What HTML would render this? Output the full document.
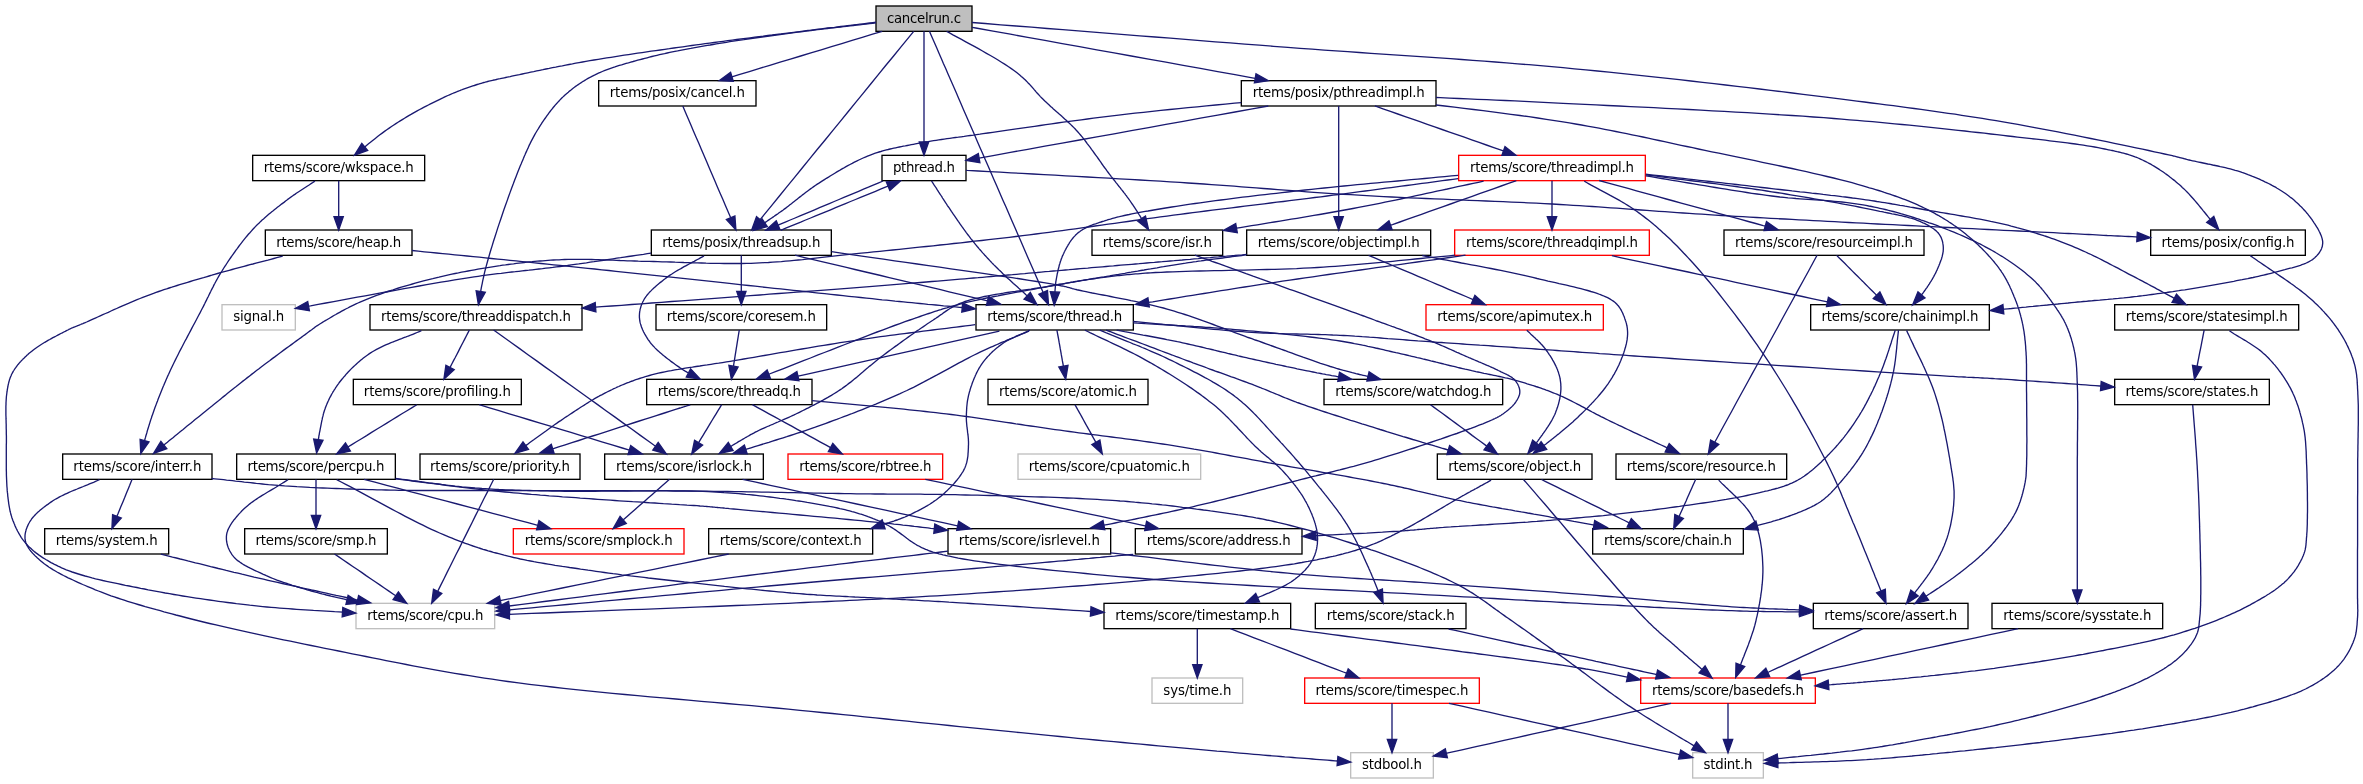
<!DOCTYPE html>
<html><head><meta charset="utf-8"><title>cancelrun.c</title>
<style>
html,body{margin:0;padding:0;background:#fff;}
svg{display:block;will-change:transform;}
text{font-family:"DejaVu Sans","Liberation Sans",sans-serif;font-size:13.333px;fill:#000;text-anchor:middle;}
.e path{fill:none;stroke:#191970;stroke-width:1.333;}
.e polygon{fill:#191970;stroke:#191970;stroke-width:1.333;}
.n rect{stroke-width:1.333;}
</style></head><body>
<svg width="2363" height="784" viewBox="0 0 2363 784">
<rect x="0" y="0" width="2363" height="784" fill="#ffffff"/>
<g class="n">
<rect x="876.00" y="6.00" width="96.00" height="25.33" fill="#bfbfbf" stroke="#000000"/>
<rect x="598.67" y="80.67" width="157.33" height="25.33" fill="#ffffff" stroke="#000000"/>
<rect x="1241.33" y="80.67" width="194.67" height="25.33" fill="#ffffff" stroke="#000000"/>
<rect x="252.67" y="155.33" width="172.00" height="25.33" fill="#ffffff" stroke="#000000"/>
<rect x="882.00" y="155.33" width="84.00" height="25.33" fill="#ffffff" stroke="#000000"/>
<rect x="1458.67" y="155.33" width="186.67" height="25.33" fill="#ffffff" stroke="#ff0000"/>
<rect x="265.33" y="230.00" width="146.67" height="25.33" fill="#ffffff" stroke="#000000"/>
<rect x="651.33" y="230.00" width="180.00" height="25.33" fill="#ffffff" stroke="#000000"/>
<rect x="1092.00" y="230.00" width="130.67" height="25.33" fill="#ffffff" stroke="#000000"/>
<rect x="1246.67" y="230.00" width="184.00" height="25.33" fill="#ffffff" stroke="#000000"/>
<rect x="1454.67" y="230.00" width="194.67" height="25.33" fill="#ffffff" stroke="#ff0000"/>
<rect x="1724.00" y="230.00" width="200.00" height="25.33" fill="#ffffff" stroke="#000000"/>
<rect x="2150.67" y="230.00" width="154.67" height="25.33" fill="#ffffff" stroke="#000000"/>
<rect x="222.00" y="304.67" width="73.33" height="25.33" fill="#ffffff" stroke="#bfbfbf"/>
<rect x="370.00" y="304.67" width="212.00" height="25.33" fill="#ffffff" stroke="#000000"/>
<rect x="656.00" y="304.67" width="170.67" height="25.33" fill="#ffffff" stroke="#000000"/>
<rect x="976.00" y="304.67" width="157.33" height="25.33" fill="#ffffff" stroke="#000000"/>
<rect x="1426.00" y="304.67" width="177.33" height="25.33" fill="#ffffff" stroke="#ff0000"/>
<rect x="1810.67" y="304.67" width="178.67" height="25.33" fill="#ffffff" stroke="#000000"/>
<rect x="2114.67" y="304.67" width="184.00" height="25.33" fill="#ffffff" stroke="#000000"/>
<rect x="353.33" y="379.33" width="168.00" height="25.33" fill="#ffffff" stroke="#000000"/>
<rect x="646.67" y="379.33" width="165.33" height="25.33" fill="#ffffff" stroke="#000000"/>
<rect x="988.00" y="379.33" width="160.00" height="25.33" fill="#ffffff" stroke="#000000"/>
<rect x="1324.00" y="379.33" width="178.67" height="25.33" fill="#ffffff" stroke="#000000"/>
<rect x="2114.67" y="379.33" width="154.67" height="25.33" fill="#ffffff" stroke="#000000"/>
<rect x="62.67" y="454.00" width="149.33" height="25.33" fill="#ffffff" stroke="#000000"/>
<rect x="236.67" y="454.00" width="158.67" height="25.33" fill="#ffffff" stroke="#000000"/>
<rect x="420.00" y="454.00" width="160.00" height="25.33" fill="#ffffff" stroke="#000000"/>
<rect x="604.67" y="454.00" width="158.67" height="25.33" fill="#ffffff" stroke="#000000"/>
<rect x="788.00" y="454.00" width="154.67" height="25.33" fill="#ffffff" stroke="#ff0000"/>
<rect x="1018.00" y="454.00" width="182.67" height="25.33" fill="#ffffff" stroke="#bfbfbf"/>
<rect x="1437.33" y="454.00" width="154.67" height="25.33" fill="#ffffff" stroke="#000000"/>
<rect x="1616.00" y="454.00" width="170.67" height="25.33" fill="#ffffff" stroke="#000000"/>
<rect x="44.67" y="528.67" width="124.00" height="25.33" fill="#ffffff" stroke="#000000"/>
<rect x="244.67" y="528.67" width="142.67" height="25.33" fill="#ffffff" stroke="#000000"/>
<rect x="513.33" y="528.67" width="170.67" height="25.33" fill="#ffffff" stroke="#ff0000"/>
<rect x="708.67" y="528.67" width="164.00" height="25.33" fill="#ffffff" stroke="#000000"/>
<rect x="948.00" y="528.67" width="162.67" height="25.33" fill="#ffffff" stroke="#000000"/>
<rect x="1135.33" y="528.67" width="166.67" height="25.33" fill="#ffffff" stroke="#000000"/>
<rect x="1592.67" y="528.67" width="150.67" height="25.33" fill="#ffffff" stroke="#000000"/>
<rect x="356.00" y="603.33" width="138.67" height="25.33" fill="#ffffff" stroke="#bfbfbf"/>
<rect x="1104.00" y="603.33" width="186.67" height="25.33" fill="#ffffff" stroke="#000000"/>
<rect x="1315.33" y="603.33" width="150.67" height="25.33" fill="#ffffff" stroke="#000000"/>
<rect x="1813.33" y="603.33" width="154.67" height="25.33" fill="#ffffff" stroke="#000000"/>
<rect x="1992.00" y="603.33" width="170.67" height="25.33" fill="#ffffff" stroke="#000000"/>
<rect x="1152.00" y="678.00" width="90.67" height="25.33" fill="#ffffff" stroke="#bfbfbf"/>
<rect x="1304.67" y="678.00" width="174.67" height="25.33" fill="#ffffff" stroke="#ff0000"/>
<rect x="1640.67" y="678.00" width="174.67" height="25.33" fill="#ffffff" stroke="#ff0000"/>
<rect x="1350.67" y="752.67" width="82.67" height="25.33" fill="#ffffff" stroke="#bfbfbf"/>
<rect x="1692.67" y="752.67" width="70.67" height="25.33" fill="#ffffff" stroke="#bfbfbf"/>
</g>
<g class="e">
<path d="M876.0,22.2 L872.8,22.6 L869.5,23.0 L866.3,23.4 L863.1,23.8 L859.9,24.2 L856.7,24.6 L853.5,25.0 L850.3,25.3 L847.2,25.7 L844.0,26.1 L840.8,26.5 L837.6,26.9 L834.4,27.3 L831.1,27.6 L827.9,28.0 L824.6,28.4 L821.4,28.8 L818.1,29.2 L814.8,29.6 L811.4,30.1 L808.0,30.5 L804.6,30.9 L801.2,31.3 L797.7,31.8 L793.6,32.3 L789.4,32.8 L785.2,33.3 L780.9,33.9 L776.6,34.4 L772.3,35.0 L767.9,35.5 L763.5,36.1 L759.1,36.6 L754.7,37.2 L750.2,37.8 L745.7,38.3 L741.2,38.9 L736.7,39.5 L732.2,40.1 L727.6,40.7 L723.1,41.3 L718.6,41.9 L714.1,42.5 L709.6,43.1 L705.1,43.7 L700.6,44.3 L696.2,44.9 L691.8,45.5 L687.3,46.2 L682.9,46.8 L678.4,47.4 L673.9,48.0 L669.4,48.7 L664.8,49.3 L660.3,50.0 L655.8,50.6 L651.2,51.2 L646.7,51.9 L642.1,52.6 L637.6,53.2 L633.1,53.9 L628.6,54.6 L624.2,55.2 L619.8,55.9 L615.4,56.6 L611.0,57.3 L606.7,57.9 L602.4,58.6 L598.2,59.3 L594.0,60.0 L589.9,60.7 L585.9,61.4 L582.5,62.0 L579.1,62.6 L575.8,63.2 L572.4,63.9 L569.0,64.5 L565.7,65.1 L562.3,65.8 L559.0,66.4 L555.7,67.1 L552.5,67.7 L549.2,68.4 L546.0,69.0 L542.9,69.7 L539.8,70.3 L536.7,70.9 L533.7,71.6 L530.7,72.2 L527.8,72.8 L524.9,73.4 L522.2,74.0 L519.5,74.6 L516.8,75.1 L514.2,75.7 L511.8,76.2 L510.2,76.6 L508.7,76.9 L507.2,77.2 L505.7,77.5 L504.3,77.8 L502.9,78.1 L501.5,78.4 L500.2,78.7 L498.9,78.9 L497.6,79.2 L496.4,79.5 L495.1,79.8 L493.9,80.0 L492.6,80.3 L491.4,80.6 L490.2,80.9 L488.9,81.2 L487.7,81.5 L486.5,81.8 L485.2,82.2 L483.9,82.5 L482.6,82.9 L481.3,83.3 L480.0,83.7 L478.6,84.1 L477.1,84.5 L475.7,85.0 L474.3,85.5 L472.8,85.9 L471.4,86.4 L470.0,86.9 L468.5,87.4 L467.1,87.9 L465.7,88.4 L464.2,88.9 L462.8,89.4 L461.3,90.0 L459.9,90.5 L458.4,91.1 L457.0,91.7 L455.5,92.3 L454.0,92.9 L452.5,93.5 L451.0,94.2 L449.5,94.8 L447.9,95.5 L446.4,96.2 L444.8,96.9 L442.8,97.9 L440.8,98.8 L438.8,99.8 L436.7,100.8 L434.7,101.8 L432.6,102.8 L430.5,103.9 L428.4,105.0 L426.2,106.1 L424.1,107.2 L421.9,108.3 L419.7,109.5 L417.6,110.7 L415.4,111.9 L413.2,113.1 L411.0,114.4 L408.8,115.6 L406.7,116.9 L404.5,118.2 L402.3,119.6 L400.2,120.9 L398.0,122.2 L395.9,123.6 L393.8,125.0 L391.5,126.5 L389.2,128.1 L386.8,129.8 L384.5,131.4 L382.2,133.1 L379.9,134.8 L377.6,136.6 L375.3,138.4 L373.0,140.2 L370.8,142.0 L368.5,143.8 L366.2,145.7 L364.7,146.9"/>
<path d="M876.0,22.9 L872.8,23.3 L869.5,23.6 L866.2,24.0 L863.0,24.4 L859.7,24.8 L856.5,25.1 L853.3,25.5 L850.0,25.9 L846.8,26.3 L843.5,26.6 L840.3,27.0 L837.0,27.4 L833.8,27.8 L830.5,28.1 L827.3,28.5 L824.0,28.9 L820.7,29.3 L817.5,29.7 L814.2,30.1 L810.9,30.5 L807.6,30.9 L804.3,31.3 L801.0,31.8 L797.7,32.2 L794.2,32.6 L790.7,33.1 L787.1,33.6 L783.6,34.1 L780.0,34.5 L776.4,35.0 L772.8,35.5 L769.2,36.0 L765.6,36.5 L762.0,37.0 L758.3,37.5 L754.7,38.0 L751.1,38.5 L747.5,39.0 L743.9,39.6 L740.4,40.1 L736.8,40.6 L733.3,41.2 L729.8,41.7 L726.4,42.3 L723.0,42.8 L719.6,43.4 L716.2,43.9 L713.0,44.5 L710.1,45.0 L707.3,45.4 L704.5,45.9 L701.7,46.4 L699.0,46.9 L696.2,47.4 L693.5,47.9 L690.8,48.4 L688.1,48.8 L685.5,49.3 L682.8,49.8 L680.2,50.3 L677.6,50.9 L674.9,51.4 L672.3,51.9 L669.8,52.4 L667.2,53.0 L664.6,53.6 L662.1,54.1 L659.5,54.7 L657.0,55.3 L654.5,55.9 L651.9,56.5 L649.4,57.2 L647.1,57.8 L644.8,58.4 L642.4,59.0 L640.1,59.6 L637.7,60.2 L635.4,60.8 L633.1,61.5 L630.8,62.1 L628.4,62.8 L626.1,63.4 L623.9,64.1 L621.6,64.8 L619.3,65.4 L617.1,66.1 L614.9,66.9 L612.7,67.6 L610.6,68.3 L608.5,69.1 L606.4,69.9 L604.3,70.7 L602.3,71.5 L600.3,72.4 L598.4,73.2 L596.5,74.1 L594.9,74.9 L593.4,75.6 L591.9,76.4 L590.5,77.2 L589.0,77.9 L587.6,78.7 L586.2,79.5 L584.8,80.4 L583.5,81.2 L582.1,82.0 L580.8,82.9 L579.5,83.7 L578.2,84.6 L576.9,85.5 L575.6,86.4 L574.4,87.3 L573.1,88.2 L571.9,89.2 L570.7,90.2 L569.5,91.1 L568.3,92.2 L567.1,93.2 L565.9,94.2 L564.7,95.3 L563.5,96.4 L562.3,97.6 L561.1,98.7 L560.0,99.9 L558.8,101.2 L557.7,102.4 L556.5,103.7 L555.4,104.9 L554.3,106.2 L553.2,107.5 L552.2,108.8 L551.1,110.2 L550.1,111.5 L549.0,112.9 L548.0,114.3 L547.0,115.7 L546.0,117.1 L545.0,118.5 L544.0,119.9 L543.0,121.3 L542.1,122.7 L541.2,124.2 L540.2,125.6 L539.3,127.1 L538.4,128.6 L537.5,130.0 L536.6,131.5 L535.7,133.0 L534.9,134.4 L534.1,135.9 L533.3,137.4 L532.5,138.9 L531.7,140.4 L530.9,141.9 L530.2,143.4 L529.4,144.9 L528.7,146.5 L528.0,148.1 L527.2,149.7 L526.5,151.4 L525.7,153.1 L525.0,154.8 L524.2,156.5 L523.5,158.3 L522.7,160.2 L521.9,162.1 L521.1,164.0 L520.2,166.0 L518.9,169.3 L517.5,172.7 L516.1,176.4 L514.6,180.2 L513.2,184.1 L511.6,188.2 L510.1,192.4 L508.5,196.7 L507.0,201.1 L505.4,205.5 L503.8,210.0 L502.3,214.5 L500.8,219.0 L499.2,223.6 L497.7,228.1 L496.3,232.6 L494.9,237.0 L493.5,241.3 L492.2,245.6 L490.9,249.8 L489.7,253.8 L488.6,257.7 L487.5,261.5 L486.5,265.1 L485.8,267.6 L485.2,270.0 L484.6,272.4 L484.1,274.7 L483.6,277.0 L483.1,279.2 L482.6,281.4 L482.2,283.6 L481.7,285.8 L481.3,287.9 L480.9,290.1 L480.7,291.5"/>
<path d="M882.2,31.3 L872.6,34.2 L862.3,37.3 L852.1,40.4 L841.8,43.6 L831.5,46.7 L821.2,49.8 L810.9,52.9 L800.7,56.0 L790.4,59.1 L780.1,62.2 L769.8,65.3 L759.6,68.4 L749.3,71.6 L739.0,74.7 L731.9,76.8"/>
<path d="M913.7,31.3 L908.8,37.3 L901.2,46.7 L893.6,56.0 L885.9,65.3 L878.3,74.7 L870.7,84.0 L863.1,93.3 L855.5,102.7 L847.9,112.0 L840.3,121.3 L832.7,130.7 L825.1,140.0 L817.4,149.3 L809.8,158.7 L802.2,168.0 L794.6,177.3 L787.0,186.7 L779.4,196.0 L771.8,205.3 L764.2,214.7 L760.1,219.7"/>
<path d="M924.0,31.3 L924.0,37.3 L924.0,43.6 L924.0,49.8 L924.0,56.0 L924.0,62.2 L924.0,68.4 L924.0,74.7 L924.0,80.9 L924.0,87.1 L924.0,93.3 L924.0,99.6 L924.0,105.8 L924.0,112.0 L924.0,118.2 L924.0,124.4 L924.0,130.7 L924.0,136.9 L924.0,142.0"/>
<path d="M929.5,31.3 L930.5,33.7 L932.7,38.7 L934.8,43.6 L937.0,48.6 L939.1,53.5 L941.3,58.4 L943.4,63.4 L945.6,68.3 L947.7,73.2 L949.9,78.2 L952.0,83.1 L954.2,88.1 L956.4,93.1 L958.6,98.2 L960.8,103.3 L963.0,108.4 L965.2,113.5 L967.5,118.7 L969.8,123.9 L972.1,129.2 L974.4,134.6 L976.7,140.0 L979.5,146.4 L982.3,152.8 L985.2,159.4 L988.1,166.0 L991.0,172.7 L993.9,179.4 L996.9,186.2 L999.8,193.0 L1002.8,199.9 L1005.9,206.8 L1008.9,213.8 L1011.9,220.8 L1015.0,227.8 L1018.0,234.8 L1021.1,241.8 L1024.2,248.9 L1027.2,255.9 L1030.3,262.9 L1033.4,270.0 L1036.4,277.0 L1039.5,283.9 L1042.5,290.9 L1043.2,292.5"/>
<path d="M946.6,31.3 L948.7,32.4 L952.9,34.8 L957.2,37.1 L961.5,39.4 L965.8,41.8 L970.0,44.1 L974.3,46.4 L978.4,48.7 L982.5,51.0 L986.5,53.3 L990.4,55.5 L994.3,57.8 L998.0,60.0 L1001.5,62.2 L1005.0,64.4 L1008.2,66.5 L1011.3,68.6 L1014.3,70.7 L1017.0,72.8 L1018.5,74.0 L1020.0,75.2 L1021.3,76.4 L1022.6,77.5 L1023.9,78.7 L1025.1,79.8 L1026.3,81.0 L1027.4,82.1 L1028.4,83.2 L1029.5,84.3 L1030.5,85.4 L1031.5,86.5 L1032.5,87.6 L1033.4,88.7 L1034.4,89.9 L1035.4,91.0 L1036.3,92.1 L1037.3,93.2 L1038.3,94.3 L1039.3,95.4 L1040.4,96.6 L1041.5,97.7 L1042.6,98.8 L1043.8,100.0 L1045.1,101.3 L1046.5,102.6 L1047.8,103.8 L1049.2,105.1 L1050.6,106.4 L1052.0,107.6 L1053.4,108.9 L1054.9,110.2 L1056.3,111.4 L1057.8,112.7 L1059.2,114.0 L1060.7,115.3 L1062.1,116.6 L1063.6,117.9 L1065.0,119.2 L1066.5,120.5 L1067.9,121.9 L1069.4,123.2 L1070.8,124.6 L1072.2,126.0 L1073.6,127.4 L1075.0,128.8 L1076.3,130.3 L1077.7,131.8 L1079.1,133.4 L1080.5,135.0 L1081.9,136.7 L1083.3,138.4 L1084.7,140.2 L1086.1,142.0 L1087.4,143.8 L1088.8,145.6 L1090.2,147.4 L1091.5,149.3 L1092.9,151.1 L1094.2,153.0 L1095.5,154.8 L1096.9,156.7 L1098.2,158.5 L1099.5,160.4 L1100.8,162.2 L1102.0,164.0 L1103.3,165.8 L1104.5,167.5 L1105.8,169.2 L1107.0,170.9 L1108.2,172.5 L1109.4,174.1 L1110.4,175.4 L1111.3,176.6 L1112.3,177.8 L1113.2,179.0 L1114.2,180.2 L1115.1,181.4 L1116.0,182.6 L1116.9,183.7 L1117.8,184.8 L1118.7,186.0 L1119.6,187.1 L1120.5,188.2 L1121.3,189.3 L1122.2,190.4 L1123.1,191.5 L1123.9,192.6 L1124.8,193.7 L1125.6,194.8 L1126.5,195.9 L1127.3,197.1 L1128.1,198.2 L1129.0,199.3 L1129.8,200.5 L1130.6,201.7 L1131.4,202.8 L1132.2,204.0 L1133.0,205.1 L1133.8,206.3 L1134.5,207.4 L1135.3,208.6 L1136.1,209.8 L1136.8,211.0 L1137.6,212.1 L1138.3,213.3 L1139.0,214.5 L1139.8,215.7 L1140.5,216.8 L1141.2,218.0 L1141.5,218.5"/>
<path d="M972.0,27.3 L975.8,28.0 L993.1,31.1 L1010.4,34.2 L1027.7,37.3 L1044.9,40.4 L1062.2,43.6 L1079.5,46.7 L1096.8,49.8 L1114.1,52.9 L1131.3,56.0 L1148.6,59.1 L1165.9,62.2 L1183.2,65.3 L1200.4,68.4 L1217.7,71.6 L1235.0,74.7 L1252.3,77.8 L1255.2,78.3"/>
<path d="M972.0,22.5 L985.2,23.5 L1000.7,24.8 L1016.1,26.0 L1031.6,27.2 L1047.2,28.5 L1062.7,29.7 L1078.2,30.9 L1093.6,32.2 L1109.1,33.4 L1124.5,34.6 L1139.8,35.8 L1155.1,37.0 L1170.3,38.2 L1185.4,39.4 L1200.4,40.6 L1215.3,41.8 L1230.1,42.9 L1244.8,44.1 L1259.3,45.2 L1273.6,46.3 L1287.8,47.4 L1300.0,48.3 L1312.1,49.2 L1324.1,50.1 L1335.9,50.9 L1347.7,51.7 L1359.4,52.5 L1371.0,53.3 L1382.5,54.1 L1393.9,54.9 L1405.3,55.6 L1416.7,56.4 L1428.0,57.2 L1439.2,57.9 L1450.5,58.7 L1461.7,59.5 L1472.9,60.3 L1484.1,61.2 L1495.3,62.0 L1506.5,62.9 L1517.7,63.8 L1529.0,64.7 L1540.3,65.7 L1551.6,66.7 L1563.0,67.7 L1574.4,68.8 L1585.9,69.9 L1597.4,71.0 L1609.0,72.2 L1620.7,73.4 L1632.4,74.6 L1644.1,75.9 L1655.8,77.1 L1667.6,78.4 L1679.3,79.7 L1690.9,81.0 L1702.6,82.3 L1714.1,83.7 L1725.6,85.0 L1737.1,86.3 L1748.4,87.7 L1759.6,89.0 L1770.7,90.4 L1781.6,91.7 L1792.4,93.0 L1803.1,94.3 L1813.5,95.6 L1823.8,96.9 L1833.8,98.2 L1841.7,99.2 L1849.4,100.1 L1856.9,101.1 L1864.4,102.0 L1871.7,103.0 L1879.0,103.9 L1886.2,104.8 L1893.3,105.7 L1900.3,106.7 L1907.2,107.6 L1914.2,108.5 L1921.0,109.4 L1927.9,110.4 L1934.7,111.3 L1941.5,112.3 L1948.2,113.3 L1955.0,114.2 L1961.8,115.3 L1968.6,116.3 L1975.4,117.4 L1982.3,118.4 L1989.2,119.6 L1996.1,120.7 L2003.1,121.9 L2010.3,123.1 L2017.8,124.4 L2025.5,125.8 L2033.4,127.3 L2041.5,128.8 L2049.6,130.4 L2057.9,131.9 L2066.2,133.6 L2074.4,135.2 L2082.7,136.8 L2090.8,138.5 L2098.9,140.1 L2106.7,141.7 L2114.4,143.3 L2121.9,144.9 L2129.1,146.4 L2136.0,147.8 L2142.5,149.2 L2148.7,150.5 L2154.4,151.8 L2159.7,152.9 L2164.5,154.0 L2168.7,154.9 L2172.4,155.7 L2173.4,156.0 L2174.4,156.2 L2175.3,156.4 L2176.1,156.6 L2176.9,156.8 L2177.6,157.0 L2178.3,157.1 L2178.9,157.3 L2179.5,157.5 L2180.1,157.6 L2180.7,157.8 L2181.3,157.9 L2181.8,158.1 L2182.4,158.2 L2182.9,158.4 L2183.5,158.5 L2184.1,158.7 L2184.7,158.9 L2185.3,159.0 L2186.0,159.2 L2186.7,159.4 L2187.5,159.6 L2188.3,159.8 L2189.1,160.0 L2190.8,160.4 L2192.6,160.8 L2194.6,161.2 L2196.6,161.7 L2198.7,162.1 L2200.9,162.5 L2203.1,163.0 L2205.5,163.5 L2207.8,164.0 L2210.3,164.4 L2212.7,165.0 L2215.2,165.5 L2217.8,166.0 L2220.3,166.6 L2222.8,167.1 L2225.3,167.7 L2227.8,168.3 L2230.3,168.9 L2232.8,169.6 L2235.2,170.3 L2237.5,170.9 L2239.8,171.6 L2242.0,172.4 L2244.2,173.1 L2246.1,173.8 L2248.0,174.6 L2250.0,175.3 L2251.9,176.1 L2253.8,176.8 L2255.7,177.6 L2257.5,178.4 L2259.4,179.2 L2261.3,180.1 L2263.1,180.9 L2264.9,181.8 L2266.7,182.6 L2268.5,183.5 L2270.3,184.4 L2272.0,185.4 L2273.8,186.3 L2275.5,187.2 L2277.1,188.2 L2278.8,189.2 L2280.4,190.2 L2282.0,191.2 L2283.5,192.2 L2285.1,193.3 L2286.5,194.3 L2287.8,195.2 L2289.1,196.2 L2290.3,197.2 L2291.6,198.1 L2292.8,199.1 L2294.0,200.1 L2295.2,201.2 L2296.3,202.2 L2297.5,203.2 L2298.6,204.3 L2299.7,205.4 L2300.8,206.4 L2301.9,207.5 L2302.9,208.6 L2303.9,209.7 L2304.9,210.8 L2305.9,211.9 L2306.8,213.0 L2307.8,214.1 L2308.7,215.3 L2309.5,216.4 L2310.4,217.5 L2311.2,218.6 L2312.0,219.7 L2312.6,220.7 L2313.3,221.7 L2313.9,222.6 L2314.6,223.6 L2315.3,224.6 L2315.9,225.7 L2316.5,226.7 L2317.2,227.7 L2317.8,228.7 L2318.4,229.8 L2318.9,230.8 L2319.4,231.8 L2320.0,232.9 L2320.4,233.9 L2320.9,234.9 L2321.3,235.9 L2321.6,236.9 L2321.9,237.9 L2322.2,238.9 L2322.4,239.8 L2322.6,240.8 L2322.7,241.7 L2322.7,242.6 L2322.7,243.5 L2322.6,244.2 L2322.5,244.9 L2322.4,245.6 L2322.3,246.3 L2322.1,247.0 L2321.8,247.7 L2321.6,248.4 L2321.3,249.1 L2321.0,249.7 L2320.7,250.4 L2320.3,251.0 L2319.9,251.7 L2319.5,252.3 L2319.1,253.0 L2318.6,253.6 L2318.1,254.2 L2317.6,254.8 L2317.1,255.4 L2316.5,256.0 L2316.0,256.6 L2315.4,257.1 L2314.8,257.7 L2314.1,258.2 L2313.5,258.8 L2312.5,259.6 L2311.4,260.3 L2310.2,261.0 L2309.0,261.7 L2307.7,262.3 L2306.3,263.0 L2304.9,263.6 L2303.5,264.2 L2301.9,264.7 L2300.4,265.3 L2298.8,265.8 L2297.1,266.3 L2295.4,266.8 L2293.7,267.3 L2292.0,267.8 L2290.2,268.2 L2288.4,268.7 L2286.6,269.2 L2284.8,269.7 L2283.0,270.1 L2281.2,270.6 L2279.4,271.1 L2277.5,271.6 L2275.7,272.1 L2273.4,272.7 L2271.0,273.3 L2268.6,273.9 L2266.1,274.5 L2263.6,275.1 L2261.0,275.7 L2258.4,276.3 L2255.8,276.9 L2253.1,277.5 L2250.4,278.0 L2247.7,278.6 L2244.9,279.1 L2242.2,279.7 L2239.4,280.2 L2236.6,280.7 L2233.8,281.3 L2231.0,281.8 L2228.2,282.3 L2225.4,282.8 L2222.6,283.3 L2219.8,283.8 L2217.0,284.3 L2214.2,284.8 L2211.4,285.3 L2208.5,285.8 L2205.6,286.3 L2202.7,286.8 L2199.7,287.3 L2196.8,287.8 L2193.8,288.3 L2190.8,288.8 L2187.8,289.3 L2184.8,289.8 L2181.8,290.2 L2178.8,290.7 L2175.8,291.1 L2172.8,291.6 L2169.8,292.0 L2166.7,292.5 L2163.7,292.9 L2160.7,293.3 L2157.7,293.7 L2154.8,294.1 L2151.8,294.5 L2148.8,294.9 L2145.9,295.3 L2142.9,295.7 L2140.0,296.0 L2137.2,296.4 L2134.5,296.7 L2131.8,297.0 L2129.1,297.3 L2126.4,297.6 L2123.7,297.9 L2121.0,298.1 L2118.4,298.4 L2115.7,298.6 L2113.1,298.9 L2110.4,299.1 L2107.7,299.4 L2105.1,299.6 L2102.4,299.8 L2099.7,300.1 L2097.0,300.3 L2094.3,300.5 L2091.6,300.8 L2088.9,301.0 L2086.1,301.3 L2083.3,301.5 L2080.5,301.8 L2077.7,302.0 L2074.8,302.3 L2071.5,302.6 L2068.1,303.0 L2064.7,303.3 L2061.3,303.6 L2057.8,304.0 L2054.4,304.3 L2050.9,304.6 L2047.4,305.0 L2043.8,305.3 L2040.3,305.7 L2036.7,306.0 L2033.1,306.4 L2029.5,306.7 L2025.9,307.1 L2022.3,307.4 L2018.7,307.8 L2015.1,308.1 L2011.5,308.5 L2007.9,308.8 L2004.3,309.2 L2003.3,309.3"/>
<path d="M682.8,106.0 L685.3,112.0 L688.0,118.2 L690.7,124.4 L693.3,130.7 L696.0,136.9 L698.7,143.1 L701.3,149.3 L704.0,155.6 L706.7,161.8 L709.3,168.0 L712.0,174.2 L714.7,180.4 L717.3,186.7 L720.0,192.9 L722.7,199.1 L725.3,205.3 L728.0,211.6 L730.7,217.7"/>
<path d="M1241.3,102.6 L1234.7,103.2 L1225.3,104.1 L1215.8,105.0 L1206.5,105.9 L1197.2,106.8 L1188.0,107.7 L1178.8,108.6 L1169.8,109.5 L1160.9,110.4 L1152.1,111.4 L1143.5,112.3 L1135.0,113.2 L1126.7,114.2 L1118.6,115.1 L1112.2,115.9 L1106.0,116.6 L1099.7,117.4 L1093.5,118.2 L1087.4,119.0 L1081.3,119.8 L1075.2,120.6 L1069.2,121.4 L1063.3,122.2 L1057.4,123.0 L1051.6,123.8 L1045.9,124.6 L1040.2,125.5 L1034.6,126.3 L1029.0,127.1 L1023.6,127.8 L1018.2,128.6 L1012.9,129.4 L1007.7,130.2 L1002.6,130.9 L997.6,131.6 L992.7,132.3 L987.9,133.0 L983.1,133.7 L979.9,134.2 L976.6,134.6 L973.5,135.1 L970.3,135.5 L967.3,135.9 L964.2,136.4 L961.3,136.8 L958.3,137.2 L955.4,137.5 L952.6,137.9 L949.8,138.3 L947.0,138.7 L944.2,139.1 L941.5,139.5 L938.8,139.9 L936.1,140.3 L933.5,140.7 L930.8,141.1 L928.2,141.6 L925.6,142.0 L923.1,142.4 L920.5,142.9 L918.0,143.4 L915.4,143.9 L913.3,144.3 L911.3,144.7 L909.2,145.1 L907.2,145.5 L905.3,145.9 L903.3,146.2 L901.4,146.6 L899.4,147.0 L897.5,147.4 L895.7,147.8 L893.8,148.2 L891.9,148.6 L890.1,149.0 L888.2,149.5 L886.4,149.9 L884.5,150.4 L882.7,150.9 L880.8,151.5 L879.0,152.0 L877.1,152.6 L875.3,153.2 L873.4,153.9 L871.5,154.6 L869.6,155.3 L867.5,156.2 L865.3,157.1 L863.1,158.0 L861.0,159.0 L858.8,160.0 L856.6,161.1 L854.4,162.2 L852.2,163.4 L850.0,164.5 L847.8,165.7 L845.6,166.9 L843.4,168.2 L841.2,169.4 L839.1,170.7 L836.9,171.9 L834.8,173.2 L832.7,174.5 L830.6,175.8 L828.5,177.1 L826.4,178.3 L824.4,179.6 L822.4,180.9 L820.5,182.1 L818.6,183.4 L816.9,184.4 L815.3,185.5 L813.7,186.6 L812.1,187.8 L810.5,188.9 L809.0,190.0 L807.4,191.2 L805.9,192.3 L804.4,193.5 L802.9,194.6 L801.5,195.8 L800.0,196.9 L798.5,198.1 L797.1,199.2 L795.7,200.3 L794.2,201.5 L792.8,202.6 L791.4,203.7 L789.9,204.8 L788.5,205.9 L787.1,207.0 L785.7,208.1 L784.3,209.1 L782.9,210.2 L781.6,211.1 L780.3,212.0 L779.1,212.8 L777.9,213.7 L776.6,214.6 L775.4,215.4 L774.2,216.3 L773.0,217.1 L771.7,218.0 L770.5,218.8 L769.3,219.6 L768.1,220.4 L766.9,221.3 L765.7,222.1 L764.7,222.8"/>
<path d="M1268.3,106.0 L1252.3,108.9 L1235.0,112.0 L1217.7,115.1 L1200.4,118.2 L1183.2,121.3 L1165.9,124.4 L1148.6,127.6 L1131.3,130.7 L1114.1,133.8 L1096.8,136.9 L1079.5,140.0 L1062.2,143.1 L1044.9,146.2 L1027.7,149.3 L1010.4,152.4 L993.1,155.6 L979.1,158.1"/>
<path d="M1338.7,106.0 L1338.7,112.0 L1338.7,118.2 L1338.7,124.4 L1338.7,130.7 L1338.7,136.9 L1338.7,143.1 L1338.7,149.3 L1338.7,155.6 L1338.7,161.8 L1338.7,168.0 L1338.7,174.2 L1338.7,180.4 L1338.7,186.7 L1338.7,192.9 L1338.7,199.1 L1338.7,205.3 L1338.7,211.6 L1338.7,216.7"/>
<path d="M1374.9,106.0 L1375.6,106.2 L1383.0,108.8 L1390.4,111.4 L1397.8,114.0 L1405.2,116.6 L1412.6,119.2 L1419.9,121.7 L1427.3,124.3 L1434.7,126.9 L1442.1,129.5 L1449.5,132.1 L1456.9,134.6 L1464.3,137.2 L1471.7,139.8 L1479.1,142.4 L1486.4,145.0 L1493.8,147.6 L1501.2,150.1 L1503.4,150.9"/>
<path d="M1436.0,97.5 L1440.3,97.7 L1449.5,98.1 L1458.8,98.5 L1468.0,98.9 L1477.3,99.3 L1486.7,99.7 L1496.0,100.1 L1505.4,100.5 L1514.9,100.9 L1524.4,101.4 L1534.0,101.8 L1543.6,102.3 L1553.3,102.8 L1563.0,103.3 L1573.9,103.8 L1584.9,104.3 L1596.1,104.9 L1607.4,105.5 L1618.9,106.0 L1630.4,106.6 L1642.1,107.2 L1653.8,107.7 L1665.5,108.3 L1677.3,108.9 L1689.1,109.5 L1700.8,110.2 L1712.5,110.8 L1724.2,111.4 L1735.8,112.1 L1747.3,112.7 L1758.7,113.4 L1770.0,114.1 L1781.1,114.8 L1792.1,115.5 L1802.9,116.2 L1813.4,117.0 L1823.8,117.7 L1833.8,118.5 L1841.7,119.1 L1849.5,119.8 L1857.2,120.4 L1864.9,121.1 L1872.5,121.7 L1880.0,122.4 L1887.4,123.1 L1894.8,123.8 L1902.1,124.5 L1909.4,125.2 L1916.6,125.9 L1923.7,126.7 L1930.7,127.4 L1937.7,128.1 L1944.6,128.8 L1951.4,129.6 L1958.1,130.3 L1964.8,131.0 L1971.4,131.8 L1977.9,132.5 L1984.3,133.2 L1990.7,134.0 L1996.9,134.7 L2003.1,135.4 L2007.9,136.0 L2012.7,136.5 L2017.4,137.1 L2022.1,137.6 L2026.8,138.1 L2031.5,138.7 L2036.2,139.2 L2040.8,139.7 L2045.3,140.2 L2049.8,140.8 L2054.3,141.3 L2058.7,141.8 L2063.0,142.4 L2067.2,142.9 L2071.4,143.5 L2075.5,144.0 L2079.5,144.6 L2083.4,145.2 L2087.2,145.8 L2091.0,146.4 L2094.6,147.0 L2098.1,147.6 L2101.4,148.3 L2104.7,149.0 L2106.6,149.4 L2108.5,149.8 L2110.4,150.2 L2112.1,150.5 L2113.9,150.9 L2115.6,151.3 L2117.2,151.7 L2118.8,152.0 L2120.4,152.4 L2121.9,152.8 L2123.5,153.2 L2125.0,153.6 L2126.5,154.0 L2127.9,154.4 L2129.4,154.9 L2130.8,155.3 L2132.3,155.8 L2133.7,156.3 L2135.1,156.9 L2136.6,157.4 L2138.1,158.0 L2139.5,158.6 L2141.0,159.3 L2142.5,160.0 L2144.2,160.8 L2145.8,161.6 L2147.5,162.5 L2149.1,163.3 L2150.7,164.2 L2152.4,165.2 L2154.0,166.1 L2155.6,167.1 L2157.2,168.1 L2158.8,169.1 L2160.4,170.2 L2162.0,171.2 L2163.6,172.3 L2165.2,173.5 L2166.8,174.6 L2168.4,175.8 L2169.9,177.0 L2171.5,178.2 L2173.0,179.4 L2174.6,180.6 L2176.1,181.9 L2177.6,183.2 L2179.2,184.5 L2180.7,185.8 L2182.3,187.4 L2184.0,188.9 L2185.7,190.6 L2187.3,192.2 L2188.9,193.9 L2190.5,195.7 L2192.1,197.5 L2193.7,199.3 L2195.3,201.1 L2196.9,203.0 L2198.5,204.9 L2200.0,206.8 L2201.6,208.7 L2203.1,210.6 L2204.7,212.5 L2206.3,214.5 L2207.8,216.4 L2209.4,218.3 L2210.2,219.4"/>
<path d="M1436.0,105.0 L1444.7,106.0 L1454.4,107.2 L1464.0,108.3 L1473.6,109.5 L1483.1,110.7 L1492.5,111.9 L1501.8,113.1 L1510.9,114.3 L1520.0,115.5 L1528.9,116.7 L1537.7,118.0 L1546.3,119.3 L1554.7,120.6 L1563.0,121.9 L1569.3,122.9 L1575.5,124.0 L1581.5,125.0 L1587.4,126.1 L1593.3,127.1 L1599.0,128.2 L1604.7,129.3 L1610.3,130.4 L1615.8,131.5 L1621.3,132.6 L1626.7,133.7 L1632.1,134.8 L1637.5,135.9 L1642.9,137.0 L1648.2,138.2 L1653.6,139.3 L1659.0,140.5 L1664.5,141.7 L1670.0,142.9 L1675.5,144.1 L1681.1,145.3 L1686.8,146.5 L1692.6,147.7 L1698.4,149.0 L1705.0,150.4 L1711.8,151.8 L1718.8,153.2 L1725.9,154.7 L1733.0,156.2 L1740.3,157.7 L1747.6,159.2 L1755.0,160.7 L1762.4,162.3 L1769.9,163.8 L1777.3,165.4 L1784.7,167.0 L1792.0,168.5 L1799.2,170.1 L1806.4,171.7 L1813.4,173.3 L1820.3,174.9 L1827.0,176.5 L1833.6,178.0 L1839.9,179.6 L1846.1,181.2 L1852.0,182.7 L1857.6,184.3 L1863.0,185.8 L1866.3,186.8 L1869.4,187.8 L1872.6,188.7 L1875.6,189.6 L1878.6,190.5 L1881.5,191.4 L1884.3,192.4 L1887.1,193.3 L1889.8,194.2 L1892.5,195.1 L1895.1,196.0 L1897.7,196.9 L1900.3,197.8 L1902.8,198.8 L1905.2,199.7 L1907.7,200.7 L1910.1,201.7 L1912.5,202.7 L1914.9,203.7 L1917.2,204.7 L1919.6,205.8 L1921.9,206.9 L1924.2,208.0 L1926.5,209.1 L1928.5,210.1 L1930.5,211.2 L1932.4,212.2 L1934.4,213.2 L1936.3,214.3 L1938.2,215.3 L1940.0,216.4 L1941.9,217.5 L1943.7,218.6 L1945.5,219.7 L1947.3,220.8 L1949.0,222.0 L1950.8,223.1 L1952.5,224.3 L1954.2,225.5 L1955.9,226.6 L1957.6,227.8 L1959.2,229.1 L1960.9,230.3 L1962.5,231.5 L1964.1,232.8 L1965.7,234.1 L1967.3,235.4 L1968.9,236.7 L1970.4,237.9 L1971.9,239.2 L1973.4,240.5 L1974.9,241.9 L1976.3,243.2 L1977.8,244.6 L1979.2,246.0 L1980.7,247.4 L1982.1,248.8 L1983.5,250.2 L1984.9,251.6 L1986.3,253.1 L1987.6,254.5 L1988.9,256.0 L1990.2,257.4 L1991.5,258.9 L1992.8,260.4 L1994.0,261.8 L1995.2,263.3 L1996.3,264.7 L1997.5,266.2 L1998.6,267.7 L1999.6,269.1 L2000.7,270.5 L2001.5,271.8 L2002.3,273.0 L2003.1,274.2 L2003.8,275.4 L2004.6,276.6 L2005.3,277.9 L2006.0,279.1 L2006.7,280.3 L2007.3,281.6 L2008.0,282.8 L2008.6,284.1 L2009.2,285.3 L2009.8,286.5 L2010.3,287.8 L2010.9,289.0 L2011.5,290.2 L2012.0,291.5 L2012.5,292.7 L2013.0,293.9 L2013.5,295.1 L2014.0,296.4 L2014.5,297.6 L2015.0,298.8 L2015.5,300.0 L2015.9,301.1 L2016.3,302.1 L2016.7,303.2 L2017.1,304.3 L2017.5,305.3 L2017.8,306.4 L2018.2,307.4 L2018.5,308.5 L2018.9,309.5 L2019.2,310.6 L2019.5,311.6 L2019.8,312.7 L2020.1,313.7 L2020.4,314.8 L2020.7,315.8 L2020.9,316.9 L2021.2,317.9 L2021.5,319.0 L2021.7,320.0 L2022.0,321.1 L2022.2,322.2 L2022.4,323.2 L2022.7,324.3 L2022.9,325.4 L2023.1,326.5 L2023.3,327.6 L2023.5,328.8 L2023.7,329.9 L2023.9,331.0 L2024.1,332.1 L2024.2,333.3 L2024.4,334.4 L2024.5,335.5 L2024.7,336.7 L2024.8,337.8 L2024.9,339.0 L2025.0,340.1 L2025.2,341.2 L2025.3,342.4 L2025.4,343.6 L2025.5,344.7 L2025.6,345.9 L2025.7,347.0 L2025.7,348.2 L2025.8,349.4 L2025.9,350.6 L2026.0,351.8 L2026.1,352.9 L2026.1,354.2 L2026.2,355.5 L2026.3,356.7 L2026.3,357.9 L2026.4,359.2 L2026.4,360.4 L2026.4,361.6 L2026.4,362.8 L2026.5,364.0 L2026.5,365.3 L2026.5,366.5 L2026.5,367.8 L2026.5,369.0 L2026.5,370.3 L2026.5,371.6 L2026.5,372.9 L2026.5,374.3 L2026.5,375.7 L2026.5,377.1 L2026.5,378.5 L2026.5,380.0 L2026.5,381.5 L2026.5,383.1 L2026.5,384.7 L2026.5,387.4 L2026.5,390.4 L2026.6,393.5 L2026.6,396.8 L2026.6,400.2 L2026.7,403.8 L2026.7,407.5 L2026.7,411.3 L2026.7,415.1 L2026.8,419.0 L2026.8,422.9 L2026.8,426.8 L2026.8,430.7 L2026.8,434.5 L2026.9,438.3 L2026.9,442.0 L2026.8,445.6 L2026.8,449.1 L2026.8,452.4 L2026.8,455.5 L2026.7,458.5 L2026.6,461.2 L2026.6,463.7 L2026.5,466.0 L2026.5,466.9 L2026.4,467.8 L2026.4,468.7 L2026.4,469.5 L2026.3,470.3 L2026.3,471.0 L2026.3,471.7 L2026.2,472.4 L2026.2,473.1 L2026.2,473.7 L2026.1,474.4 L2026.1,475.0 L2026.1,475.6 L2026.0,476.2 L2026.0,476.8 L2025.9,477.5 L2025.8,478.1 L2025.7,478.7 L2025.6,479.4 L2025.5,480.0 L2025.4,480.7 L2025.3,481.4 L2025.2,482.2 L2025.0,482.9 L2024.8,484.0 L2024.6,485.1 L2024.3,486.3 L2024.1,487.4 L2023.8,488.6 L2023.5,489.8 L2023.2,491.0 L2022.9,492.3 L2022.6,493.5 L2022.2,494.8 L2021.9,496.0 L2021.5,497.3 L2021.1,498.6 L2020.7,499.9 L2020.3,501.2 L2019.8,502.5 L2019.3,503.8 L2018.9,505.0 L2018.4,506.3 L2017.8,507.6 L2017.3,508.9 L2016.7,510.1 L2016.1,511.4 L2015.5,512.6 L2014.7,514.0 L2013.9,515.5 L2013.1,516.9 L2012.2,518.4 L2011.3,519.8 L2010.4,521.3 L2009.4,522.7 L2008.4,524.2 L2007.4,525.6 L2006.3,527.1 L2005.2,528.5 L2004.1,530.0 L2003.0,531.4 L2001.9,532.8 L2000.7,534.3 L1999.6,535.7 L1998.4,537.1 L1997.2,538.5 L1996.0,539.8 L1994.9,541.2 L1993.7,542.5 L1992.5,543.9 L1991.3,545.2 L1990.1,546.5 L1988.9,547.7 L1987.7,549.0 L1986.4,550.2 L1985.2,551.4 L1984.0,552.6 L1982.7,553.8 L1981.5,555.0 L1980.2,556.1 L1978.9,557.3 L1977.6,558.4 L1976.3,559.6 L1975.0,560.7 L1973.7,561.8 L1972.3,562.9 L1971.0,564.0 L1969.6,565.1 L1968.2,566.2 L1966.9,567.3 L1965.5,568.4 L1964.1,569.5 L1962.6,570.7 L1961.2,571.8 L1959.8,572.9 L1958.3,574.0 L1956.6,575.3 L1955.0,576.5 L1953.3,577.8 L1951.5,579.0 L1949.8,580.3 L1948.0,581.5 L1946.2,582.7 L1944.4,584.0 L1942.6,585.2 L1940.8,586.4 L1939.0,587.7 L1937.1,588.9 L1935.3,590.1 L1933.4,591.4 L1931.5,592.6 L1929.7,593.8 L1927.8,595.0 L1926.0,596.2"/>
<path d="M338.7,180.7 L338.7,183.6 L338.7,186.7 L338.7,189.8 L338.7,192.9 L338.7,196.0 L338.7,199.1 L338.7,202.2 L338.7,205.3 L338.7,208.4 L338.7,211.6 L338.7,214.7 L338.7,216.7"/>
<path d="M314.9,181.1 L313.7,181.9 L312.5,182.7 L311.4,183.4 L310.2,184.2 L309.1,185.0 L307.9,185.7 L306.7,186.5 L305.6,187.2 L304.4,188.0 L303.3,188.7 L302.1,189.5 L301.0,190.2 L299.8,191.0 L298.7,191.7 L297.5,192.5 L296.3,193.3 L295.2,194.1 L294.0,194.9 L292.8,195.7 L291.7,196.5 L290.5,197.4 L289.3,198.2 L288.1,199.1 L287.0,200.0 L285.6,201.0 L284.3,202.1 L282.9,203.1 L281.5,204.1 L280.1,205.2 L278.8,206.3 L277.4,207.3 L276.0,208.4 L274.6,209.5 L273.2,210.7 L271.8,211.8 L270.4,212.9 L269.0,214.1 L267.6,215.3 L266.2,216.5 L264.8,217.7 L263.5,218.9 L262.1,220.1 L260.7,221.4 L259.4,222.7 L258.1,223.9 L256.7,225.3 L255.4,226.6 L254.1,228.0 L252.7,229.5 L251.3,231.1 L249.9,232.7 L248.4,234.3 L247.0,236.0 L245.6,237.7 L244.2,239.4 L242.8,241.1 L241.5,242.9 L240.1,244.7 L238.7,246.5 L237.4,248.3 L236.0,250.1 L234.7,252.0 L233.4,253.8 L232.1,255.7 L230.8,257.5 L229.5,259.4 L228.3,261.2 L227.1,263.0 L225.9,264.9 L224.7,266.7 L223.5,268.5 L222.4,270.3 L221.3,272.0 L220.3,273.6 L219.4,275.2 L218.4,276.9 L217.5,278.5 L216.6,280.1 L215.7,281.7 L214.9,283.3 L214.0,284.9 L213.2,286.6 L212.4,288.2 L211.5,289.8 L210.7,291.5 L209.9,293.1 L209.1,294.8 L208.3,296.5 L207.4,298.1 L206.6,299.9 L205.7,301.6 L204.9,303.3 L204.0,305.1 L203.1,306.9 L202.1,308.7 L201.2,310.5 L200.0,312.9 L198.7,315.3 L197.4,317.7 L196.1,320.2 L194.8,322.7 L193.4,325.3 L192.0,327.9 L190.6,330.6 L189.2,333.2 L187.8,335.9 L186.4,338.6 L184.9,341.3 L183.5,344.0 L182.1,346.7 L180.7,349.4 L179.3,352.0 L178.0,354.7 L176.7,357.3 L175.4,359.9 L174.1,362.5 L172.9,365.0 L171.7,367.5 L170.5,370.0 L169.4,372.4 L168.6,374.3 L167.7,376.1 L166.9,378.0 L166.1,379.8 L165.3,381.7 L164.5,383.5 L163.8,385.3 L163.0,387.0 L162.3,388.8 L161.6,390.6 L160.9,392.3 L160.2,394.0 L159.5,395.8 L158.8,397.5 L158.1,399.2 L157.5,400.9 L156.8,402.7 L156.2,404.4 L155.6,406.1 L154.9,407.8 L154.3,409.5 L153.7,411.2 L153.1,413.0 L152.5,414.7 L151.9,416.3 L151.4,418.0 L150.8,419.6 L150.3,421.2 L149.8,422.9 L149.3,424.5 L148.8,426.1 L148.3,427.7 L147.8,429.3 L147.3,430.9 L146.9,432.5 L146.4,434.2 L145.9,435.8 L145.5,437.4 L145.0,439.0 L144.6,440.6 L144.5,440.7"/>
<path d="M883.0,181.0 L878.1,183.1 L873.2,185.1 L868.4,187.2 L863.5,189.2 L858.6,191.3 L853.7,193.3 L848.8,195.4 L843.9,197.4 L839.0,199.5 L834.2,201.5 L829.3,203.6 L824.4,205.7 L819.5,207.7 L814.6,209.8 L809.8,211.8 L804.9,213.9 L800.0,215.9 L795.1,218.0 L790.2,220.0 L785.3,222.1 L780.4,224.1 L778.1,225.1"/>
<path d="M931.5,180.9 L932.3,182.1 L933.1,183.3 L933.9,184.6 L934.7,185.8 L935.5,187.0 L936.3,188.2 L937.0,189.4 L937.8,190.6 L938.6,191.9 L939.4,193.1 L940.2,194.3 L941.0,195.5 L941.8,196.7 L942.5,198.0 L943.3,199.2 L944.1,200.4 L944.9,201.6 L945.7,202.8 L946.5,204.0 L947.3,205.3 L948.1,206.5 L949.0,207.7 L949.8,208.9 L950.6,210.1 L951.4,211.4 L952.3,212.6 L953.1,213.9 L954.0,215.1 L954.9,216.4 L955.7,217.6 L956.6,218.9 L957.4,220.1 L958.3,221.4 L959.2,222.6 L960.0,223.9 L960.9,225.1 L961.8,226.4 L962.7,227.6 L963.6,228.9 L964.5,230.1 L965.4,231.3 L966.3,232.6 L967.2,233.8 L968.1,235.0 L969.0,236.2 L969.9,237.4 L970.8,238.6 L971.8,239.8 L972.7,240.9 L973.6,242.0 L974.5,243.2 L975.4,244.3 L976.3,245.4 L977.2,246.5 L978.1,247.5 L979.0,248.6 L980.0,249.7 L980.9,250.7 L981.8,251.8 L982.7,252.9 L983.7,253.9 L984.6,255.0 L985.6,256.0 L986.6,257.1 L987.6,258.2 L988.6,259.3 L989.6,260.4 L990.7,261.5 L991.7,262.6 L992.8,263.7 L993.9,264.9 L995.1,266.0 L996.6,267.5 L998.1,269.0 L999.7,270.6 L1001.3,272.1 L1002.9,273.7 L1004.6,275.3 L1006.3,276.9 L1008.0,278.5 L1009.8,280.1 L1011.6,281.7 L1013.4,283.4 L1015.2,285.0 L1017.0,286.6 L1018.8,288.3 L1020.7,289.9 L1022.5,291.6 L1024.4,293.2 L1026.2,294.9 L1027.1,295.7"/>
<path d="M966.0,170.3 L967.2,170.4 L978.1,171.0 L989.1,171.6 L1000.1,172.2 L1011.0,172.8 L1022.0,173.4 L1033.0,174.0 L1044.0,174.6 L1054.9,175.2 L1065.8,175.8 L1076.6,176.4 L1087.4,177.0 L1098.1,177.6 L1108.7,178.2 L1119.2,178.8 L1129.7,179.4 L1140.0,180.0 L1150.2,180.6 L1160.3,181.2 L1170.2,181.8 L1180.0,182.4 L1188.0,183.0 L1196.0,183.5 L1203.8,184.0 L1211.5,184.6 L1219.1,185.1 L1226.6,185.7 L1234.1,186.2 L1241.5,186.8 L1248.8,187.4 L1256.1,187.9 L1263.4,188.5 L1270.6,189.0 L1277.8,189.6 L1285.0,190.1 L1292.2,190.7 L1299.4,191.2 L1306.7,191.8 L1313.9,192.3 L1321.2,192.8 L1328.6,193.3 L1335.9,193.8 L1343.4,194.3 L1350.9,194.7 L1358.6,195.2 L1366.8,195.7 L1375.0,196.1 L1383.4,196.6 L1391.8,197.0 L1400.3,197.4 L1408.8,197.8 L1417.4,198.1 L1426.0,198.5 L1434.6,198.9 L1443.2,199.2 L1451.8,199.6 L1460.5,199.9 L1469.1,200.3 L1477.6,200.6 L1486.2,201.0 L1494.7,201.3 L1503.1,201.7 L1511.5,202.1 L1519.8,202.4 L1528.1,202.8 L1536.2,203.2 L1544.3,203.6 L1552.2,204.0 L1560.0,204.5 L1566.6,204.9 L1573.1,205.3 L1579.6,205.7 L1585.9,206.1 L1592.2,206.5 L1598.4,206.9 L1604.6,207.3 L1610.7,207.8 L1616.8,208.2 L1622.9,208.6 L1628.9,209.1 L1634.9,209.5 L1640.9,210.0 L1646.9,210.4 L1652.9,210.8 L1658.9,211.3 L1665.0,211.7 L1671.0,212.1 L1677.1,212.6 L1683.2,213.0 L1689.4,213.4 L1695.6,213.8 L1701.9,214.2 L1708.2,214.6 L1715.1,215.1 L1721.9,215.5 L1728.8,215.9 L1735.7,216.3 L1742.7,216.7 L1749.7,217.1 L1756.6,217.5 L1763.6,217.9 L1770.7,218.3 L1777.7,218.7 L1784.8,219.0 L1791.9,219.4 L1798.9,219.8 L1806.1,220.2 L1813.2,220.6 L1820.3,220.9 L1827.4,221.3 L1834.6,221.7 L1841.8,222.1 L1848.9,222.5 L1856.1,222.8 L1863.3,223.2 L1870.5,223.6 L1877.7,224.0 L1885.2,224.3 L1892.8,224.7 L1900.6,225.1 L1908.4,225.5 L1916.3,225.9 L1924.3,226.3 L1932.3,226.7 L1940.3,227.1 L1948.3,227.5 L1956.4,227.9 L1964.4,228.3 L1972.4,228.7 L1980.3,229.1 L1988.2,229.5 L1996.0,229.9 L2003.7,230.3 L2011.2,230.6 L2018.7,231.0 L2026.0,231.4 L2033.2,231.7 L2040.2,232.1 L2047.0,232.4 L2053.6,232.7 L2060.0,233.1 L2064.4,233.3 L2068.6,233.5 L2072.8,233.7 L2076.9,233.9 L2080.9,234.1 L2084.8,234.3 L2088.7,234.5 L2092.5,234.7 L2096.2,234.9 L2099.9,235.1 L2103.5,235.3 L2107.2,235.5 L2110.7,235.6 L2114.3,235.8 L2117.9,236.0 L2121.4,236.2 L2125.0,236.4 L2128.5,236.5 L2132.1,236.7 L2135.7,236.9 L2137.1,237.0"/>
<path d="M1458.1,175.3 L1451.4,175.9 L1444.7,176.6 L1438.0,177.2 L1431.3,177.8 L1424.6,178.5 L1417.8,179.1 L1411.1,179.7 L1404.3,180.3 L1397.6,181.0 L1390.8,181.6 L1384.0,182.2 L1377.3,182.8 L1370.6,183.4 L1363.9,184.1 L1357.2,184.7 L1350.6,185.4 L1343.9,186.0 L1337.4,186.6 L1330.8,187.3 L1324.3,188.0 L1317.9,188.6 L1311.5,189.3 L1305.1,190.0 L1298.8,190.7 L1293.2,191.3 L1287.6,192.0 L1282.0,192.6 L1276.3,193.3 L1270.7,193.9 L1265.0,194.6 L1259.4,195.2 L1253.8,195.9 L1248.2,196.6 L1242.6,197.2 L1237.1,197.9 L1231.6,198.6 L1226.2,199.3 L1220.9,200.0 L1215.6,200.7 L1210.3,201.4 L1205.2,202.1 L1200.1,202.8 L1195.1,203.5 L1190.2,204.2 L1185.4,204.9 L1180.8,205.6 L1176.2,206.3 L1171.8,207.0 L1168.7,207.5 L1165.6,208.0 L1162.6,208.5 L1159.6,209.0 L1156.6,209.5 L1153.7,210.0 L1150.9,210.5 L1148.0,211.0 L1145.2,211.4 L1142.4,211.9 L1139.7,212.4 L1137.0,212.9 L1134.4,213.4 L1131.8,213.9 L1129.2,214.5 L1126.7,215.0 L1124.3,215.5 L1121.8,216.1 L1119.4,216.7 L1117.1,217.2 L1114.8,217.8 L1112.6,218.4 L1110.4,219.1 L1108.2,219.7 L1106.8,220.2 L1105.3,220.6 L1103.8,221.1 L1102.4,221.5 L1101.0,222.0 L1099.6,222.4 L1098.3,222.9 L1096.9,223.3 L1095.6,223.8 L1094.3,224.2 L1093.0,224.7 L1091.8,225.2 L1090.5,225.7 L1089.3,226.2 L1088.2,226.7 L1087.0,227.2 L1085.9,227.8 L1084.7,228.4 L1083.7,229.0 L1082.6,229.6 L1081.6,230.3 L1080.5,231.0 L1079.6,231.7 L1078.6,232.4 L1077.8,233.1 L1077.0,233.8 L1076.2,234.6 L1075.4,235.3 L1074.7,236.1 L1073.9,236.9 L1073.2,237.7 L1072.6,238.5 L1071.9,239.4 L1071.3,240.2 L1070.6,241.1 L1070.0,242.0 L1069.4,242.9 L1068.9,243.8 L1068.3,244.7 L1067.8,245.6 L1067.2,246.6 L1066.7,247.5 L1066.2,248.4 L1065.7,249.4 L1065.2,250.3 L1064.7,251.3 L1064.2,252.2 L1063.8,253.2 L1063.3,254.2 L1062.9,255.1 L1062.4,256.1 L1062.0,257.2 L1061.6,258.2 L1061.2,259.2 L1060.9,260.2 L1060.5,261.3 L1060.2,262.3 L1059.9,263.4 L1059.5,264.5 L1059.2,265.5 L1059.0,266.6 L1058.7,267.7 L1058.4,268.8 L1058.1,269.9 L1057.9,271.0 L1057.7,272.1 L1057.4,273.2 L1057.2,274.2 L1057.0,275.3 L1056.8,276.4 L1056.6,277.5 L1056.4,278.6 L1056.2,279.7 L1056.0,280.8 L1055.8,281.9 L1055.7,283.0 L1055.6,284.1 L1055.5,285.2 L1055.3,286.3 L1055.3,287.4 L1055.2,288.5 L1055.1,289.6 L1055.0,290.7 L1055.0,291.9 L1055.0,292.0"/>
<path d="M1483.6,181.2 L1478.4,182.3 L1473.2,183.4 L1468.0,184.5 L1462.8,185.6 L1457.6,186.7 L1452.4,187.8 L1447.3,189.0 L1442.1,190.1 L1436.9,191.2 L1431.8,192.3 L1426.6,193.4 L1421.4,194.6 L1416.2,195.7 L1411.0,196.8 L1405.8,197.9 L1400.6,199.0 L1395.4,200.1 L1390.2,201.2 L1385.0,202.2 L1379.7,203.3 L1374.5,204.4 L1369.2,205.4 L1363.9,206.4 L1358.6,207.4 L1353.0,208.5 L1347.5,209.5 L1341.9,210.5 L1336.4,211.5 L1330.8,212.5 L1325.2,213.5 L1319.6,214.5 L1313.9,215.4 L1308.3,216.4 L1302.6,217.3 L1297.0,218.3 L1291.3,219.2 L1285.7,220.1 L1280.0,221.1 L1274.3,222.0 L1268.6,222.9 L1263.0,223.8 L1257.3,224.8 L1251.6,225.7 L1246.0,226.6 L1240.3,227.6 L1236.5,228.2"/>
<path d="M1458.1,178.6 L1452.9,179.3 L1447.7,180.0 L1442.5,180.7 L1437.4,181.4 L1432.2,182.1 L1427.1,182.8 L1422.0,183.4 L1416.9,184.1 L1411.7,184.8 L1406.6,185.5 L1401.5,186.2 L1396.4,186.9 L1391.2,187.6 L1386.0,188.2 L1380.9,188.9 L1375.7,189.6 L1370.4,190.3 L1365.2,191.0 L1359.9,191.7 L1354.6,192.4 L1349.3,193.1 L1343.9,193.8 L1338.5,194.5 L1333.1,195.2 L1327.0,196.0 L1320.9,196.8 L1314.7,197.5 L1308.5,198.3 L1302.2,199.1 L1295.9,199.9 L1289.6,200.7 L1283.3,201.5 L1276.9,202.2 L1270.5,203.0 L1264.1,203.8 L1257.6,204.6 L1251.2,205.4 L1244.7,206.2 L1238.2,207.0 L1231.7,207.8 L1225.3,208.6 L1218.8,209.4 L1212.3,210.2 L1205.8,211.0 L1199.3,211.8 L1192.9,212.7 L1186.4,213.5 L1180.0,214.3 L1173.5,215.2 L1167.0,216.1 L1160.4,216.9 L1153.9,217.8 L1147.4,218.7 L1140.9,219.6 L1134.3,220.5 L1127.8,221.5 L1121.2,222.4 L1114.7,223.3 L1108.2,224.2 L1101.6,225.1 L1095.0,226.0 L1088.5,227.0 L1081.9,227.9 L1075.3,228.8 L1068.8,229.7 L1062.2,230.6 L1055.6,231.4 L1049.0,232.3 L1042.4,233.2 L1035.9,234.0 L1029.3,234.8 L1022.7,235.7 L1015.9,236.5 L1009.2,237.3 L1002.4,238.1 L995.5,238.9 L988.6,239.7 L981.7,240.5 L974.7,241.2 L967.8,242.0 L960.8,242.8 L953.8,243.5 L946.9,244.3 L940.0,245.0 L933.1,245.8 L926.2,246.5 L919.4,247.2 L912.6,247.9 L905.9,248.6 L899.2,249.3 L892.7,250.0 L886.2,250.6 L879.8,251.3 L873.5,251.9 L867.3,252.6 L861.2,253.2 L856.4,253.7 L851.6,254.2 L846.9,254.7 L842.3,255.2 L837.7,255.7 L833.2,256.2 L828.7,256.7 L824.3,257.2 L819.9,257.7 L815.5,258.2 L811.2,258.7 L806.9,259.1 L802.6,259.6 L798.3,260.0 L794.1,260.4 L789.8,260.8 L785.5,261.2 L781.3,261.6 L777.0,261.9 L772.7,262.2 L768.4,262.5 L764.1,262.7 L759.7,262.9 L755.3,263.1 L750.9,263.3 L746.5,263.4 L742.0,263.5 L737.5,263.5 L733.1,263.5 L728.6,263.5 L724.1,263.5 L719.6,263.4 L715.1,263.4 L710.6,263.3 L706.1,263.2 L701.6,263.0 L697.2,262.9 L692.7,262.8 L688.3,262.6 L683.8,262.5 L679.4,262.3 L675.1,262.2 L670.7,262.0 L666.4,261.9 L662.1,261.8 L657.8,261.6 L653.6,261.5 L649.4,261.4 L645.7,261.4 L642.0,261.3 L638.3,261.2 L634.6,261.0 L631.0,260.9 L627.3,260.8 L623.7,260.6 L620.1,260.5 L616.5,260.3 L612.9,260.2 L609.3,260.1 L605.8,259.9 L602.2,259.8 L598.7,259.7 L595.2,259.6 L591.7,259.5 L588.3,259.4 L584.9,259.4 L581.4,259.3 L578.1,259.3 L574.7,259.3 L571.3,259.4 L568.0,259.4 L564.7,259.5 L561.8,259.6 L559.0,259.8 L556.2,259.9 L553.5,260.0 L550.7,260.2 L548.0,260.4 L545.3,260.6 L542.7,260.8 L540.0,261.0 L537.4,261.2 L534.7,261.4 L532.1,261.7 L529.5,261.9 L526.9,262.2 L524.2,262.5 L521.6,262.8 L519.0,263.1 L516.3,263.4 L513.6,263.8 L511.0,264.1 L508.3,264.5 L505.5,264.9 L502.8,265.2 L500.0,265.7 L496.9,266.1 L493.8,266.6 L490.7,267.1 L487.5,267.6 L484.3,268.1 L481.1,268.6 L477.9,269.2 L474.6,269.8 L471.4,270.4 L468.1,271.0 L464.9,271.6 L461.6,272.2 L458.4,272.9 L455.1,273.5 L451.9,274.2 L448.6,274.9 L445.4,275.6 L442.2,276.3 L439.0,277.1 L435.9,277.8 L432.8,278.6 L429.7,279.3 L426.6,280.1 L423.5,280.9 L420.8,281.6 L418.0,282.4 L415.2,283.2 L412.4,284.0 L409.6,284.8 L406.8,285.6 L404.1,286.4 L401.3,287.2 L398.6,288.0 L395.8,288.9 L393.1,289.8 L390.4,290.6 L387.7,291.5 L385.1,292.4 L382.4,293.3 L379.8,294.3 L377.3,295.2 L374.7,296.1 L372.2,297.1 L369.7,298.1 L367.2,299.1 L364.8,300.1 L362.4,301.1 L360.0,302.1 L358.0,303.0 L356.0,303.9 L354.0,304.9 L351.9,305.9 L349.8,306.9 L347.8,308.0 L345.7,309.0 L343.7,310.1 L341.7,311.2 L339.7,312.3 L337.7,313.4 L335.8,314.5 L333.9,315.5 L332.1,316.6 L330.3,317.7 L328.6,318.7 L326.9,319.7 L325.3,320.6 L323.8,321.5 L322.4,322.4 L321.1,323.2 L319.8,324.0 L318.7,324.7 L317.7,325.4 L317.3,325.6 L316.9,325.8 L316.6,326.0 L316.3,326.2 L316.0,326.4 L315.8,326.6 L315.5,326.8 L315.3,326.9 L315.1,327.1 L314.9,327.3 L314.7,327.4 L314.5,327.6 L314.3,327.7 L314.1,327.9 L313.9,328.0 L313.7,328.2 L313.4,328.4 L313.2,328.6 L312.9,328.8 L312.7,329.0 L312.4,329.2 L312.0,329.5 L311.7,329.7 L311.3,330.0 L310.0,330.9 L308.5,332.0 L306.9,333.2 L305.1,334.6 L303.1,336.0 L301.0,337.6 L298.7,339.2 L296.4,340.9 L293.9,342.7 L291.4,344.6 L288.8,346.5 L286.1,348.4 L283.4,350.4 L280.6,352.5 L277.9,354.5 L275.1,356.6 L272.3,358.6 L269.6,360.7 L266.8,362.7 L264.1,364.7 L261.5,366.7 L259.0,368.7 L256.5,370.5 L254.1,372.4 L251.9,374.1 L249.6,375.9 L247.4,377.6 L245.1,379.4 L242.9,381.1 L240.6,382.9 L238.4,384.7 L236.2,386.5 L233.9,388.2 L231.7,390.0 L229.5,391.8 L227.3,393.6 L225.1,395.4 L222.9,397.1 L220.7,398.9 L218.5,400.7 L216.3,402.4 L214.1,404.2 L212.0,406.0 L209.8,407.7 L207.6,409.5 L205.5,411.2 L203.3,413.0 L201.2,414.7 L199.1,416.4 L197.1,418.0 L195.1,419.6 L193.1,421.3 L191.1,422.9 L189.1,424.5 L187.1,426.1 L185.1,427.7 L183.1,429.4 L181.1,431.0 L179.2,432.6 L177.2,434.2 L175.2,435.8 L173.3,437.4 L171.3,439.0 L169.3,440.6 L167.4,442.2 L165.4,443.8 L163.9,445.0"/>
<path d="M1516.3,180.7 L1515.8,180.9 L1508.5,183.4 L1501.2,186.0 L1494.0,188.6 L1486.8,191.1 L1479.5,193.7 L1472.2,196.3 L1465.0,198.8 L1457.8,201.4 L1450.5,204.0 L1443.2,206.6 L1436.0,209.1 L1428.8,211.7 L1421.5,214.3 L1414.2,216.8 L1407.0,219.4 L1399.8,222.0 L1392.5,224.6 L1390.6,225.2"/>
<path d="M1552.0,180.7 L1552.0,183.6 L1552.0,186.7 L1552.0,189.8 L1552.0,192.9 L1552.0,196.0 L1552.0,199.1 L1552.0,202.2 L1552.0,205.3 L1552.0,208.4 L1552.0,211.6 L1552.0,214.7 L1552.0,216.7"/>
<path d="M1584.3,181.2 L1586.6,182.5 L1588.9,183.8 L1591.2,185.1 L1593.5,186.3 L1595.9,187.6 L1598.2,188.8 L1600.5,190.1 L1602.8,191.3 L1605.2,192.6 L1607.5,193.8 L1609.8,195.1 L1612.1,196.3 L1614.4,197.6 L1616.7,198.9 L1619.0,200.2 L1621.3,201.5 L1623.6,202.8 L1625.9,204.2 L1628.1,205.6 L1630.4,207.0 L1632.6,208.5 L1634.8,210.0 L1637.0,211.5 L1639.2,213.1 L1641.4,214.7 L1643.6,216.4 L1645.8,218.1 L1648.0,219.8 L1650.2,221.5 L1652.3,223.3 L1654.4,225.1 L1656.5,226.8 L1658.6,228.7 L1660.7,230.5 L1662.7,232.4 L1664.8,234.2 L1666.9,236.2 L1668.9,238.1 L1671.0,240.1 L1673.1,242.2 L1675.2,244.2 L1677.3,246.3 L1679.4,248.5 L1681.5,250.7 L1683.6,253.0 L1685.8,255.3 L1688.0,257.6 L1690.2,260.0 L1693.2,263.3 L1696.3,266.7 L1699.4,270.3 L1702.5,273.9 L1705.7,277.7 L1708.9,281.5 L1712.1,285.4 L1715.4,289.4 L1718.7,293.5 L1721.9,297.6 L1725.2,301.8 L1728.5,306.1 L1731.8,310.3 L1735.1,314.7 L1738.3,319.0 L1741.6,323.4 L1744.8,327.7 L1748.0,332.1 L1751.1,336.5 L1754.2,340.9 L1757.3,345.2 L1760.3,349.6 L1763.2,353.9 L1766.1,358.2 L1769.0,362.4 L1771.8,366.7 L1774.6,371.1 L1777.4,375.5 L1780.2,380.0 L1783.0,384.5 L1785.8,389.0 L1788.5,393.5 L1791.3,398.1 L1793.9,402.6 L1796.6,407.2 L1799.2,411.7 L1801.8,416.3 L1804.4,420.8 L1806.9,425.3 L1809.4,429.7 L1811.8,434.1 L1814.2,438.5 L1816.5,442.8 L1818.7,447.0 L1820.9,451.2 L1823.0,455.2 L1825.1,459.2 L1827.1,463.1 L1828.5,466.0 L1829.9,468.8 L1831.2,471.5 L1832.5,474.2 L1833.7,476.8 L1834.9,479.4 L1836.1,482.0 L1837.2,484.5 L1838.3,487.1 L1839.4,489.6 L1840.5,492.0 L1841.5,494.5 L1842.5,497.0 L1843.6,499.4 L1844.6,501.9 L1845.6,504.4 L1846.6,506.9 L1847.7,509.4 L1848.7,511.9 L1849.7,514.5 L1850.8,517.1 L1851.9,519.7 L1853.0,522.4 L1854.2,525.1 L1855.5,528.2 L1856.8,531.3 L1858.1,534.4 L1859.4,537.6 L1860.7,540.8 L1862.0,544.0 L1863.3,547.2 L1864.6,550.5 L1866.0,553.7 L1867.3,557.0 L1868.6,560.3 L1870.0,563.6 L1871.3,566.9 L1872.6,570.2 L1874.0,573.6 L1875.3,576.9 L1876.7,580.2 L1878.0,583.5 L1879.3,586.8 L1880.7,590.2 L1881.0,590.9"/>
<path d="M1599.2,180.5 L1606.6,182.6 L1614.1,184.6 L1621.5,186.7 L1629.0,188.7 L1636.5,190.8 L1643.9,192.8 L1651.4,194.9 L1658.8,196.9 L1666.3,199.0 L1673.7,201.0 L1681.2,203.1 L1688.7,205.1 L1696.1,207.2 L1703.6,209.2 L1711.0,211.2 L1718.5,213.3 L1725.9,215.3 L1733.4,217.4 L1740.8,219.4 L1748.3,221.5 L1755.8,223.5 L1763.2,225.6 L1765.3,226.1"/>
<path d="M1645.8,174.2 L1651.0,174.8 L1656.3,175.4 L1661.7,176.0 L1667.0,176.6 L1672.4,177.2 L1677.7,177.8 L1683.1,178.4 L1688.5,179.1 L1693.9,179.7 L1699.3,180.3 L1704.7,180.9 L1710.0,181.5 L1715.4,182.1 L1720.7,182.7 L1726.0,183.3 L1731.3,183.9 L1736.5,184.5 L1741.7,185.1 L1746.9,185.7 L1752.0,186.3 L1757.0,186.9 L1762.0,187.5 L1766.9,188.0 L1771.8,188.6 L1775.9,189.1 L1779.9,189.5 L1784.0,190.0 L1788.0,190.4 L1792.0,190.9 L1796.0,191.3 L1800.0,191.8 L1803.9,192.2 L1807.8,192.6 L1811.7,193.1 L1815.5,193.5 L1819.4,193.9 L1823.1,194.4 L1826.9,194.8 L1830.7,195.3 L1834.4,195.7 L1838.1,196.1 L1841.7,196.6 L1845.3,197.0 L1848.9,197.5 L1852.5,198.0 L1856.0,198.4 L1859.5,198.9 L1863.0,199.4 L1865.9,199.8 L1868.7,200.2 L1871.4,200.6 L1874.2,201.0 L1876.8,201.5 L1879.5,201.9 L1882.1,202.3 L1884.7,202.7 L1887.3,203.1 L1889.8,203.5 L1892.4,204.0 L1894.9,204.4 L1897.5,204.8 L1900.0,205.3 L1902.6,205.7 L1905.1,206.2 L1907.7,206.6 L1910.3,207.1 L1912.9,207.5 L1915.6,208.0 L1918.2,208.5 L1921.0,209.0 L1923.7,209.5 L1926.5,210.0 L1929.8,210.6 L1933.2,211.1 L1936.6,211.7 L1940.1,212.3 L1943.6,212.9 L1947.2,213.5 L1950.8,214.1 L1954.4,214.7 L1958.0,215.3 L1961.7,216.0 L1965.3,216.6 L1969.0,217.2 L1972.6,217.9 L1976.3,218.6 L1979.9,219.2 L1983.6,219.9 L1987.2,220.6 L1990.7,221.4 L1994.3,222.1 L1997.8,222.9 L2001.2,223.6 L2004.6,224.4 L2008.0,225.2 L2011.2,226.1 L2014.1,226.8 L2016.9,227.6 L2019.7,228.3 L2022.5,229.1 L2025.2,229.9 L2027.9,230.7 L2030.6,231.5 L2033.3,232.3 L2035.9,233.1 L2038.5,234.0 L2041.2,234.8 L2043.8,235.7 L2046.4,236.5 L2049.0,237.4 L2051.5,238.3 L2054.1,239.2 L2056.7,240.2 L2059.3,241.1 L2061.8,242.1 L2064.4,243.1 L2067.0,244.1 L2069.6,245.1 L2072.2,246.2 L2074.8,247.3 L2077.5,248.4 L2080.2,249.6 L2082.9,250.8 L2085.6,252.0 L2088.3,253.3 L2091.0,254.5 L2093.7,255.9 L2096.4,257.2 L2099.2,258.5 L2101.9,259.9 L2104.6,261.3 L2107.3,262.7 L2109.9,264.1 L2112.6,265.5 L2115.3,266.8 L2117.9,268.2 L2120.5,269.6 L2123.1,271.0 L2125.7,272.4 L2128.3,273.8 L2130.8,275.1 L2133.4,276.4 L2135.8,277.7 L2138.3,279.0 L2140.4,280.1 L2142.5,281.2 L2144.6,282.3 L2146.7,283.4 L2148.7,284.5 L2150.7,285.6 L2152.7,286.6 L2154.7,287.7 L2156.7,288.8 L2158.7,289.8 L2160.6,290.9 L2162.6,292.0 L2164.5,293.0 L2166.5,294.1 L2168.4,295.1 L2170.3,296.2 L2172.3,297.2 L2174.2,298.3 L2174.2,298.3"/>
<path d="M1645.8,174.8 L1651.0,175.5 L1656.3,176.2 L1661.6,176.9 L1666.9,177.6 L1672.2,178.3 L1677.5,179.0 L1682.9,179.6 L1688.2,180.3 L1693.5,181.0 L1698.8,181.7 L1704.2,182.4 L1709.5,183.0 L1714.8,183.7 L1720.1,184.4 L1725.4,185.1 L1730.6,185.8 L1735.9,186.5 L1741.1,187.3 L1746.3,188.0 L1751.4,188.7 L1756.6,189.5 L1761.7,190.2 L1766.7,191.0 L1771.8,191.8 L1776.4,192.5 L1781.1,193.2 L1785.8,194.0 L1790.5,194.8 L1795.3,195.6 L1800.1,196.4 L1804.8,197.2 L1809.6,198.0 L1814.3,198.8 L1819.0,199.6 L1823.7,200.4 L1828.3,201.3 L1832.9,202.1 L1837.4,202.9 L1841.9,203.8 L1846.3,204.6 L1850.6,205.4 L1854.8,206.2 L1858.9,207.0 L1862.9,207.8 L1866.8,208.6 L1870.6,209.3 L1874.2,210.1 L1877.7,210.8 L1879.8,211.3 L1881.9,211.7 L1884.0,212.2 L1886.1,212.6 L1888.1,213.0 L1890.1,213.4 L1892.0,213.8 L1893.9,214.1 L1895.8,214.5 L1897.6,214.9 L1899.4,215.3 L1901.2,215.7 L1903.0,216.1 L1904.7,216.5 L1906.4,216.9 L1908.0,217.3 L1909.6,217.8 L1911.2,218.2 L1912.7,218.7 L1914.3,219.2 L1915.7,219.7 L1917.2,220.3 L1918.6,220.8 L1920.0,221.4 L1921.0,221.9 L1922.0,222.3 L1923.0,222.8 L1923.9,223.2 L1924.9,223.7 L1925.8,224.2 L1926.8,224.6 L1927.7,225.1 L1928.6,225.6 L1929.4,226.1 L1930.3,226.6 L1931.1,227.1 L1931.9,227.7 L1932.7,228.2 L1933.5,228.7 L1934.2,229.3 L1934.9,229.9 L1935.6,230.4 L1936.3,231.0 L1936.9,231.6 L1937.5,232.2 L1938.1,232.8 L1938.6,233.5 L1939.1,234.1 L1939.5,234.7 L1939.8,235.2 L1940.2,235.8 L1940.5,236.3 L1940.8,236.9 L1941.1,237.5 L1941.3,238.1 L1941.6,238.7 L1941.8,239.3 L1942.0,239.9 L1942.2,240.5 L1942.4,241.1 L1942.5,241.8 L1942.7,242.4 L1942.8,243.0 L1942.9,243.7 L1943.0,244.3 L1943.1,245.0 L1943.2,245.6 L1943.2,246.3 L1943.3,246.9 L1943.3,247.6 L1943.3,248.3 L1943.3,248.9 L1943.3,249.8 L1943.2,250.6 L1943.2,251.4 L1943.0,252.3 L1942.9,253.1 L1942.7,254.0 L1942.5,254.9 L1942.3,255.8 L1942.1,256.7 L1941.8,257.6 L1941.6,258.5 L1941.3,259.4 L1940.9,260.3 L1940.6,261.2 L1940.3,262.1 L1939.9,263.0 L1939.6,263.9 L1939.2,264.8 L1938.9,265.7 L1938.5,266.6 L1938.1,267.5 L1937.7,268.4 L1937.3,269.3 L1937.0,270.1 L1936.5,271.0 L1936.1,271.9 L1935.7,272.9 L1935.2,273.8 L1934.7,274.7 L1934.2,275.6 L1933.7,276.6 L1933.2,277.5 L1932.7,278.4 L1932.2,279.3 L1931.6,280.2 L1931.1,281.1 L1930.5,282.0 L1929.9,282.9 L1929.4,283.8 L1928.8,284.7 L1928.2,285.6 L1927.6,286.4 L1927.1,287.3 L1926.5,288.1 L1925.9,288.9 L1925.4,289.7 L1924.8,290.5 L1924.3,291.3 L1923.8,291.9 L1923.3,292.6 L1922.8,293.2 L1922.4,293.8 L1921.9,294.4 L1921.5,294.9"/>
<path d="M1645.8,175.9 L1651.0,176.7 L1656.3,177.6 L1661.7,178.5 L1667.0,179.4 L1672.4,180.3 L1677.7,181.2 L1683.1,182.1 L1688.5,183.0 L1693.9,183.9 L1699.3,184.8 L1704.7,185.7 L1710.0,186.6 L1715.4,187.5 L1720.7,188.4 L1726.0,189.2 L1731.2,190.1 L1736.5,190.9 L1741.7,191.7 L1746.8,192.5 L1751.9,193.3 L1757.0,194.0 L1762.0,194.7 L1766.9,195.4 L1771.8,196.0 L1775.9,196.5 L1779.9,197.0 L1784.0,197.4 L1788.0,197.8 L1792.0,198.1 L1796.0,198.5 L1800.0,198.8 L1803.9,199.1 L1807.8,199.4 L1811.7,199.6 L1815.5,199.9 L1819.4,200.2 L1823.2,200.4 L1827.0,200.7 L1830.7,201.0 L1834.4,201.3 L1838.1,201.6 L1841.8,202.0 L1845.4,202.4 L1849.0,202.8 L1852.5,203.3 L1856.1,203.8 L1859.5,204.3 L1863.0,204.9 L1865.9,205.4 L1868.7,206.0 L1871.6,206.5 L1874.3,207.1 L1877.1,207.7 L1879.8,208.3 L1882.5,208.9 L1885.2,209.5 L1887.8,210.2 L1890.4,210.8 L1893.1,211.5 L1895.7,212.2 L1898.2,212.9 L1900.8,213.7 L1903.4,214.4 L1905.9,215.1 L1908.5,215.9 L1911.1,216.7 L1913.6,217.5 L1916.2,218.3 L1918.8,219.2 L1921.3,220.1 L1923.9,220.9 L1926.5,221.8 L1929.2,222.8 L1931.9,223.7 L1934.7,224.7 L1937.4,225.7 L1940.1,226.8 L1942.9,227.8 L1945.7,228.9 L1948.4,230.0 L1951.2,231.1 L1953.9,232.2 L1956.7,233.4 L1959.4,234.5 L1962.1,235.7 L1964.8,236.9 L1967.5,238.1 L1970.1,239.3 L1972.7,240.5 L1975.3,241.7 L1977.9,243.0 L1980.4,244.2 L1982.9,245.5 L1985.3,246.8 L1987.7,248.1 L1990.1,249.4 L1992.1,250.5 L1994.1,251.6 L1996.0,252.8 L1998.0,254.0 L2000.0,255.2 L2001.9,256.3 L2003.8,257.5 L2005.7,258.8 L2007.6,260.0 L2009.4,261.2 L2011.3,262.5 L2013.1,263.7 L2014.9,265.0 L2016.6,266.2 L2018.3,267.5 L2020.0,268.8 L2021.7,270.0 L2023.3,271.3 L2024.9,272.6 L2026.5,273.9 L2028.0,275.2 L2029.5,276.4 L2031.0,277.7 L2032.4,279.0 L2033.5,280.0 L2034.6,281.1 L2035.7,282.1 L2036.7,283.2 L2037.7,284.2 L2038.7,285.3 L2039.6,286.4 L2040.6,287.4 L2041.5,288.5 L2042.4,289.6 L2043.3,290.6 L2044.1,291.7 L2045.0,292.8 L2045.8,293.8 L2046.7,294.9 L2047.5,296.0 L2048.3,297.1 L2049.1,298.1 L2049.8,299.2 L2050.6,300.2 L2051.4,301.3 L2052.1,302.3 L2052.9,303.4 L2053.6,304.4 L2054.2,305.3 L2054.9,306.2 L2055.5,307.1 L2056.1,307.9 L2056.7,308.8 L2057.2,309.6 L2057.8,310.5 L2058.4,311.3 L2058.9,312.2 L2059.5,313.0 L2060.0,313.9 L2060.6,314.7 L2061.1,315.6 L2061.6,316.4 L2062.1,317.3 L2062.6,318.1 L2063.1,319.0 L2063.6,319.9 L2064.1,320.8 L2064.5,321.7 L2065.0,322.6 L2065.4,323.5 L2065.9,324.5 L2066.3,325.4 L2066.8,326.5 L2067.2,327.5 L2067.7,328.6 L2068.1,329.7 L2068.5,330.8 L2068.9,331.9 L2069.4,333.0 L2069.8,334.1 L2070.1,335.3 L2070.5,336.4 L2070.9,337.5 L2071.3,338.7 L2071.6,339.9 L2071.9,341.0 L2072.3,342.2 L2072.6,343.4 L2072.9,344.6 L2073.2,345.8 L2073.5,347.0 L2073.8,348.1 L2074.0,349.3 L2074.3,350.5 L2074.5,351.7 L2074.8,352.9 L2075.0,354.2 L2075.2,355.4 L2075.4,356.7 L2075.6,357.9 L2075.8,359.1 L2075.9,360.3 L2076.1,361.6 L2076.2,362.8 L2076.3,364.0 L2076.4,365.2 L2076.5,366.5 L2076.6,367.7 L2076.7,369.0 L2076.7,370.3 L2076.8,371.6 L2076.9,372.9 L2076.9,374.3 L2077.0,375.7 L2077.0,377.1 L2077.1,378.5 L2077.1,380.0 L2077.2,381.5 L2077.3,383.1 L2077.3,384.7 L2077.4,387.4 L2077.5,390.1 L2077.6,392.9 L2077.6,395.8 L2077.6,398.8 L2077.7,401.9 L2077.7,405.0 L2077.7,408.2 L2077.7,411.5 L2077.7,414.9 L2077.7,418.2 L2077.6,421.7 L2077.6,425.2 L2077.6,428.7 L2077.5,432.3 L2077.5,436.0 L2077.5,439.6 L2077.4,443.3 L2077.4,447.1 L2077.4,450.8 L2077.4,454.6 L2077.3,458.4 L2077.3,462.2 L2077.3,466.0 L2077.3,471.1 L2077.3,476.2 L2077.3,481.5 L2077.3,486.8 L2077.3,492.3 L2077.3,497.8 L2077.3,503.5 L2077.3,509.1 L2077.3,514.9 L2077.3,520.7 L2077.3,526.5 L2077.3,532.4 L2077.3,538.4 L2077.3,544.3 L2077.3,550.3 L2077.3,556.2 L2077.3,562.2 L2077.3,568.1 L2077.3,574.1 L2077.3,580.0 L2077.3,585.9 L2077.3,590.0"/>
<path d="M282.7,256.1 L279.8,256.9 L276.8,257.7 L273.8,258.5 L270.8,259.3 L267.9,260.1 L264.9,260.8 L261.9,261.6 L258.9,262.4 L255.9,263.2 L252.9,264.0 L250.0,264.7 L247.0,265.5 L244.0,266.3 L241.0,267.1 L238.1,267.9 L235.1,268.7 L232.1,269.5 L229.2,270.3 L226.3,271.1 L223.3,271.9 L220.4,272.7 L217.5,273.5 L214.6,274.3 L211.8,275.2 L209.1,276.0 L206.3,276.8 L203.6,277.6 L200.9,278.3 L198.3,279.1 L195.6,279.9 L192.9,280.7 L190.3,281.5 L187.6,282.3 L185.0,283.1 L182.3,283.9 L179.7,284.7 L177.1,285.5 L174.4,286.3 L171.8,287.2 L169.2,288.0 L166.6,288.9 L163.9,289.7 L161.3,290.6 L158.7,291.5 L156.1,292.4 L153.5,293.4 L150.9,294.3 L148.2,295.3 L145.5,296.3 L142.8,297.4 L140.0,298.5 L137.1,299.7 L134.2,300.9 L131.3,302.1 L128.4,303.4 L125.5,304.6 L122.5,305.9 L119.6,307.2 L116.7,308.5 L113.9,309.7 L111.0,311.0 L108.3,312.3 L105.5,313.5 L102.8,314.7 L100.2,315.9 L97.7,317.0 L95.3,318.1 L92.9,319.2 L90.7,320.2 L88.6,321.1 L86.6,322.0 L84.7,322.8 L83.8,323.2 L82.9,323.6 L82.1,323.9 L81.3,324.2 L80.6,324.5 L79.8,324.8 L79.1,325.1 L78.5,325.4 L77.8,325.6 L77.2,325.9 L76.5,326.1 L75.9,326.4 L75.3,326.6 L74.7,326.9 L74.1,327.1 L73.4,327.4 L72.8,327.7 L72.1,327.9 L71.5,328.2 L70.8,328.5 L70.1,328.9 L69.3,329.2 L68.6,329.6 L67.8,330.0 L66.5,330.6 L65.2,331.3 L63.8,332.0 L62.3,332.8 L60.8,333.5 L59.3,334.3 L57.8,335.1 L56.2,336.0 L54.6,336.8 L52.9,337.7 L51.3,338.6 L49.7,339.5 L48.0,340.4 L46.4,341.4 L44.8,342.3 L43.2,343.3 L41.6,344.3 L40.1,345.2 L38.6,346.2 L37.1,347.2 L35.7,348.2 L34.3,349.2 L33.0,350.2 L31.8,351.2 L30.8,352.0 L29.8,352.8 L28.8,353.6 L27.9,354.5 L26.9,355.3 L26.0,356.2 L25.1,357.0 L24.2,357.9 L23.3,358.7 L22.5,359.6 L21.6,360.5 L20.8,361.4 L20.0,362.2 L19.2,363.1 L18.5,364.0 L17.7,364.9 L17.0,365.8 L16.3,366.8 L15.7,367.7 L15.0,368.6 L14.4,369.5 L13.8,370.5 L13.2,371.4 L12.7,372.4 L12.3,373.2 L11.8,374.0 L11.4,374.8 L11.1,375.7 L10.7,376.5 L10.4,377.3 L10.1,378.1 L9.8,378.9 L9.5,379.8 L9.3,380.6 L9.0,381.5 L8.8,382.3 L8.6,383.2 L8.4,384.0 L8.2,384.9 L8.0,385.8 L7.9,386.7 L7.7,387.6 L7.5,388.6 L7.4,389.5 L7.2,390.5 L7.1,391.5 L6.9,392.5 L6.8,393.5 L6.6,395.0 L6.4,396.5 L6.3,398.1 L6.2,399.6 L6.1,401.3 L6.0,402.9 L6.0,404.6 L5.9,406.3 L5.9,408.0 L5.9,409.8 L5.9,411.6 L5.9,413.4 L5.9,415.2 L6.0,417.0 L6.0,418.9 L6.1,420.8 L6.1,422.6 L6.2,424.5 L6.2,426.4 L6.2,428.3 L6.3,430.2 L6.3,432.1 L6.3,434.0 L6.4,435.9 L6.4,438.1 L6.4,440.4 L6.4,442.7 L6.3,445.1 L6.3,447.5 L6.3,449.9 L6.3,452.4 L6.3,454.9 L6.3,457.4 L6.3,459.9 L6.3,462.4 L6.3,464.9 L6.3,467.4 L6.3,469.9 L6.4,472.3 L6.4,474.7 L6.5,477.1 L6.6,479.5 L6.7,481.8 L6.8,484.0 L6.9,486.2 L7.1,488.3 L7.2,490.4 L7.4,492.4 L7.6,493.7 L7.7,495.0 L7.8,496.3 L8.0,497.6 L8.1,498.8 L8.3,500.0 L8.4,501.2 L8.6,502.4 L8.7,503.5 L8.9,504.7 L9.1,505.8 L9.3,506.9 L9.5,508.0 L9.7,509.1 L9.9,510.2 L10.1,511.3 L10.4,512.4 L10.7,513.4 L10.9,514.5 L11.3,515.6 L11.6,516.6 L11.9,517.7 L12.3,518.8 L12.7,519.9 L13.1,521.0 L13.6,522.1 L14.0,523.2 L14.5,524.3 L14.9,525.5 L15.4,526.6 L15.9,527.7 L16.4,528.8 L17.0,529.9 L17.5,531.0 L18.1,532.0 L18.7,533.1 L19.3,534.2 L19.9,535.2 L20.6,536.3 L21.2,537.3 L21.9,538.4 L22.6,539.4 L23.4,540.4 L24.2,541.4 L25.0,542.4 L25.8,543.4 L26.6,544.3 L27.5,545.3 L28.6,546.4 L29.8,547.5 L31.0,548.6 L32.2,549.7 L33.4,550.8 L34.7,551.9 L36.0,552.9 L37.4,553.9 L38.7,554.9 L40.2,555.9 L41.6,556.9 L43.1,557.9 L44.6,558.8 L46.2,559.8 L47.8,560.7 L49.4,561.6 L51.0,562.6 L52.7,563.4 L54.4,564.3 L56.2,565.2 L58.0,566.1 L59.8,566.9 L61.6,567.8 L63.5,568.6 L66.3,569.8 L69.2,570.9 L72.2,572.0 L75.3,573.0 L78.4,574.0 L81.7,575.0 L85.1,576.0 L88.5,576.9 L92.0,577.9 L95.5,578.8 L99.1,579.6 L102.8,580.5 L106.5,581.3 L110.2,582.1 L114.0,582.9 L117.8,583.7 L121.6,584.5 L125.4,585.3 L129.2,586.0 L133.1,586.8 L136.9,587.5 L140.7,588.3 L144.5,589.0 L148.2,589.8 L152.4,590.6 L156.6,591.4 L160.9,592.2 L165.2,593.0 L169.5,593.7 L173.9,594.5 L178.2,595.2 L182.7,596.0 L187.1,596.7 L191.5,597.4 L196.0,598.1 L200.5,598.7 L205.0,599.4 L209.5,600.0 L214.0,600.7 L218.5,601.3 L223.0,601.9 L227.5,602.5 L232.0,603.0 L236.4,603.6 L240.9,604.1 L245.3,604.6 L249.7,605.2 L254.1,605.7 L258.4,606.1 L262.7,606.6 L266.9,607.0 L271.2,607.4 L275.4,607.7 L279.7,608.1 L283.9,608.4 L288.1,608.7 L292.4,609.0 L296.6,609.3 L300.8,609.6 L305.1,609.9 L309.3,610.1 L313.5,610.4 L317.7,610.6 L322.0,610.9 L326.2,611.1 L330.4,611.4 L334.6,611.7 L338.9,611.9 L342.5,612.2"/>
<path d="M412.0,250.5 L418.2,251.1 L424.3,251.8 L430.4,252.4 L436.6,253.0 L442.7,253.6 L448.8,254.2 L454.9,254.8 L461.0,255.4 L467.1,256.0 L473.2,256.6 L479.3,257.2 L485.4,257.9 L491.5,258.5 L497.6,259.1 L503.8,259.7 L509.9,260.3 L516.1,260.9 L522.3,261.6 L528.5,262.2 L534.8,262.8 L541.0,263.5 L547.3,264.1 L553.6,264.8 L560.0,265.4 L566.9,266.1 L573.8,266.8 L580.7,267.6 L587.7,268.3 L594.7,269.0 L601.8,269.8 L608.9,270.5 L616.0,271.3 L623.2,272.1 L630.4,272.8 L637.5,273.6 L644.7,274.3 L651.9,275.1 L659.1,275.9 L666.2,276.6 L673.4,277.4 L680.5,278.2 L687.6,278.9 L694.7,279.7 L701.7,280.4 L708.7,281.2 L715.7,281.9 L722.6,282.7 L729.4,283.4 L735.8,284.1 L742.2,284.8 L748.6,285.5 L755.1,286.2 L761.5,286.9 L767.9,287.6 L774.3,288.3 L780.7,288.9 L787.1,289.6 L793.4,290.3 L799.8,291.0 L806.1,291.7 L812.3,292.4 L818.6,293.1 L824.7,293.7 L830.9,294.4 L837.0,295.0 L843.0,295.7 L848.9,296.3 L854.8,296.9 L860.7,297.5 L866.4,298.1 L872.1,298.7 L877.7,299.3 L882.1,299.8 L886.5,300.2 L890.9,300.6 L895.1,301.1 L899.4,301.5 L903.5,301.9 L907.7,302.3 L911.8,302.7 L915.8,303.1 L919.9,303.5 L923.9,303.9 L927.8,304.3 L931.8,304.6 L935.8,305.0 L939.7,305.4 L943.6,305.8 L947.6,306.1 L951.5,306.5 L955.5,306.9 L959.4,307.3 L962.2,307.5"/>
<path d="M780.7,230.3 L785.7,228.2 L790.7,226.2 L795.7,224.1 L800.7,222.1 L805.6,220.0 L810.6,218.0 L815.6,215.9 L820.6,213.9 L825.6,211.8 L830.6,209.8 L835.6,207.7 L840.5,205.7 L845.5,203.6 L850.5,201.5 L855.5,199.5 L860.5,197.4 L865.5,195.4 L870.5,193.3 L875.5,191.3 L880.5,189.2 L885.4,187.2 L888.1,186.1"/>
<path d="M651.1,253.1 L647.3,253.7 L643.5,254.3 L639.7,254.8 L635.9,255.4 L632.0,256.0 L628.2,256.5 L624.4,257.1 L620.6,257.7 L616.8,258.2 L613.0,258.8 L609.2,259.4 L605.4,260.0 L601.6,260.5 L597.8,261.1 L594.0,261.7 L590.2,262.2 L586.4,262.8 L582.6,263.3 L578.8,263.9 L575.0,264.4 L571.3,264.9 L567.5,265.5 L563.7,266.0 L560.0,266.5 L556.4,266.9 L552.8,267.4 L549.3,267.8 L545.9,268.2 L542.5,268.7 L539.0,269.0 L535.7,269.4 L532.3,269.8 L528.9,270.2 L525.5,270.5 L522.2,270.9 L518.8,271.3 L515.3,271.7 L511.9,272.0 L508.4,272.4 L504.8,272.8 L501.2,273.3 L497.6,273.7 L493.9,274.2 L490.1,274.7 L486.2,275.2 L482.2,275.7 L478.1,276.3 L474.0,276.9 L467.8,277.9 L461.3,278.9 L454.7,279.9 L447.9,281.1 L441.0,282.2 L433.8,283.4 L426.6,284.7 L419.2,286.0 L411.7,287.3 L404.1,288.7 L396.4,290.1 L388.7,291.5 L380.9,292.9 L373.1,294.3 L365.2,295.8 L357.3,297.2 L349.4,298.7 L341.6,300.1 L333.7,301.6 L325.9,303.0 L318.2,304.4 L310.5,305.8 L308.5,306.1"/>
<path d="M741.3,255.3 L741.3,258.2 L741.3,261.3 L741.3,264.4 L741.3,267.6 L741.3,270.7 L741.3,273.8 L741.3,276.9 L741.3,280.0 L741.3,283.1 L741.3,286.2 L741.3,289.3 L741.3,291.3"/>
<path d="M704.0,255.9 L702.4,256.8 L700.8,257.7 L699.2,258.6 L697.5,259.5 L695.8,260.4 L694.2,261.3 L692.5,262.2 L690.8,263.1 L689.1,264.0 L687.5,264.9 L685.8,265.8 L684.1,266.7 L682.5,267.6 L680.9,268.6 L679.2,269.5 L677.6,270.4 L676.1,271.3 L674.5,272.3 L673.0,273.2 L671.5,274.2 L670.0,275.1 L668.6,276.1 L667.2,277.1 L665.9,278.1 L664.8,279.0 L663.7,279.8 L662.6,280.7 L661.5,281.6 L660.4,282.4 L659.3,283.3 L658.2,284.2 L657.2,285.1 L656.1,286.0 L655.1,286.9 L654.1,287.8 L653.1,288.7 L652.1,289.6 L651.2,290.6 L650.3,291.5 L649.4,292.4 L648.6,293.4 L647.8,294.3 L647.0,295.2 L646.3,296.2 L645.6,297.1 L644.9,298.1 L644.3,299.0 L643.8,300.0 L643.4,300.8 L643.0,301.5 L642.6,302.3 L642.3,303.1 L641.9,303.9 L641.6,304.6 L641.3,305.4 L641.0,306.2 L640.8,307.0 L640.6,307.8 L640.3,308.6 L640.1,309.4 L640.0,310.2 L639.8,311.0 L639.7,311.8 L639.6,312.6 L639.5,313.4 L639.5,314.2 L639.4,315.0 L639.4,315.8 L639.4,316.6 L639.4,317.4 L639.5,318.2 L639.6,319.1 L639.7,320.0 L639.8,321.0 L640.0,321.9 L640.2,322.9 L640.5,323.9 L640.8,324.8 L641.1,325.8 L641.4,326.8 L641.8,327.8 L642.2,328.8 L642.6,329.8 L643.1,330.8 L643.5,331.8 L644.0,332.7 L644.6,333.7 L645.1,334.7 L645.7,335.7 L646.3,336.7 L646.9,337.6 L647.5,338.6 L648.1,339.6 L648.8,340.5 L649.5,341.4 L650.1,342.4 L651.0,343.5 L652.0,344.6 L653.0,345.8 L654.1,346.9 L655.2,348.1 L656.4,349.3 L657.6,350.4 L658.9,351.6 L660.2,352.7 L661.5,353.8 L662.8,354.9 L664.2,356.1 L665.5,357.1 L666.9,358.2 L668.3,359.3 L669.7,360.3 L671.0,361.4 L672.4,362.4 L673.7,363.3 L675.0,364.3 L676.3,365.2 L677.6,366.1 L678.8,366.9 L680.0,367.8 L680.9,368.4 L681.8,369.0 L682.6,369.5 L683.5,370.1 L684.4,370.6 L685.2,371.1 L686.1,371.6 L686.9,372.1 L687.8,372.5 L688.4,372.9"/>
<path d="M795.1,255.2 L803.6,257.3 L812.2,259.3 L820.7,261.3 L829.3,263.4 L837.9,265.4 L846.4,267.4 L855.0,269.5 L863.5,271.5 L872.1,273.5 L880.7,275.5 L889.2,277.6 L897.8,279.6 L906.3,281.6 L914.9,283.7 L923.5,285.7 L932.0,287.7 L940.6,289.7 L949.1,291.8 L957.7,293.8 L966.3,295.8 L974.8,297.9 L983.4,299.9 L987.5,300.9"/>
<path d="M831.5,251.6 L841.2,253.1 L851.4,254.6 L861.8,256.1 L872.5,257.6 L883.5,259.2 L894.6,260.8 L905.9,262.4 L917.2,264.0 L928.5,265.6 L939.7,267.2 L950.8,268.8 L961.8,270.4 L972.5,271.9 L983.0,273.4 L993.1,274.9 L1002.8,276.3 L1012.1,277.7 L1020.9,279.0 L1029.1,280.3 L1036.8,281.5 L1043.7,282.6 L1049.9,283.7 L1055.4,284.7 L1060.0,285.5 L1061.1,285.8 L1062.2,286.0 L1063.2,286.2 L1064.1,286.4 L1064.9,286.6 L1065.7,286.7 L1066.4,286.9 L1067.1,287.1 L1067.7,287.3 L1068.3,287.4 L1068.9,287.6 L1069.5,287.7 L1070.1,287.9 L1070.6,288.1 L1071.2,288.2 L1071.8,288.4 L1072.4,288.6 L1073.1,288.8 L1073.8,288.9 L1074.5,289.1 L1075.3,289.3 L1076.2,289.5 L1077.1,289.8 L1078.1,290.0 L1080.5,290.5 L1083.2,291.1 L1086.0,291.7 L1089.1,292.3 L1092.3,293.0 L1095.7,293.6 L1099.2,294.3 L1102.9,295.0 L1106.7,295.7 L1110.6,296.5 L1114.6,297.3 L1118.6,298.1 L1122.7,298.9 L1126.9,299.7 L1131.0,300.6 L1135.2,301.4 L1139.4,302.3 L1143.5,303.2 L1147.6,304.2 L1151.7,305.1 L1155.7,306.1 L1159.6,307.1 L1163.4,308.0 L1167.1,309.1 L1170.7,310.1 L1174.3,311.2 L1177.8,312.3 L1181.4,313.4 L1184.9,314.5 L1188.5,315.7 L1192.0,316.9 L1195.6,318.2 L1199.1,319.4 L1202.6,320.7 L1206.1,321.9 L1209.6,323.2 L1213.2,324.5 L1216.7,325.8 L1220.2,327.1 L1223.7,328.4 L1227.2,329.7 L1230.7,331.0 L1234.2,332.3 L1237.7,333.6 L1241.2,334.9 L1244.7,336.2 L1248.2,337.5 L1251.8,338.7 L1255.3,340.0 L1258.9,341.2 L1262.5,342.5 L1266.2,343.8 L1269.9,345.2 L1273.6,346.5 L1277.3,347.8 L1281.0,349.2 L1284.7,350.5 L1288.4,351.9 L1292.1,353.2 L1295.8,354.6 L1299.4,355.9 L1303.0,357.2 L1306.6,358.4 L1310.2,359.7 L1313.7,360.9 L1317.1,362.1 L1320.5,363.3 L1323.9,364.4 L1327.1,365.4 L1330.3,366.5 L1333.5,367.4 L1336.5,368.4 L1338.6,369.0 L1340.7,369.6 L1342.7,370.2 L1344.7,370.7 L1346.6,371.2 L1348.6,371.7 L1350.4,372.2 L1352.3,372.7 L1354.2,373.1 L1356.0,373.6 L1357.8,374.0 L1359.6,374.5 L1361.4,374.9 L1363.1,375.3 L1364.9,375.7 L1366.7,376.1 L1368.0,376.4"/>
<path d="M1194.9,255.1 L1198.3,256.3 L1201.7,257.6 L1205.2,258.8 L1208.6,260.0 L1212.0,261.3 L1215.4,262.5 L1218.8,263.7 L1222.2,264.9 L1225.6,266.2 L1229.0,267.4 L1232.4,268.6 L1235.9,269.9 L1239.3,271.1 L1242.7,272.3 L1246.1,273.6 L1249.6,274.8 L1253.0,276.1 L1256.5,277.3 L1260.0,278.6 L1263.5,279.8 L1267.0,281.1 L1270.5,282.4 L1274.1,283.7 L1277.7,284.9 L1281.6,286.4 L1285.6,287.8 L1289.6,289.3 L1293.7,290.7 L1297.8,292.2 L1302.0,293.7 L1306.2,295.2 L1310.4,296.8 L1314.6,298.3 L1318.8,299.8 L1323.1,301.3 L1327.3,302.9 L1331.5,304.4 L1335.7,305.9 L1339.8,307.4 L1343.9,308.9 L1348.0,310.4 L1352.0,311.8 L1355.9,313.2 L1359.8,314.7 L1363.6,316.0 L1367.3,317.4 L1370.9,318.7 L1374.4,320.0 L1377.0,321.0 L1379.6,321.9 L1382.1,322.8 L1384.6,323.7 L1387.1,324.6 L1389.5,325.5 L1391.9,326.4 L1394.3,327.2 L1396.6,328.1 L1398.9,328.9 L1401.2,329.7 L1403.5,330.6 L1405.7,331.4 L1408.0,332.2 L1410.2,333.0 L1412.3,333.9 L1414.5,334.7 L1416.7,335.5 L1418.8,336.3 L1420.9,337.1 L1423.0,337.9 L1425.1,338.8 L1427.2,339.6 L1429.3,340.4 L1431.0,341.1 L1432.7,341.8 L1434.4,342.5 L1436.1,343.2 L1437.8,343.9 L1439.5,344.6 L1441.1,345.3 L1442.7,346.0 L1444.3,346.7 L1445.9,347.4 L1447.5,348.1 L1449.1,348.8 L1450.7,349.5 L1452.2,350.2 L1453.8,350.9 L1455.3,351.6 L1456.9,352.3 L1458.4,352.9 L1459.9,353.6 L1461.5,354.3 L1463.0,355.0 L1464.5,355.7 L1466.0,356.3 L1467.6,357.0 L1468.9,357.6 L1470.4,358.2 L1471.8,358.8 L1473.2,359.4 L1474.6,360.0 L1476.0,360.6 L1477.4,361.2 L1478.8,361.8 L1480.3,362.4 L1481.7,363.0 L1483.1,363.6 L1484.4,364.2 L1485.8,364.8 L1487.2,365.4 L1488.5,365.9 L1489.8,366.5 L1491.1,367.1 L1492.4,367.7 L1493.6,368.2 L1494.9,368.8 L1496.1,369.4 L1497.2,369.9 L1498.3,370.5 L1499.4,371.0 L1500.2,371.4 L1501.0,371.8 L1501.7,372.1 L1502.5,372.5 L1503.2,372.9 L1503.9,373.2 L1504.7,373.5 L1505.4,373.9 L1506.1,374.2 L1506.8,374.5 L1507.4,374.9 L1508.1,375.2 L1508.8,375.6 L1509.4,375.9 L1510.0,376.3 L1510.6,376.6 L1511.2,377.0 L1511.8,377.4 L1512.3,377.8 L1512.8,378.2 L1513.4,378.6 L1513.8,379.0 L1514.3,379.5 L1514.7,379.9 L1515.1,380.4 L1515.4,380.8 L1515.8,381.2 L1516.1,381.7 L1516.4,382.1 L1516.7,382.6 L1517.0,383.0 L1517.3,383.5 L1517.6,384.0 L1517.9,384.5 L1518.1,385.0 L1518.3,385.5 L1518.6,386.0 L1518.8,386.5 L1518.9,387.0 L1519.1,387.5 L1519.3,388.0 L1519.4,388.5 L1519.5,389.0 L1519.6,389.5 L1519.7,390.0 L1519.8,390.5 L1519.8,391.0 L1519.8,391.4 L1519.8,391.9 L1519.8,392.3 L1519.8,392.7 L1519.7,393.2 L1519.7,393.6 L1519.6,394.0 L1519.5,394.5 L1519.4,394.9 L1519.2,395.3 L1519.1,395.8 L1518.9,396.2 L1518.7,396.6 L1518.6,397.1 L1518.4,397.5 L1518.2,397.9 L1517.9,398.3 L1517.7,398.8 L1517.5,399.2 L1517.3,399.6 L1517.0,400.0 L1516.8,400.4 L1516.5,400.8 L1516.3,401.2 L1516.0,401.6 L1515.7,402.1 L1515.4,402.5 L1515.1,403.0 L1514.7,403.5 L1514.4,403.9 L1514.0,404.4 L1513.6,404.8 L1513.2,405.2 L1512.8,405.7 L1512.4,406.1 L1511.9,406.6 L1511.5,407.0 L1511.0,407.4 L1510.6,407.8 L1510.1,408.3 L1509.7,408.7 L1509.2,409.1 L1508.7,409.5 L1508.2,409.9 L1507.8,410.3 L1507.3,410.7 L1506.8,411.1 L1506.3,411.5 L1505.8,411.8 L1505.3,412.2 L1504.8,412.6 L1504.3,413.0 L1503.8,413.3 L1503.4,413.7 L1502.9,414.0 L1502.4,414.3 L1501.9,414.6 L1501.4,415.0 L1501.0,415.3 L1500.5,415.6 L1499.9,415.9 L1499.4,416.2 L1498.9,416.5 L1498.3,416.8 L1497.7,417.1 L1497.1,417.5 L1496.4,417.8 L1495.7,418.1 L1495.0,418.5 L1494.3,418.8 L1493.5,419.2 L1492.7,419.6 L1491.8,420.0 L1489.2,421.2 L1486.2,422.4 L1482.8,423.8 L1479.1,425.2 L1475.1,426.8 L1470.9,428.4 L1466.4,430.0 L1461.7,431.7 L1456.8,433.5 L1451.7,435.2 L1446.5,437.0 L1441.2,438.9 L1435.8,440.7 L1430.4,442.5 L1424.9,444.4 L1419.4,446.2 L1414.0,448.0 L1408.6,449.7 L1403.3,451.4 L1398.1,453.1 L1393.0,454.7 L1388.1,456.2 L1383.3,457.7 L1378.8,459.1 L1375.1,460.2 L1371.4,461.3 L1367.8,462.3 L1364.2,463.3 L1360.6,464.3 L1357.1,465.3 L1353.6,466.3 L1350.1,467.2 L1346.7,468.1 L1343.2,469.0 L1339.8,469.9 L1336.4,470.7 L1333.0,471.6 L1329.5,472.5 L1326.1,473.3 L1322.7,474.2 L1319.2,475.0 L1315.7,475.9 L1312.2,476.7 L1308.7,477.6 L1305.1,478.5 L1301.5,479.4 L1297.8,480.4 L1294.1,481.3 L1289.9,482.4 L1285.7,483.5 L1281.4,484.6 L1277.1,485.7 L1272.8,486.8 L1268.4,487.9 L1264.0,489.1 L1259.6,490.2 L1255.1,491.3 L1250.7,492.5 L1246.2,493.6 L1241.7,494.8 L1237.2,495.9 L1232.7,497.0 L1228.2,498.2 L1223.7,499.3 L1219.2,500.4 L1214.7,501.5 L1210.3,502.6 L1205.8,503.7 L1201.4,504.7 L1197.0,505.7 L1192.6,506.8 L1188.2,507.8 L1184.1,508.7 L1180.0,509.6 L1175.9,510.5 L1171.8,511.4 L1167.7,512.3 L1163.6,513.2 L1159.6,514.0 L1155.5,514.8 L1151.4,515.7 L1147.4,516.5 L1143.4,517.3 L1139.3,518.1 L1135.3,519.0 L1131.2,519.8 L1127.2,520.6 L1123.2,521.4 L1119.1,522.2 L1115.1,523.0 L1111.1,523.8 L1107.0,524.6 L1103.9,525.2"/>
<path d="M1246.5,254.4 L1242.5,254.8 L1238.5,255.1 L1234.5,255.5 L1230.5,255.8 L1226.4,256.2 L1222.4,256.5 L1218.4,256.9 L1214.4,257.2 L1210.3,257.6 L1206.3,257.9 L1202.3,258.2 L1198.2,258.6 L1194.2,258.9 L1190.2,259.3 L1186.2,259.6 L1182.2,260.0 L1178.2,260.3 L1174.2,260.7 L1170.2,261.0 L1166.2,261.3 L1162.3,261.7 L1158.3,262.0 L1154.4,262.4 L1150.4,262.7 L1146.7,263.0 L1142.9,263.3 L1139.2,263.7 L1135.5,264.0 L1131.8,264.3 L1128.1,264.6 L1124.4,264.9 L1120.8,265.2 L1117.1,265.5 L1113.5,265.9 L1109.8,266.2 L1106.1,266.5 L1102.5,266.8 L1098.8,267.1 L1095.2,267.4 L1091.5,267.7 L1087.8,268.1 L1084.1,268.4 L1080.4,268.7 L1076.7,269.0 L1072.9,269.3 L1069.2,269.7 L1065.4,270.0 L1061.6,270.3 L1057.5,270.7 L1053.4,271.0 L1049.3,271.4 L1045.2,271.7 L1041.2,272.1 L1037.1,272.5 L1033.0,272.8 L1028.9,273.2 L1024.8,273.6 L1020.7,273.9 L1016.5,274.3 L1012.4,274.7 L1008.2,275.0 L1004.0,275.4 L999.7,275.8 L995.5,276.2 L991.2,276.5 L986.8,276.9 L982.5,277.3 L978.1,277.7 L973.6,278.0 L969.1,278.4 L964.6,278.8 L960.0,279.2 L954.5,279.7 L948.9,280.1 L943.3,280.6 L937.6,281.1 L931.9,281.5 L926.2,282.0 L920.4,282.5 L914.6,282.9 L908.7,283.4 L902.8,283.9 L896.8,284.3 L890.8,284.8 L884.8,285.3 L878.6,285.8 L872.5,286.3 L866.2,286.8 L859.9,287.3 L853.6,287.8 L847.2,288.3 L840.7,288.8 L834.2,289.3 L827.5,289.8 L820.9,290.3 L814.1,290.8 L805.5,291.5 L796.7,292.2 L787.7,292.9 L778.6,293.5 L769.3,294.2 L759.9,295.0 L750.4,295.7 L740.8,296.4 L731.1,297.1 L721.3,297.8 L711.4,298.6 L701.5,299.3 L691.6,300.1 L681.6,300.8 L671.5,301.5 L661.5,302.3 L651.5,303.0 L641.5,303.8 L631.5,304.5 L621.5,305.3 L611.6,306.0 L601.7,306.7 L595.5,307.2"/>
<path d="M1246.5,254.8 L1244.1,255.1 L1241.7,255.5 L1239.3,255.8 L1237.0,256.1 L1234.6,256.4 L1232.2,256.7 L1229.8,257.0 L1227.5,257.3 L1225.1,257.6 L1222.7,258.0 L1220.4,258.3 L1218.0,258.6 L1215.6,258.9 L1213.2,259.2 L1210.8,259.5 L1208.4,259.9 L1206.0,260.2 L1203.6,260.5 L1201.1,260.9 L1198.6,261.2 L1196.1,261.6 L1193.6,261.9 L1191.1,262.3 L1188.5,262.7 L1185.5,263.2 L1182.5,263.6 L1179.4,264.1 L1176.3,264.6 L1173.2,265.1 L1170.0,265.6 L1166.8,266.1 L1163.6,266.7 L1160.4,267.2 L1157.1,267.8 L1153.9,268.3 L1150.6,268.9 L1147.4,269.4 L1144.1,270.0 L1140.8,270.5 L1137.6,271.1 L1134.4,271.6 L1131.1,272.2 L1127.9,272.7 L1124.8,273.3 L1121.6,273.8 L1118.5,274.4 L1115.4,274.9 L1112.3,275.4 L1109.6,275.9 L1106.9,276.3 L1104.2,276.8 L1101.5,277.2 L1098.9,277.6 L1096.3,278.1 L1093.7,278.5 L1091.1,278.9 L1088.5,279.4 L1086.0,279.8 L1083.4,280.2 L1080.8,280.7 L1078.3,281.1 L1075.7,281.5 L1073.1,282.0 L1070.5,282.4 L1067.9,282.8 L1065.3,283.3 L1062.6,283.8 L1059.9,284.2 L1057.2,284.7 L1054.5,285.2 L1051.7,285.7 L1048.9,286.2 L1045.5,286.8 L1042.0,287.4 L1038.4,287.9 L1034.7,288.5 L1030.9,289.1 L1027.0,289.6 L1023.1,290.2 L1019.2,290.8 L1015.3,291.4 L1011.3,291.9 L1007.3,292.5 L1003.4,293.2 L999.5,293.8 L995.6,294.4 L991.8,295.1 L988.1,295.8 L984.4,296.5 L980.9,297.3 L977.4,298.1 L974.1,298.9 L970.9,299.7 L967.9,300.6 L965.1,301.5 L962.4,302.5 L960.8,303.1 L959.3,303.7 L957.9,304.3 L956.5,305.0 L955.2,305.6 L953.9,306.3 L952.7,306.9 L951.5,307.6 L950.4,308.3 L949.2,309.0 L948.1,309.7 L947.1,310.4 L946.0,311.1 L944.9,311.9 L943.8,312.6 L942.8,313.4 L941.7,314.2 L940.6,314.9 L939.4,315.7 L938.3,316.6 L937.1,317.4 L935.8,318.3 L934.5,319.1 L933.2,320.0 L931.3,321.2 L929.4,322.5 L927.4,323.8 L925.4,325.2 L923.4,326.6 L921.3,328.0 L919.2,329.5 L917.0,330.9 L914.8,332.5 L912.7,334.0 L910.5,335.5 L908.2,337.1 L906.0,338.7 L903.8,340.3 L901.6,341.9 L899.4,343.5 L897.2,345.1 L895.0,346.6 L892.8,348.2 L890.7,349.8 L888.5,351.4 L886.5,352.9 L884.4,354.5 L882.4,356.0 L880.5,357.4 L878.7,358.8 L876.9,360.3 L875.1,361.7 L873.3,363.2 L871.5,364.7 L869.7,366.1 L868.0,367.6 L866.2,369.1 L864.5,370.6 L862.8,372.1 L861.0,373.5 L859.3,375.0 L857.6,376.4 L855.9,377.9 L854.1,379.3 L852.4,380.7 L850.7,382.1 L848.9,383.4 L847.2,384.8 L845.4,386.1 L843.6,387.4 L841.8,388.7 L840.0,389.9 L838.3,391.0 L836.6,392.1 L834.8,393.2 L833.1,394.3 L831.4,395.4 L829.6,396.4 L827.9,397.4 L826.1,398.4 L824.3,399.4 L822.6,400.4 L820.8,401.4 L819.0,402.3 L817.3,403.2 L815.5,404.2 L813.7,405.1 L811.9,406.0 L810.1,406.9 L808.4,407.8 L806.6,408.7 L804.8,409.6 L803.0,410.5 L801.2,411.4 L799.4,412.3 L797.7,413.2 L795.9,414.0 L794.1,414.9 L792.4,415.7 L790.6,416.5 L788.8,417.3 L787.0,418.1 L785.2,418.9 L783.4,419.7 L781.6,420.5 L779.8,421.2 L778.0,422.0 L776.3,422.7 L774.5,423.5 L772.7,424.3 L770.9,425.0 L769.1,425.8 L767.4,426.5 L765.6,427.3 L763.9,428.1 L762.1,428.9 L760.4,429.7 L758.7,430.5 L757.0,431.4 L755.3,432.2 L753.7,433.1 L752.2,433.9 L750.6,434.7 L749.1,435.6 L747.5,436.5 L746.0,437.3 L744.5,438.2 L743.0,439.1 L741.5,440.0 L740.0,440.9 L738.5,441.7 L737.1,442.6 L735.6,443.5 L734.1,444.4 L732.6,445.3 L731.2,446.2 L730.7,446.5"/>
<path d="M1368.6,255.3 L1369.2,255.6 L1375.3,258.2 L1381.5,260.8 L1387.6,263.4 L1393.7,266.0 L1399.8,268.6 L1405.9,271.1 L1412.0,273.7 L1418.1,276.3 L1424.3,278.9 L1430.4,281.5 L1436.5,284.1 L1442.6,286.7 L1448.7,289.3 L1454.8,291.9 L1460.9,294.4 L1467.1,297.0 L1473.1,299.6"/>
<path d="M1422.3,255.5 L1427.2,256.5 L1432.0,257.4 L1436.9,258.3 L1441.8,259.3 L1446.7,260.2 L1451.6,261.1 L1456.6,262.0 L1461.5,263.0 L1466.5,263.9 L1471.4,264.8 L1476.3,265.7 L1481.3,266.7 L1486.2,267.6 L1491.0,268.5 L1495.9,269.5 L1500.7,270.4 L1505.4,271.4 L1510.2,272.4 L1514.8,273.3 L1519.4,274.3 L1524.0,275.3 L1528.4,276.4 L1532.8,277.4 L1537.1,278.5 L1540.7,279.3 L1544.3,280.2 L1548.0,281.1 L1551.7,281.9 L1555.4,282.7 L1559.1,283.6 L1562.8,284.4 L1566.5,285.2 L1570.2,286.1 L1573.8,286.9 L1577.4,287.8 L1580.9,288.7 L1584.3,289.6 L1587.7,290.5 L1590.9,291.5 L1594.1,292.4 L1597.1,293.4 L1599.9,294.5 L1602.7,295.5 L1605.2,296.6 L1607.6,297.7 L1609.8,298.9 L1611.9,300.2 L1613.7,301.4 L1614.5,302.1 L1615.4,302.8 L1616.1,303.5 L1616.9,304.3 L1617.5,305.0 L1618.2,305.7 L1618.8,306.5 L1619.4,307.3 L1619.9,308.0 L1620.4,308.8 L1620.9,309.6 L1621.3,310.4 L1621.7,311.2 L1622.1,312.0 L1622.5,312.8 L1622.9,313.6 L1623.2,314.4 L1623.5,315.2 L1623.9,316.0 L1624.2,316.8 L1624.5,317.6 L1624.7,318.4 L1625.0,319.2 L1625.3,320.0 L1625.5,320.7 L1625.8,321.4 L1626.0,322.1 L1626.2,322.8 L1626.4,323.4 L1626.5,324.1 L1626.7,324.8 L1626.8,325.5 L1627.0,326.2 L1627.1,326.9 L1627.2,327.6 L1627.3,328.2 L1627.4,328.9 L1627.4,329.6 L1627.5,330.3 L1627.5,331.0 L1627.6,331.8 L1627.6,332.5 L1627.6,333.2 L1627.6,333.9 L1627.6,334.7 L1627.5,335.4 L1627.5,336.2 L1627.4,336.9 L1627.3,337.9 L1627.2,338.9 L1627.1,339.9 L1626.9,340.9 L1626.7,341.9 L1626.5,343.0 L1626.3,344.0 L1626.0,345.1 L1625.7,346.2 L1625.5,347.3 L1625.1,348.3 L1624.8,349.4 L1624.5,350.5 L1624.1,351.6 L1623.8,352.7 L1623.4,353.8 L1623.0,354.9 L1622.6,356.0 L1622.2,357.1 L1621.7,358.1 L1621.3,359.2 L1620.9,360.3 L1620.5,361.3 L1620.0,362.4 L1619.5,363.4 L1619.1,364.5 L1618.6,365.6 L1618.0,366.7 L1617.5,367.7 L1617.0,368.8 L1616.5,369.9 L1615.9,370.9 L1615.3,372.0 L1614.7,373.1 L1614.2,374.1 L1613.5,375.2 L1612.9,376.2 L1612.3,377.3 L1611.6,378.3 L1611.0,379.4 L1610.3,380.4 L1609.6,381.5 L1608.9,382.5 L1608.2,383.6 L1607.5,384.6 L1606.7,385.7 L1606.0,386.7 L1605.2,387.8 L1604.2,389.0 L1603.3,390.3 L1602.3,391.5 L1601.2,392.8 L1600.2,394.0 L1599.1,395.3 L1598.0,396.6 L1596.9,397.9 L1595.7,399.1 L1594.6,400.4 L1593.4,401.7 L1592.2,402.9 L1591.0,404.2 L1589.8,405.4 L1588.6,406.7 L1587.4,407.9 L1586.1,409.1 L1584.9,410.4 L1583.7,411.6 L1582.5,412.8 L1581.2,414.0 L1580.0,415.1 L1578.8,416.3 L1577.7,417.4 L1576.5,418.5 L1575.4,419.5 L1574.2,420.6 L1573.1,421.7 L1571.9,422.7 L1570.7,423.7 L1569.5,424.8 L1568.4,425.8 L1567.2,426.8 L1566.0,427.8 L1564.8,428.8 L1563.6,429.8 L1562.4,430.8 L1561.2,431.8 L1560.1,432.7 L1558.9,433.7 L1557.7,434.6 L1556.6,435.5 L1555.5,436.4 L1554.4,437.3 L1553.3,438.2 L1552.2,439.1 L1551.2,439.9 L1550.1,440.7 L1549.3,441.3 L1548.6,441.9 L1547.8,442.5 L1547.1,443.1 L1546.4,443.7 L1545.6,444.2 L1544.9,444.7 L1544.2,445.3 L1543.9,445.5"/>
<path d="M1454.9,255.2 L1449.2,255.8 L1443.5,256.3 L1437.8,256.8 L1432.2,257.4 L1426.5,257.9 L1420.9,258.5 L1415.2,259.0 L1409.6,259.6 L1404.0,260.1 L1398.3,260.7 L1392.7,261.3 L1387.0,261.8 L1381.3,262.4 L1375.7,262.9 L1370.0,263.4 L1364.2,263.9 L1358.5,264.4 L1352.7,264.9 L1346.9,265.4 L1341.1,265.9 L1335.2,266.3 L1329.3,266.7 L1323.4,267.1 L1317.4,267.5 L1310.7,267.9 L1303.7,268.2 L1296.6,268.6 L1289.4,268.8 L1282.0,269.1 L1274.5,269.3 L1267.0,269.5 L1259.4,269.7 L1251.7,269.9 L1244.1,270.1 L1236.5,270.2 L1228.9,270.4 L1221.4,270.6 L1214.0,270.7 L1206.7,270.9 L1199.5,271.0 L1192.5,271.2 L1185.8,271.4 L1179.2,271.6 L1172.8,271.8 L1166.8,272.0 L1161.0,272.3 L1155.5,272.5 L1150.4,272.9 L1147.7,273.0 L1145.2,273.2 L1142.7,273.4 L1140.3,273.6 L1137.9,273.8 L1135.6,273.9 L1133.4,274.1 L1131.3,274.3 L1129.2,274.5 L1127.2,274.7 L1125.2,274.9 L1123.2,275.1 L1121.2,275.3 L1119.3,275.5 L1117.4,275.7 L1115.5,275.9 L1113.6,276.2 L1111.6,276.4 L1109.7,276.6 L1107.8,276.9 L1105.8,277.1 L1103.8,277.4 L1101.7,277.7 L1099.6,277.9 L1097.5,278.2 L1095.4,278.5 L1093.4,278.8 L1091.3,279.1 L1089.3,279.4 L1087.2,279.7 L1085.2,280.0 L1083.2,280.4 L1081.2,280.7 L1079.1,281.0 L1077.1,281.4 L1075.1,281.7 L1073.0,282.1 L1071.0,282.4 L1068.9,282.8 L1066.8,283.2 L1064.6,283.6 L1062.5,284.0 L1060.3,284.3 L1058.1,284.7 L1055.8,285.2 L1053.6,285.6 L1051.2,286.0 L1048.9,286.4 L1045.7,287.0 L1042.4,287.6 L1039.0,288.2 L1035.5,288.8 L1031.9,289.5 L1028.3,290.1 L1024.6,290.8 L1020.9,291.5 L1017.1,292.2 L1013.3,292.9 L1009.5,293.6 L1005.6,294.3 L1001.8,295.0 L998.0,295.8 L994.2,296.5 L990.4,297.3 L986.6,298.0 L983.0,298.8 L979.3,299.6 L975.8,300.4 L972.3,301.1 L968.9,301.9 L965.6,302.7 L962.4,303.5 L959.9,304.2 L957.6,304.8 L955.3,305.4 L953.1,306.0 L951.0,306.6 L948.9,307.2 L946.8,307.8 L944.8,308.3 L942.8,308.9 L940.9,309.6 L938.9,310.2 L936.9,310.8 L934.9,311.4 L932.9,312.1 L930.9,312.8 L928.8,313.5 L926.7,314.2 L924.6,314.9 L922.3,315.7 L920.0,316.5 L917.6,317.3 L915.2,318.2 L912.6,319.1 L909.9,320.0 L905.0,321.7 L899.9,323.6 L894.5,325.5 L888.9,327.6 L883.1,329.8 L877.1,332.0 L870.9,334.4 L864.6,336.8 L858.2,339.3 L851.6,341.9 L844.9,344.5 L838.1,347.1 L831.3,349.8 L824.4,352.5 L817.4,355.2 L810.5,358.0 L803.5,360.7 L796.6,363.4 L789.7,366.1 L782.9,368.8 L776.1,371.4 L769.4,374.0 L768.8,374.3"/>
<path d="M1465.5,255.2 L1457.6,256.4 L1449.5,257.5 L1441.5,258.6 L1433.4,259.8 L1425.3,260.9 L1417.2,262.0 L1409.1,263.2 L1400.9,264.3 L1392.8,265.4 L1384.7,266.6 L1376.5,267.7 L1368.4,268.9 L1360.4,270.0 L1352.3,271.1 L1344.3,272.3 L1336.4,273.4 L1328.4,274.5 L1320.6,275.6 L1312.8,276.8 L1305.1,277.9 L1297.5,279.0 L1289.9,280.1 L1282.4,281.2 L1275.1,282.3 L1268.8,283.3 L1262.7,284.2 L1256.6,285.1 L1250.5,286.1 L1244.6,287.0 L1238.6,287.9 L1232.7,288.9 L1226.9,289.8 L1221.1,290.7 L1215.3,291.6 L1209.6,292.6 L1203.9,293.5 L1198.2,294.4 L1192.5,295.3 L1186.8,296.2 L1181.2,297.2 L1175.5,298.1 L1169.8,299.0 L1164.1,299.9 L1158.4,300.8 L1152.7,301.8 L1148.6,302.4"/>
<path d="M1611.9,255.7 L1621.4,257.8 L1630.9,259.8 L1640.5,261.8 L1650.0,263.9 L1659.5,265.9 L1669.0,268.0 L1678.6,270.0 L1688.1,272.0 L1697.6,274.1 L1707.1,276.1 L1716.7,278.2 L1726.2,280.2 L1735.7,282.3 L1745.2,284.3 L1754.8,286.3 L1764.3,288.4 L1773.8,290.4 L1783.3,292.5 L1792.9,294.5 L1802.4,296.5 L1811.9,298.6 L1821.4,300.6 L1827.5,301.9"/>
<path d="M1836.7,255.3 L1836.9,255.6 L1839.5,258.2 L1842.1,260.8 L1844.7,263.3 L1847.2,265.9 L1849.8,268.5 L1852.4,271.1 L1855.0,273.7 L1857.6,276.3 L1860.2,278.9 L1862.8,281.4 L1865.3,284.0 L1867.9,286.6 L1870.5,289.2 L1873.1,291.8 L1875.7,294.4 L1876.6,295.3"/>
<path d="M1817.1,255.3 L1813.8,261.3 L1808.7,270.7 L1803.6,280.0 L1798.4,289.3 L1793.3,298.7 L1788.2,308.0 L1783.1,317.3 L1778.0,326.7 L1772.9,336.0 L1767.8,345.3 L1762.7,354.7 L1757.6,364.0 L1752.4,373.3 L1747.3,382.7 L1742.2,392.0 L1737.1,401.3 L1732.0,410.7 L1726.9,420.0 L1721.8,429.3 L1716.7,438.7 L1714.7,442.3"/>
<path d="M2250.3,255.6 L2252.9,257.5 L2255.5,259.3 L2258.2,261.2 L2260.9,263.0 L2263.6,264.9 L2266.4,266.8 L2269.1,268.6 L2271.9,270.5 L2274.6,272.3 L2277.4,274.2 L2280.2,276.1 L2282.9,277.9 L2285.6,279.8 L2288.3,281.6 L2290.9,283.5 L2293.5,285.3 L2296.0,287.2 L2298.5,289.0 L2301.0,290.9 L2303.3,292.7 L2305.6,294.5 L2307.8,296.4 L2309.9,298.2 L2312.0,300.0 L2313.4,301.3 L2314.8,302.7 L2316.2,304.0 L2317.6,305.3 L2318.9,306.6 L2320.2,307.9 L2321.5,309.2 L2322.7,310.6 L2324.0,311.9 L2325.1,313.2 L2326.3,314.5 L2327.4,315.8 L2328.6,317.1 L2329.7,318.4 L2330.7,319.7 L2331.8,321.0 L2332.8,322.3 L2333.8,323.6 L2334.8,325.0 L2335.8,326.3 L2336.7,327.7 L2337.7,329.0 L2338.6,330.4 L2339.5,331.8 L2340.3,333.0 L2341.1,334.3 L2341.9,335.6 L2342.7,336.9 L2343.4,338.2 L2344.2,339.5 L2344.9,340.8 L2345.6,342.1 L2346.3,343.4 L2346.9,344.7 L2347.6,346.1 L2348.2,347.4 L2348.8,348.7 L2349.4,350.1 L2350.0,351.4 L2350.6,352.7 L2351.1,354.1 L2351.6,355.4 L2352.1,356.8 L2352.6,358.1 L2353.1,359.5 L2353.5,360.8 L2353.9,362.2 L2354.3,363.5 L2354.7,364.8 L2355.0,366.1 L2355.3,367.3 L2355.5,368.6 L2355.8,369.8 L2356.0,371.1 L2356.2,372.3 L2356.4,373.5 L2356.6,374.8 L2356.7,376.0 L2356.8,377.3 L2357.0,378.5 L2357.1,379.8 L2357.2,381.1 L2357.2,382.4 L2357.3,383.7 L2357.4,385.1 L2357.5,386.4 L2357.5,387.8 L2357.6,389.3 L2357.7,390.7 L2357.8,392.2 L2357.8,393.7 L2357.9,395.3 L2358.0,397.7 L2358.1,400.1 L2358.2,402.7 L2358.3,405.2 L2358.3,407.8 L2358.3,410.5 L2358.3,413.2 L2358.3,416.0 L2358.3,418.9 L2358.3,421.7 L2358.3,424.6 L2358.2,427.6 L2358.2,430.6 L2358.1,433.7 L2358.1,436.7 L2358.0,439.9 L2358.0,443.0 L2357.9,446.2 L2357.9,449.4 L2357.8,452.7 L2357.8,456.0 L2357.7,459.3 L2357.7,462.6 L2357.7,466.0 L2357.7,470.7 L2357.7,475.6 L2357.7,480.8 L2357.7,486.2 L2357.7,491.7 L2357.6,497.5 L2357.6,503.3 L2357.6,509.2 L2357.6,515.3 L2357.6,521.3 L2357.6,527.3 L2357.6,533.4 L2357.6,539.3 L2357.6,545.2 L2357.5,551.0 L2357.5,556.6 L2357.5,562.1 L2357.5,567.3 L2357.5,572.4 L2357.5,577.1 L2357.5,581.6 L2357.5,585.8 L2357.5,589.6 L2357.5,593.1 L2357.5,594.5 L2357.5,595.8 L2357.5,597.1 L2357.5,598.4 L2357.6,599.6 L2357.6,600.7 L2357.6,601.8 L2357.6,602.9 L2357.6,603.9 L2357.7,604.9 L2357.7,605.9 L2357.7,606.9 L2357.7,607.8 L2357.7,608.7 L2357.8,609.7 L2357.8,610.6 L2357.8,611.5 L2357.7,612.4 L2357.7,613.3 L2357.7,614.2 L2357.7,615.1 L2357.6,616.1 L2357.6,617.0 L2357.5,618.0 L2357.4,618.9 L2357.4,619.8 L2357.3,620.7 L2357.2,621.6 L2357.2,622.5 L2357.1,623.4 L2357.1,624.3 L2357.0,625.2 L2356.9,626.1 L2356.8,626.9 L2356.7,627.8 L2356.6,628.7 L2356.5,629.5 L2356.4,630.4 L2356.3,631.3 L2356.1,632.2 L2356.0,633.0 L2355.8,633.9 L2355.6,634.8 L2355.4,635.6 L2355.2,636.5 L2354.9,637.4 L2354.6,638.3 L2354.3,639.2 L2353.9,640.2 L2353.5,641.3 L2353.1,642.4 L2352.7,643.4 L2352.2,644.5 L2351.7,645.6 L2351.2,646.7 L2350.7,647.8 L2350.2,648.9 L2349.6,650.0 L2349.0,651.1 L2348.4,652.2 L2347.8,653.2 L2347.1,654.3 L2346.4,655.4 L2345.7,656.5 L2345.0,657.5 L2344.3,658.6 L2343.6,659.6 L2342.8,660.6 L2342.0,661.6 L2341.2,662.6 L2340.3,663.6 L2339.5,664.6 L2338.5,665.7 L2337.4,666.8 L2336.4,667.9 L2335.3,668.9 L2334.2,670.0 L2333.0,671.0 L2331.8,672.0 L2330.6,673.1 L2329.4,674.1 L2328.1,675.1 L2326.8,676.1 L2325.5,677.0 L2324.2,678.0 L2322.8,678.9 L2321.4,679.9 L2320.0,680.8 L2318.5,681.7 L2317.1,682.6 L2315.6,683.5 L2314.1,684.4 L2312.5,685.3 L2310.9,686.2 L2309.3,687.0 L2307.7,687.9 L2305.6,689.0 L2303.3,690.0 L2301.1,691.1 L2298.7,692.1 L2296.3,693.1 L2293.8,694.0 L2291.3,695.0 L2288.8,695.9 L2286.2,696.8 L2283.6,697.7 L2280.9,698.6 L2278.2,699.5 L2275.4,700.3 L2272.7,701.2 L2269.9,702.0 L2267.1,702.8 L2264.2,703.6 L2261.4,704.4 L2258.5,705.2 L2255.7,706.0 L2252.8,706.8 L2249.9,707.5 L2247.1,708.3 L2244.2,709.1 L2240.9,709.9 L2237.6,710.8 L2234.3,711.6 L2231.0,712.4 L2227.6,713.1 L2224.2,713.9 L2220.8,714.7 L2217.3,715.4 L2213.8,716.1 L2210.3,716.8 L2206.8,717.5 L2203.3,718.2 L2199.7,718.9 L2196.2,719.6 L2192.6,720.2 L2188.9,720.9 L2185.3,721.5 L2181.7,722.2 L2178.0,722.8 L2174.3,723.5 L2170.6,724.1 L2166.9,724.7 L2163.2,725.4 L2159.5,726.0 L2155.3,726.7 L2151.1,727.4 L2146.8,728.1 L2142.5,728.8 L2138.2,729.4 L2133.9,730.1 L2129.5,730.7 L2125.1,731.4 L2120.7,732.0 L2116.2,732.6 L2111.8,733.3 L2107.3,733.9 L2102.8,734.5 L2098.4,735.1 L2093.9,735.7 L2089.4,736.3 L2084.9,736.9 L2080.4,737.4 L2075.9,738.0 L2071.4,738.6 L2066.9,739.2 L2062.5,739.7 L2058.0,740.3 L2053.6,740.8 L2049.2,741.4 L2044.7,741.9 L2040.3,742.5 L2035.8,743.0 L2031.3,743.5 L2026.9,744.0 L2022.4,744.6 L2017.9,745.1 L2013.4,745.6 L2008.9,746.1 L2004.4,746.6 L1999.9,747.1 L1995.5,747.6 L1991.0,748.0 L1986.6,748.5 L1982.1,749.0 L1977.7,749.4 L1973.4,749.9 L1969.0,750.3 L1964.7,750.8 L1960.4,751.2 L1956.1,751.6 L1951.9,752.1 L1947.7,752.5 L1944.0,752.8 L1940.3,753.2 L1936.7,753.6 L1933.1,753.9 L1929.6,754.3 L1926.0,754.6 L1922.5,755.0 L1919.0,755.3 L1915.5,755.6 L1912.1,756.0 L1908.6,756.3 L1905.2,756.6 L1901.7,756.9 L1898.3,757.2 L1894.8,757.5 L1891.4,757.8 L1887.9,758.1 L1884.4,758.4 L1880.9,758.7 L1877.4,758.9 L1873.8,759.2 L1870.3,759.4 L1866.6,759.7 L1863.0,759.9 L1859.0,760.1 L1855.1,760.3 L1851.0,760.6 L1847.0,760.7 L1843.0,760.9 L1838.9,761.1 L1834.8,761.3 L1830.7,761.4 L1826.6,761.6 L1822.5,761.7 L1818.3,761.8 L1814.2,761.9 L1810.0,762.1 L1805.9,762.2 L1801.7,762.3 L1797.6,762.4 L1793.4,762.5 L1789.3,762.7 L1785.1,762.8 L1781.0,762.9 L1777.8,763.0"/>
<path d="M1526.8,330.2 L1527.6,331.0 L1528.4,331.8 L1529.3,332.6 L1530.1,333.4 L1530.9,334.2 L1531.7,334.9 L1532.6,335.7 L1533.4,336.5 L1534.2,337.3 L1535.1,338.1 L1535.9,338.9 L1536.7,339.6 L1537.6,340.4 L1538.4,341.2 L1539.2,342.0 L1540.0,342.8 L1540.8,343.7 L1541.6,344.5 L1542.3,345.3 L1543.1,346.2 L1543.8,347.0 L1544.5,347.9 L1545.2,348.8 L1545.9,349.6 L1546.5,350.5 L1547.2,351.5 L1547.8,352.4 L1548.5,353.3 L1549.1,354.3 L1549.7,355.2 L1550.4,356.2 L1551.0,357.1 L1551.6,358.1 L1552.2,359.1 L1552.7,360.1 L1553.3,361.1 L1553.9,362.1 L1554.4,363.1 L1554.9,364.1 L1555.4,365.1 L1555.9,366.1 L1556.3,367.1 L1556.8,368.1 L1557.2,369.1 L1557.6,370.0 L1557.9,371.0 L1558.3,372.0 L1558.6,372.9 L1558.8,373.7 L1559.1,374.6 L1559.3,375.3 L1559.5,376.1 L1559.7,376.9 L1559.9,377.7 L1560.0,378.5 L1560.2,379.3 L1560.3,380.1 L1560.4,380.9 L1560.5,381.6 L1560.6,382.4 L1560.7,383.2 L1560.8,384.0 L1560.8,384.8 L1560.8,385.6 L1560.9,386.3 L1560.9,387.1 L1560.9,387.9 L1560.9,388.7 L1560.9,389.5 L1560.8,390.4 L1560.8,391.2 L1560.7,392.0 L1560.6,392.9 L1560.5,393.9 L1560.4,394.8 L1560.3,395.8 L1560.1,396.7 L1559.9,397.7 L1559.8,398.7 L1559.5,399.7 L1559.3,400.7 L1559.1,401.6 L1558.8,402.6 L1558.6,403.6 L1558.3,404.6 L1558.0,405.6 L1557.7,406.6 L1557.4,407.6 L1557.0,408.6 L1556.7,409.5 L1556.3,410.5 L1555.9,411.5 L1555.6,412.4 L1555.2,413.4 L1554.8,414.4 L1554.4,415.3 L1553.9,416.3 L1553.4,417.3 L1552.9,418.3 L1552.4,419.3 L1551.8,420.4 L1551.2,421.4 L1550.6,422.4 L1550.0,423.4 L1549.4,424.4 L1548.7,425.4 L1548.1,426.4 L1547.4,427.4 L1546.7,428.4 L1546.1,429.4 L1545.4,430.4 L1544.7,431.3 L1544.0,432.3 L1543.4,433.2 L1542.7,434.2 L1542.1,435.1 L1541.4,436.0 L1540.8,436.9 L1540.1,437.7 L1539.5,438.6 L1539.0,439.3 L1538.5,440.0 L1538.1,440.6 L1537.6,441.3 L1537.1,441.9 L1536.6,442.6 L1536.2,443.0"/>
<path d="M1895.3,330.2 L1894.7,331.9 L1894.1,333.7 L1893.5,335.5 L1892.9,337.3 L1892.3,339.1 L1891.7,340.9 L1891.2,342.7 L1890.6,344.5 L1890.0,346.3 L1889.4,348.1 L1888.9,349.8 L1888.3,351.6 L1887.7,353.4 L1887.1,355.2 L1886.5,357.0 L1885.9,358.8 L1885.2,360.6 L1884.6,362.3 L1884.0,364.1 L1883.3,365.9 L1882.6,367.7 L1881.9,369.4 L1881.2,371.2 L1880.5,372.9 L1879.7,374.7 L1879.0,376.5 L1878.2,378.3 L1877.4,380.1 L1876.6,382.0 L1875.8,383.8 L1875.0,385.6 L1874.1,387.4 L1873.3,389.2 L1872.5,391.0 L1871.6,392.8 L1870.7,394.6 L1869.8,396.3 L1868.9,398.1 L1868.0,399.9 L1867.1,401.6 L1866.2,403.4 L1865.2,405.1 L1864.3,406.9 L1863.3,408.6 L1862.3,410.3 L1861.3,412.0 L1860.3,413.6 L1859.3,415.3 L1858.3,416.9 L1857.3,418.5 L1856.2,420.1 L1855.2,421.7 L1854.1,423.3 L1853.1,424.8 L1852.0,426.4 L1850.9,428.0 L1849.8,429.5 L1848.7,431.0 L1847.5,432.6 L1846.4,434.1 L1845.2,435.6 L1844.1,437.1 L1842.9,438.6 L1841.7,440.0 L1840.5,441.5 L1839.3,442.9 L1838.1,444.4 L1836.8,445.8 L1835.6,447.2 L1834.3,448.6 L1833.1,449.9 L1831.8,451.3 L1830.5,452.6 L1829.2,454.0 L1827.9,455.3 L1826.6,456.7 L1825.3,458.0 L1824.0,459.3 L1822.6,460.6 L1821.3,461.9 L1819.9,463.2 L1818.5,464.5 L1817.1,465.8 L1815.7,467.0 L1814.3,468.3 L1812.9,469.5 L1811.4,470.7 L1810.0,471.8 L1808.5,473.0 L1807.0,474.1 L1805.6,475.1 L1804.1,476.2 L1802.5,477.2 L1801.0,478.2 L1799.5,479.1 L1797.9,480.0 L1796.4,480.8 L1794.9,481.6 L1793.3,482.4 L1791.8,483.1 L1790.3,483.7 L1788.8,484.4 L1787.3,485.0 L1785.8,485.5 L1784.2,486.1 L1782.7,486.6 L1781.1,487.1 L1779.5,487.6 L1777.9,488.1 L1776.2,488.5 L1774.5,489.0 L1772.8,489.4 L1771.1,489.9 L1769.3,490.3 L1767.5,490.8 L1765.6,491.2 L1763.7,491.7 L1761.7,492.1 L1759.7,492.6 L1757.7,493.1 L1754.2,493.9 L1750.6,494.7 L1746.9,495.5 L1743.0,496.3 L1739.0,497.1 L1734.8,497.9 L1730.6,498.6 L1726.2,499.4 L1721.7,500.1 L1717.2,500.9 L1712.6,501.6 L1708.0,502.3 L1703.3,503.0 L1698.5,503.7 L1693.8,504.4 L1689.0,505.1 L1684.2,505.7 L1679.5,506.4 L1674.7,507.0 L1670.0,507.7 L1665.4,508.3 L1660.8,508.9 L1656.2,509.5 L1651.8,510.1 L1647.4,510.6 L1643.0,511.2 L1638.6,511.7 L1634.2,512.2 L1629.7,512.7 L1625.3,513.2 L1620.9,513.7 L1616.5,514.2 L1612.1,514.7 L1607.7,515.1 L1603.3,515.6 L1598.9,516.0 L1594.5,516.4 L1590.0,516.8 L1585.6,517.2 L1581.2,517.6 L1576.8,518.0 L1572.4,518.4 L1568.0,518.8 L1563.5,519.2 L1559.1,519.6 L1554.7,519.9 L1550.3,520.3 L1545.9,520.7 L1541.4,521.0 L1536.9,521.4 L1532.3,521.7 L1527.7,522.1 L1523.0,522.4 L1518.2,522.7 L1513.5,523.0 L1508.7,523.3 L1504.0,523.6 L1499.2,523.9 L1494.5,524.2 L1489.8,524.5 L1485.1,524.8 L1480.5,525.0 L1476.0,525.3 L1471.6,525.6 L1467.2,525.8 L1462.9,526.1 L1458.8,526.4 L1454.7,526.6 L1450.8,526.9 L1447.1,527.1 L1443.4,527.4 L1440.0,527.6 L1438.0,527.8 L1436.1,528.0 L1434.2,528.1 L1432.4,528.3 L1430.7,528.4 L1429.1,528.6 L1427.5,528.7 L1425.9,528.8 L1424.4,529.0 L1422.9,529.1 L1421.4,529.3 L1419.9,529.4 L1418.4,529.5 L1417.0,529.7 L1415.5,529.8 L1413.9,530.0 L1412.4,530.1 L1410.8,530.2 L1409.2,530.4 L1407.5,530.5 L1405.7,530.6 L1403.9,530.8 L1402.0,530.9 L1400.0,531.1 L1396.8,531.3 L1393.4,531.5 L1389.9,531.7 L1386.3,531.9 L1382.5,532.2 L1378.7,532.4 L1374.7,532.6 L1370.7,532.8 L1366.6,533.1 L1362.5,533.3 L1358.2,533.5 L1354.0,533.7 L1349.7,533.9 L1345.4,534.2 L1341.0,534.4 L1336.7,534.6 L1332.3,534.8 L1328.0,535.0 L1323.6,535.3 L1319.3,535.5 L1315.9,535.7"/>
<path d="M1898.5,330.2 L1898.3,331.9 L1898.1,333.7 L1897.9,335.5 L1897.7,337.3 L1897.5,339.1 L1897.3,340.9 L1897.2,342.7 L1897.0,344.5 L1896.8,346.2 L1896.7,348.0 L1896.5,349.8 L1896.3,351.6 L1896.1,353.4 L1895.9,355.2 L1895.7,357.0 L1895.5,358.8 L1895.3,360.5 L1895.0,362.3 L1894.8,364.1 L1894.5,365.9 L1894.2,367.6 L1893.9,369.4 L1893.6,371.2 L1893.2,372.9 L1892.8,374.7 L1892.4,376.5 L1892.0,378.3 L1891.6,380.1 L1891.1,381.9 L1890.7,383.7 L1890.2,385.5 L1889.7,387.3 L1889.2,389.1 L1888.7,390.9 L1888.2,392.7 L1887.6,394.5 L1887.1,396.2 L1886.5,398.0 L1886.0,399.8 L1885.4,401.6 L1884.8,403.3 L1884.2,405.1 L1883.6,406.8 L1883.0,408.5 L1882.4,410.2 L1881.8,411.9 L1881.1,413.6 L1880.5,415.3 L1879.9,416.9 L1879.3,418.5 L1878.6,420.0 L1878.0,421.6 L1877.4,423.2 L1876.7,424.7 L1876.1,426.3 L1875.4,427.8 L1874.7,429.4 L1874.1,430.9 L1873.4,432.4 L1872.7,433.9 L1872.0,435.4 L1871.2,436.9 L1870.5,438.4 L1869.8,439.9 L1869.0,441.3 L1868.3,442.8 L1867.5,444.3 L1866.8,445.7 L1866.0,447.1 L1865.2,448.5 L1864.4,449.9 L1863.5,451.3 L1862.8,452.6 L1862.0,453.9 L1861.2,455.2 L1860.3,456.5 L1859.5,457.7 L1858.7,459.0 L1857.8,460.2 L1856.9,461.5 L1856.1,462.7 L1855.2,463.9 L1854.3,465.1 L1853.4,466.3 L1852.5,467.5 L1851.6,468.7 L1850.7,469.9 L1849.8,471.1 L1848.8,472.2 L1847.9,473.4 L1847.0,474.5 L1846.1,475.6 L1845.1,476.7 L1844.2,477.8 L1843.3,478.9 L1842.4,480.0 L1841.5,481.0 L1840.7,482.0 L1839.9,482.9 L1839.0,483.9 L1838.2,484.9 L1837.4,485.8 L1836.6,486.8 L1835.7,487.7 L1834.9,488.6 L1834.1,489.5 L1833.2,490.4 L1832.4,491.3 L1831.5,492.2 L1830.7,493.1 L1829.8,494.0 L1828.9,494.8 L1828.0,495.7 L1827.1,496.5 L1826.1,497.3 L1825.2,498.1 L1824.2,498.9 L1823.2,499.7 L1822.2,500.4 L1821.2,501.2 L1820.1,502.0 L1818.9,502.7 L1817.7,503.5 L1816.5,504.2 L1815.3,504.9 L1814.1,505.6 L1812.8,506.2 L1811.5,506.9 L1810.2,507.5 L1808.9,508.1 L1807.6,508.7 L1806.3,509.3 L1805.0,509.9 L1803.6,510.5 L1802.2,511.0 L1800.9,511.6 L1799.5,512.2 L1798.1,512.7 L1796.6,513.3 L1795.2,513.8 L1793.8,514.4 L1792.3,514.9 L1790.9,515.5 L1789.4,516.0 L1787.7,516.6 L1786.0,517.2 L1784.2,517.8 L1782.4,518.4 L1780.6,519.0 L1778.8,519.6 L1776.9,520.1 L1775.1,520.7 L1773.2,521.2 L1771.3,521.8 L1769.4,522.3 L1767.4,522.8 L1765.5,523.4 L1763.6,523.9 L1761.6,524.4 L1759.7,524.9 L1757.7,525.4 L1757.2,525.6"/>
<path d="M1906.6,330.4 L1907.8,333.1 L1909.1,335.8 L1910.3,338.5 L1911.6,341.2 L1912.9,343.9 L1914.1,346.6 L1915.4,349.2 L1916.7,351.9 L1918.0,354.6 L1919.3,357.3 L1920.6,359.9 L1921.9,362.6 L1923.1,365.3 L1924.4,368.0 L1925.6,370.7 L1926.8,373.4 L1928.0,376.1 L1929.2,378.8 L1930.3,381.6 L1931.4,384.3 L1932.5,387.1 L1933.5,389.8 L1934.5,392.6 L1935.4,395.4 L1936.3,398.3 L1937.2,401.2 L1938.1,404.2 L1938.9,407.2 L1939.7,410.3 L1940.5,413.4 L1941.3,416.5 L1942.1,419.6 L1942.8,422.7 L1943.5,425.9 L1944.1,429.0 L1944.8,432.1 L1945.4,435.2 L1946.0,438.3 L1946.6,441.3 L1947.2,444.3 L1947.7,447.3 L1948.2,450.2 L1948.7,453.0 L1949.2,455.8 L1949.7,458.5 L1950.1,461.1 L1950.5,463.6 L1950.9,466.0 L1951.1,467.6 L1951.4,469.1 L1951.6,470.5 L1951.8,472.0 L1952.1,473.4 L1952.3,474.7 L1952.5,476.1 L1952.7,477.4 L1952.9,478.7 L1953.0,480.0 L1953.2,481.2 L1953.4,482.5 L1953.5,483.7 L1953.6,484.9 L1953.7,486.2 L1953.8,487.4 L1953.9,488.7 L1954.0,489.9 L1954.1,491.2 L1954.1,492.5 L1954.1,493.7 L1954.1,495.1 L1954.1,496.4 L1954.1,497.8 L1954.0,499.3 L1953.9,500.8 L1953.8,502.4 L1953.7,504.0 L1953.6,505.6 L1953.4,507.2 L1953.2,508.8 L1953.1,510.4 L1952.9,512.0 L1952.6,513.7 L1952.4,515.3 L1952.1,516.9 L1951.8,518.6 L1951.5,520.2 L1951.2,521.8 L1950.9,523.4 L1950.6,525.0 L1950.2,526.6 L1949.8,528.2 L1949.4,529.8 L1949.0,531.3 L1948.6,532.9 L1948.2,534.4 L1947.7,535.9 L1947.3,537.3 L1946.8,538.7 L1946.3,540.1 L1945.8,541.4 L1945.3,542.8 L1944.8,544.1 L1944.3,545.5 L1943.7,546.8 L1943.1,548.1 L1942.6,549.4 L1942.0,550.7 L1941.3,552.0 L1940.7,553.3 L1940.1,554.6 L1939.4,555.9 L1938.7,557.2 L1938.1,558.5 L1937.4,559.8 L1936.6,561.1 L1935.9,562.4 L1935.2,563.7 L1934.4,565.0 L1933.7,566.3 L1932.9,567.7 L1932.0,569.1 L1931.0,570.6 L1930.1,572.1 L1929.1,573.6 L1928.0,575.1 L1927.0,576.6 L1925.9,578.1 L1924.8,579.6 L1923.7,581.1 L1922.6,582.6 L1921.4,584.1 L1920.3,585.6 L1919.1,587.1 L1918.0,588.6 L1916.8,590.1 L1915.6,591.6 L1914.5,593.1"/>
<path d="M2204.2,330.0 L2203.6,332.9 L2203.0,336.0 L2202.4,339.1 L2201.8,342.2 L2201.2,345.3 L2200.6,348.4 L2199.9,351.6 L2199.3,354.7 L2198.7,357.8 L2198.1,360.9 L2197.5,364.0 L2197.1,366.3"/>
<path d="M2229.4,330.7 L2230.9,331.7 L2232.4,332.7 L2233.9,333.7 L2235.5,334.7 L2237.0,335.6 L2238.6,336.6 L2240.2,337.5 L2241.8,338.5 L2243.3,339.4 L2244.9,340.3 L2246.5,341.3 L2248.0,342.3 L2249.6,343.2 L2251.1,344.2 L2252.6,345.2 L2254.1,346.2 L2255.6,347.2 L2257.1,348.3 L2258.5,349.3 L2260.0,350.4 L2261.4,351.5 L2262.7,352.7 L2264.1,353.9 L2265.4,355.1 L2266.6,356.3 L2267.9,357.5 L2269.1,358.8 L2270.3,360.1 L2271.5,361.4 L2272.7,362.7 L2273.9,364.1 L2275.1,365.4 L2276.2,366.8 L2277.3,368.2 L2278.4,369.6 L2279.5,371.1 L2280.6,372.5 L2281.6,374.0 L2282.6,375.4 L2283.6,376.9 L2284.6,378.4 L2285.5,379.9 L2286.5,381.4 L2287.4,382.9 L2288.3,384.4 L2289.1,385.9 L2290.0,387.4 L2290.8,388.9 L2291.5,390.4 L2292.3,391.9 L2293.0,393.5 L2293.7,395.0 L2294.4,396.5 L2295.0,398.1 L2295.6,399.7 L2296.3,401.2 L2296.8,402.8 L2297.4,404.4 L2298.0,406.0 L2298.5,407.6 L2299.0,409.2 L2299.5,410.8 L2299.9,412.4 L2300.4,414.1 L2300.8,415.7 L2301.3,417.3 L2301.7,418.9 L2302.1,420.6 L2302.4,422.2 L2302.8,423.8 L2303.2,425.4 L2303.5,427.1 L2303.8,428.7 L2304.1,430.2 L2304.4,431.8 L2304.6,433.3 L2304.8,434.9 L2305.0,436.4 L2305.2,438.0 L2305.3,439.5 L2305.5,441.1 L2305.6,442.6 L2305.7,444.2 L2305.8,445.7 L2305.9,447.3 L2306.0,448.9 L2306.1,450.5 L2306.2,452.1 L2306.2,453.8 L2306.3,455.4 L2306.3,457.1 L2306.4,458.8 L2306.5,460.6 L2306.5,462.4 L2306.6,464.2 L2306.7,466.0 L2306.8,468.6 L2306.9,471.3 L2307.0,474.1 L2307.0,477.0 L2307.1,480.0 L2307.2,483.1 L2307.3,486.2 L2307.3,489.4 L2307.4,492.7 L2307.4,495.9 L2307.4,499.2 L2307.5,502.4 L2307.5,505.7 L2307.5,508.9 L2307.5,512.0 L2307.4,515.1 L2307.4,518.1 L2307.3,521.0 L2307.3,523.9 L2307.2,526.6 L2307.1,529.1 L2307.0,531.5 L2306.8,533.8 L2306.7,535.9 L2306.6,536.9 L2306.5,537.9 L2306.4,538.8 L2306.4,539.8 L2306.3,540.6 L2306.2,541.5 L2306.2,542.3 L2306.1,543.1 L2306.0,543.9 L2306.0,544.6 L2305.9,545.4 L2305.8,546.1 L2305.7,546.8 L2305.6,547.5 L2305.4,548.3 L2305.3,549.0 L2305.2,549.7 L2305.0,550.4 L2304.8,551.1 L2304.6,551.9 L2304.3,552.6 L2304.1,553.4 L2303.8,554.1 L2303.5,554.9 L2303.1,556.0 L2302.6,557.0 L2302.2,558.1 L2301.7,559.1 L2301.1,560.2 L2300.6,561.3 L2300.0,562.3 L2299.4,563.4 L2298.8,564.5 L2298.2,565.6 L2297.5,566.7 L2296.8,567.8 L2296.1,568.9 L2295.3,569.9 L2294.6,571.0 L2293.8,572.1 L2292.9,573.2 L2292.1,574.2 L2291.2,575.3 L2290.3,576.3 L2289.4,577.3 L2288.5,578.4 L2287.5,579.4 L2286.5,580.4 L2285.2,581.6 L2283.9,582.9 L2282.4,584.1 L2281.0,585.3 L2279.4,586.6 L2277.9,587.8 L2276.2,589.0 L2274.6,590.2 L2272.9,591.4 L2271.1,592.5 L2269.3,593.7 L2267.5,594.8 L2265.7,596.0 L2263.8,597.1 L2261.9,598.2 L2260.0,599.3 L2258.1,600.4 L2256.1,601.5 L2254.2,602.6 L2252.2,603.7 L2250.2,604.8 L2248.2,605.8 L2246.2,606.9 L2244.2,607.9 L2241.9,609.1 L2239.5,610.3 L2237.1,611.4 L2234.6,612.6 L2232.1,613.7 L2229.6,614.8 L2227.1,615.9 L2224.6,617.0 L2222.0,618.1 L2219.4,619.2 L2216.7,620.3 L2214.1,621.3 L2211.4,622.3 L2208.7,623.4 L2206.0,624.4 L2203.2,625.4 L2200.5,626.3 L2197.7,627.3 L2194.9,628.3 L2192.1,629.2 L2189.2,630.1 L2186.4,631.0 L2183.5,631.9 L2180.7,632.8 L2177.4,633.8 L2174.1,634.8 L2170.8,635.7 L2167.5,636.6 L2164.1,637.5 L2160.7,638.3 L2157.3,639.2 L2153.8,640.0 L2150.3,640.8 L2146.9,641.6 L2143.3,642.4 L2139.8,643.2 L2136.2,643.9 L2132.7,644.7 L2129.1,645.4 L2125.4,646.2 L2121.8,646.9 L2118.2,647.6 L2114.5,648.3 L2110.8,649.0 L2107.1,649.7 L2103.4,650.5 L2099.7,651.2 L2096.0,651.9 L2091.8,652.7 L2087.5,653.5 L2083.2,654.3 L2078.9,655.0 L2074.5,655.8 L2070.1,656.6 L2065.6,657.4 L2061.1,658.1 L2056.6,658.9 L2052.1,659.6 L2047.6,660.3 L2043.1,661.0 L2038.5,661.8 L2034.0,662.5 L2029.5,663.2 L2025.0,663.8 L2020.5,664.5 L2016.0,665.2 L2011.6,665.8 L2007.2,666.4 L2002.8,667.1 L1998.5,667.7 L1994.3,668.3 L1990.1,668.8 L1986.3,669.3 L1982.6,669.8 L1978.8,670.3 L1975.1,670.8 L1971.3,671.2 L1967.6,671.7 L1963.8,672.1 L1960.1,672.6 L1956.4,673.0 L1952.7,673.4 L1949.0,673.8 L1945.3,674.2 L1941.7,674.6 L1938.1,675.0 L1934.6,675.4 L1931.1,675.7 L1927.7,676.1 L1924.3,676.4 L1921.0,676.8 L1917.7,677.1 L1914.5,677.4 L1911.4,677.7 L1908.3,678.1 L1905.4,678.4 L1903.3,678.6 L1901.3,678.8 L1899.4,678.9 L1897.5,679.1 L1895.6,679.3 L1893.8,679.5 L1892.0,679.7 L1890.3,679.8 L1888.5,680.0 L1886.8,680.1 L1885.1,680.3 L1883.4,680.4 L1881.8,680.6 L1880.1,680.7 L1878.4,680.9 L1876.8,681.0 L1875.1,681.1 L1873.4,681.3 L1871.7,681.4 L1870.0,681.6 L1868.3,681.7 L1866.6,681.9 L1864.8,682.0 L1863.0,682.2 L1861.1,682.3 L1859.1,682.5 L1857.2,682.7 L1855.2,682.8 L1853.2,683.0 L1851.3,683.1 L1849.3,683.3 L1847.3,683.4 L1845.3,683.6 L1843.3,683.7 L1841.3,683.9 L1839.3,684.1 L1837.3,684.2 L1835.3,684.4 L1833.3,684.5 L1831.3,684.7 L1829.2,684.8 L1828.5,684.9"/>
<path d="M2192.7,404.9 L2192.9,407.4 L2193.1,410.0 L2193.3,412.5 L2193.5,415.1 L2193.7,417.6 L2193.9,420.1 L2194.1,422.7 L2194.3,425.2 L2194.5,427.8 L2194.7,430.3 L2194.9,432.8 L2195.1,435.4 L2195.3,437.9 L2195.5,440.5 L2195.6,443.0 L2195.8,445.5 L2196.0,448.1 L2196.2,450.6 L2196.4,453.2 L2196.5,455.7 L2196.7,458.3 L2196.9,460.9 L2197.0,463.4 L2197.2,466.0 L2197.3,468.6 L2197.5,471.2 L2197.6,473.9 L2197.7,476.5 L2197.9,479.2 L2198.0,481.8 L2198.1,484.4 L2198.2,487.1 L2198.3,489.7 L2198.5,492.4 L2198.6,495.0 L2198.7,497.7 L2198.8,500.3 L2198.9,503.0 L2199.0,505.6 L2199.1,508.3 L2199.2,511.0 L2199.2,513.6 L2199.3,516.3 L2199.4,518.9 L2199.5,521.6 L2199.6,524.2 L2199.6,526.9 L2199.7,529.5 L2199.8,532.2 L2199.9,534.9 L2199.9,537.7 L2200.0,540.5 L2200.1,543.3 L2200.2,546.1 L2200.2,548.9 L2200.3,551.8 L2200.4,554.6 L2200.4,557.5 L2200.5,560.3 L2200.6,563.1 L2200.6,565.9 L2200.7,568.7 L2200.7,571.4 L2200.7,574.0 L2200.8,576.7 L2200.8,579.2 L2200.8,581.7 L2200.8,584.2 L2200.8,586.5 L2200.8,588.8 L2200.8,591.0 L2200.8,593.1 L2200.8,594.3 L2200.7,595.6 L2200.7,596.8 L2200.7,597.9 L2200.7,599.1 L2200.7,600.2 L2200.7,601.3 L2200.6,602.4 L2200.6,603.5 L2200.6,604.5 L2200.6,605.5 L2200.5,606.6 L2200.5,607.6 L2200.4,608.5 L2200.4,609.5 L2200.3,610.5 L2200.3,611.4 L2200.2,612.4 L2200.2,613.3 L2200.1,614.3 L2200.0,615.2 L2199.9,616.1 L2199.8,617.1 L2199.7,618.0 L2199.6,618.8 L2199.6,619.5 L2199.5,620.3 L2199.4,621.0 L2199.3,621.8 L2199.3,622.5 L2199.2,623.2 L2199.1,623.9 L2199.1,624.6 L2199.0,625.3 L2198.9,626.0 L2198.8,626.7 L2198.7,627.4 L2198.6,628.0 L2198.5,628.7 L2198.3,629.4 L2198.2,630.1 L2198.0,630.8 L2197.8,631.5 L2197.6,632.2 L2197.4,632.8 L2197.1,633.5 L2196.8,634.2 L2196.5,634.9 L2196.1,635.8 L2195.7,636.7 L2195.3,637.6 L2194.8,638.5 L2194.3,639.4 L2193.7,640.3 L2193.2,641.2 L2192.6,642.1 L2192.0,643.0 L2191.4,643.9 L2190.7,644.8 L2190.0,645.7 L2189.3,646.6 L2188.6,647.5 L2187.9,648.4 L2187.2,649.3 L2186.4,650.2 L2185.6,651.0 L2184.8,651.9 L2184.0,652.8 L2183.2,653.6 L2182.4,654.5 L2181.5,655.3 L2180.7,656.1 L2179.6,657.1 L2178.5,658.1 L2177.4,659.0 L2176.3,660.0 L2175.1,660.9 L2173.9,661.8 L2172.7,662.7 L2171.5,663.7 L2170.2,664.6 L2168.9,665.4 L2167.6,666.3 L2166.3,667.2 L2164.9,668.1 L2163.6,669.0 L2162.2,669.8 L2160.8,670.7 L2159.3,671.5 L2157.9,672.4 L2156.4,673.2 L2155.0,674.0 L2153.5,674.8 L2152.0,675.7 L2150.4,676.5 L2148.9,677.3 L2147.0,678.3 L2145.1,679.2 L2143.1,680.2 L2141.1,681.2 L2139.1,682.1 L2137.1,683.0 L2135.0,683.9 L2132.9,684.8 L2130.8,685.7 L2128.6,686.6 L2126.5,687.5 L2124.2,688.3 L2122.0,689.2 L2119.8,690.1 L2117.5,690.9 L2115.2,691.8 L2112.9,692.6 L2110.5,693.5 L2108.1,694.3 L2105.7,695.1 L2103.3,696.0 L2100.9,696.8 L2098.4,697.6 L2096.0,698.5 L2092.8,699.5 L2089.6,700.6 L2086.4,701.6 L2083.1,702.6 L2079.7,703.7 L2076.3,704.7 L2072.8,705.7 L2069.3,706.7 L2065.8,707.7 L2062.2,708.7 L2058.6,709.7 L2055.0,710.7 L2051.3,711.7 L2047.7,712.7 L2044.0,713.6 L2040.3,714.6 L2036.6,715.5 L2033.0,716.5 L2029.3,717.4 L2025.6,718.3 L2022.0,719.2 L2018.4,720.1 L2014.8,720.9 L2011.2,721.8 L2007.7,722.6 L2004.2,723.4 L2000.6,724.2 L1997.0,725.0 L1993.4,725.8 L1989.8,726.6 L1986.2,727.3 L1982.6,728.1 L1979.0,728.8 L1975.4,729.5 L1971.8,730.2 L1968.2,730.9 L1964.6,731.6 L1961.0,732.3 L1957.5,733.0 L1953.9,733.7 L1950.4,734.3 L1946.9,735.0 L1943.4,735.6 L1940.0,736.2 L1936.6,736.9 L1933.2,737.5 L1929.8,738.1 L1926.5,738.7 L1923.7,739.2 L1921.0,739.7 L1918.3,740.2 L1915.6,740.7 L1913.0,741.2 L1910.4,741.7 L1907.8,742.1 L1905.2,742.6 L1902.7,743.0 L1900.1,743.5 L1897.6,743.9 L1895.1,744.3 L1892.6,744.8 L1890.0,745.2 L1887.5,745.6 L1884.9,746.0 L1882.3,746.5 L1879.7,746.9 L1877.0,747.3 L1874.3,747.7 L1871.6,748.1 L1868.8,748.5 L1865.9,748.9 L1863.0,749.3 L1859.3,749.8 L1855.6,750.3 L1851.7,750.8 L1847.8,751.2 L1843.9,751.7 L1839.9,752.2 L1835.9,752.6 L1831.8,753.1 L1827.6,753.5 L1823.5,754.0 L1819.3,754.4 L1815.1,754.8 L1810.9,755.3 L1806.6,755.7 L1802.4,756.1 L1798.1,756.6 L1793.8,757.0 L1789.6,757.4 L1785.3,757.9 L1781.1,758.3 L1777.7,758.6"/>
<path d="M739.3,330.0 L738.8,332.9 L738.3,336.0 L737.8,339.1 L737.3,342.2 L736.8,345.3 L736.3,348.4 L735.8,351.6 L735.3,354.7 L734.8,357.8 L734.3,360.9 L733.8,364.0 L733.5,366.2"/>
<path d="M975.1,324.7 L970.3,325.3 L965.6,325.9 L960.9,326.5 L956.2,327.1 L951.5,327.7 L946.7,328.3 L942.0,328.9 L937.3,329.4 L932.6,330.0 L927.9,330.6 L923.2,331.2 L918.5,331.8 L913.8,332.4 L909.1,333.0 L904.3,333.6 L899.6,334.2 L894.8,334.8 L890.1,335.4 L885.3,336.1 L880.5,336.7 L875.7,337.4 L870.9,338.1 L866.1,338.8 L861.2,339.5 L856.0,340.3 L850.8,341.1 L845.5,341.9 L840.1,342.7 L834.7,343.6 L829.3,344.5 L823.8,345.3 L818.4,346.2 L812.9,347.2 L807.4,348.1 L801.9,349.0 L796.5,349.9 L791.0,350.9 L785.6,351.8 L780.2,352.7 L774.8,353.6 L769.5,354.6 L764.2,355.5 L759.0,356.4 L753.9,357.3 L748.8,358.1 L743.8,359.0 L738.9,359.8 L734.1,360.7 L730.2,361.3 L726.4,361.9 L722.5,362.6 L718.7,363.2 L714.8,363.7 L711.0,364.3 L707.2,364.9 L703.5,365.4 L699.8,366.0 L696.1,366.5 L692.4,367.1 L688.8,367.6 L685.2,368.2 L681.7,368.8 L678.2,369.4 L674.8,369.9 L671.4,370.6 L668.0,371.2 L664.8,371.8 L661.6,372.5 L658.4,373.2 L655.4,373.9 L652.3,374.7 L649.4,375.5 L647.3,376.1 L645.3,376.7 L643.3,377.3 L641.4,377.9 L639.5,378.5 L637.7,379.1 L635.8,379.7 L634.0,380.3 L632.3,381.0 L630.5,381.6 L628.8,382.3 L627.1,382.9 L625.4,383.6 L623.8,384.3 L622.1,385.0 L620.5,385.7 L618.8,386.5 L617.1,387.2 L615.5,388.0 L613.8,388.7 L612.2,389.5 L610.5,390.3 L608.8,391.2 L607.1,392.0 L605.3,392.9 L603.5,393.8 L601.7,394.8 L599.9,395.7 L598.2,396.7 L596.4,397.7 L594.6,398.7 L592.9,399.7 L591.1,400.8 L589.4,401.8 L587.7,402.9 L585.9,404.0 L584.2,405.1 L582.4,406.2 L580.7,407.3 L578.9,408.5 L577.2,409.6 L575.4,410.8 L573.7,411.9 L571.9,413.1 L570.1,414.3 L568.3,415.5 L566.5,416.6 L564.7,417.8 L562.7,419.2 L560.7,420.6 L558.6,421.9 L556.6,423.4 L554.5,424.8 L552.5,426.2 L550.4,427.7 L548.3,429.2 L546.3,430.7 L544.2,432.2 L542.1,433.7 L540.0,435.2 L537.9,436.7 L535.8,438.2 L533.7,439.8 L531.6,441.3 L529.5,442.8 L527.5,444.4 L525.7,445.6"/>
<path d="M999.4,331.1 L990.5,333.1 L981.6,335.1 L972.6,337.1 L963.7,339.1 L954.7,341.1 L945.8,343.1 L936.9,345.1 L927.9,347.1 L919.0,349.1 L910.1,351.1 L901.1,353.1 L892.2,355.1 L883.3,357.1 L874.3,359.1 L865.4,361.1 L856.4,363.1 L847.5,365.1 L838.6,367.1 L829.6,369.1 L820.7,371.1 L811.8,373.1 L802.8,375.1 L798.0,376.2"/>
<path d="M1029.1,331.1 L1027.0,331.9 L1025.0,332.8 L1023.0,333.6 L1021.0,334.5 L1019.0,335.3 L1017.0,336.1 L1015.1,337.0 L1013.1,337.8 L1011.1,338.6 L1009.1,339.4 L1007.1,340.2 L1005.2,341.1 L1003.2,341.9 L1001.1,342.7 L999.1,343.6 L997.1,344.5 L995.0,345.4 L993.0,346.3 L990.9,347.2 L988.7,348.1 L986.6,349.1 L984.4,350.1 L982.2,351.1 L980.0,352.2 L977.1,353.6 L974.2,355.0 L971.2,356.5 L968.2,358.1 L965.2,359.7 L962.1,361.3 L959.0,362.9 L955.9,364.6 L952.7,366.4 L949.6,368.1 L946.4,369.8 L943.1,371.6 L939.9,373.4 L936.6,375.2 L933.3,376.9 L930.0,378.7 L926.7,380.4 L923.4,382.2 L920.1,383.9 L916.8,385.6 L913.5,387.3 L910.2,388.9 L906.9,390.5 L903.5,392.0 L900.1,393.6 L896.7,395.1 L893.3,396.6 L889.8,398.1 L886.3,399.6 L882.8,401.1 L879.3,402.6 L875.8,404.1 L872.3,405.5 L868.8,406.9 L865.2,408.4 L861.7,409.8 L858.1,411.2 L854.6,412.6 L851.0,414.0 L847.4,415.3 L843.8,416.7 L840.3,418.0 L836.7,419.4 L833.1,420.7 L829.5,422.0 L826.0,423.3 L822.4,424.6 L818.8,425.9 L815.3,427.2 L811.7,428.4 L808.2,429.6 L804.6,430.8 L801.1,432.0 L797.5,433.2 L793.9,434.4 L790.4,435.5 L786.8,436.7 L783.2,437.8 L779.6,438.9 L776.1,440.0 L772.5,441.1 L768.9,442.3 L765.3,443.4 L761.7,444.5 L758.1,445.6 L754.6,446.7 L751.0,447.8 L747.4,448.9 L745.8,449.4"/>
<path d="M1029.9,330.2 L1028.7,330.7 L1027.6,331.3 L1026.4,331.8 L1025.2,332.3 L1024.0,332.9 L1022.9,333.4 L1021.7,333.9 L1020.5,334.4 L1019.3,334.9 L1018.1,335.4 L1016.9,335.9 L1015.7,336.4 L1014.6,337.0 L1013.4,337.5 L1012.2,338.1 L1011.1,338.6 L1009.9,339.2 L1008.8,339.8 L1007.7,340.4 L1006.6,341.0 L1005.5,341.6 L1004.4,342.3 L1003.4,343.0 L1002.4,343.7 L1001.4,344.4 L1000.4,345.2 L999.4,345.9 L998.4,346.7 L997.4,347.5 L996.4,348.3 L995.5,349.1 L994.5,349.9 L993.6,350.8 L992.6,351.6 L991.7,352.5 L990.8,353.4 L989.9,354.3 L989.1,355.2 L988.2,356.1 L987.3,357.0 L986.5,358.0 L985.7,358.9 L984.9,359.9 L984.1,360.9 L983.3,361.9 L982.6,362.9 L981.9,363.9 L981.2,364.9 L980.5,366.0 L979.8,367.1 L979.1,368.2 L978.5,369.4 L977.8,370.5 L977.2,371.7 L976.6,372.9 L976.0,374.2 L975.4,375.4 L974.9,376.7 L974.3,377.9 L973.8,379.2 L973.3,380.5 L972.8,381.7 L972.3,383.0 L971.9,384.3 L971.5,385.5 L971.0,386.8 L970.6,388.1 L970.2,389.3 L969.9,390.5 L969.5,391.7 L969.2,392.9 L968.9,394.1 L968.6,395.1 L968.4,396.1 L968.2,397.1 L968.0,398.1 L967.8,399.1 L967.6,400.0 L967.5,401.0 L967.3,401.9 L967.2,402.9 L967.1,403.8 L967.0,404.8 L966.9,405.8 L966.8,406.7 L966.7,407.7 L966.7,408.6 L966.6,409.6 L966.6,410.5 L966.5,411.5 L966.5,412.5 L966.4,413.4 L966.4,414.4 L966.4,415.4 L966.4,416.4 L966.4,417.4 L966.3,418.5 L966.4,419.6 L966.4,420.8 L966.5,421.9 L966.6,423.0 L966.7,424.2 L966.8,425.3 L966.9,426.5 L967.1,427.7 L967.2,428.8 L967.4,430.0 L967.5,431.2 L967.6,432.4 L967.8,433.5 L967.9,434.7 L968.1,435.9 L968.2,437.0 L968.3,438.2 L968.4,439.3 L968.4,440.5 L968.5,441.6 L968.5,442.7 L968.5,443.8 L968.5,444.9 L968.4,446.0 L968.4,447.0 L968.4,448.0 L968.3,449.0 L968.3,450.0 L968.2,450.9 L968.2,451.9 L968.1,452.9 L968.0,453.9 L968.0,454.8 L967.9,455.8 L967.8,456.8 L967.6,457.7 L967.5,458.7 L967.3,459.7 L967.1,460.6 L966.9,461.6 L966.7,462.5 L966.4,463.5 L966.1,464.4 L965.8,465.4 L965.5,466.3 L965.1,467.3 L964.7,468.2 L964.1,469.4 L963.5,470.6 L962.8,471.8 L962.0,473.0 L961.3,474.2 L960.4,475.5 L959.6,476.7 L958.7,477.9 L957.7,479.1 L956.8,480.3 L955.7,481.5 L954.7,482.7 L953.7,483.9 L952.6,485.1 L951.5,486.2 L950.4,487.4 L949.2,488.5 L948.1,489.6 L947.0,490.7 L945.8,491.8 L944.6,492.9 L943.5,493.9 L942.3,494.9 L941.2,495.9 L940.0,496.9 L938.8,497.8 L937.6,498.7 L936.4,499.7 L935.2,500.5 L933.9,501.4 L932.7,502.3 L931.4,503.1 L930.1,504.0 L928.8,504.8 L927.4,505.6 L926.1,506.3 L924.8,507.1 L923.4,507.9 L922.0,508.6 L920.7,509.4 L919.3,510.1 L917.9,510.8 L916.5,511.5 L915.1,512.2 L913.7,512.9 L912.3,513.6 L910.8,514.3 L909.4,514.9 L907.9,515.6 L906.4,516.3 L904.9,517.0 L903.3,517.6 L901.8,518.2 L900.2,518.8 L898.6,519.4 L897.0,520.0 L895.4,520.5 L893.8,521.1 L892.2,521.6 L890.5,522.1 L888.9,522.7 L887.3,523.2 L885.6,523.7 L884.0,524.2 L883.7,524.3"/>
<path d="M1056.9,330.0 L1057.4,332.9 L1058.0,336.0 L1058.6,339.1 L1059.1,342.2 L1059.7,345.3 L1060.2,348.4 L1060.8,351.6 L1061.3,354.7 L1061.9,357.8 L1062.4,360.9 L1063.0,364.0 L1063.4,366.2"/>
<path d="M1084.9,330.2 L1087.7,331.5 L1090.4,332.9 L1093.2,334.2 L1095.9,335.5 L1098.7,336.8 L1101.4,338.1 L1104.2,339.4 L1107.0,340.7 L1109.7,342.0 L1112.5,343.3 L1115.2,344.6 L1118.0,345.9 L1120.7,347.2 L1123.5,348.6 L1126.2,349.9 L1129.0,351.3 L1131.7,352.6 L1134.4,354.0 L1137.1,355.4 L1139.9,356.8 L1142.6,358.3 L1145.2,359.8 L1147.9,361.3 L1150.6,362.8 L1153.3,364.4 L1156.1,366.0 L1158.8,367.6 L1161.6,369.2 L1164.3,370.9 L1167.1,372.6 L1169.9,374.3 L1172.7,376.0 L1175.4,377.7 L1178.2,379.5 L1180.9,381.2 L1183.6,383.0 L1186.3,384.8 L1189.0,386.6 L1191.7,388.4 L1194.3,390.2 L1196.9,392.1 L1199.5,393.9 L1202.0,395.8 L1204.5,397.6 L1207.0,399.5 L1209.4,401.4 L1211.8,403.3 L1214.1,405.1 L1216.2,406.8 L1218.1,408.5 L1220.1,410.3 L1222.0,412.1 L1224.0,413.9 L1225.8,415.7 L1227.7,417.5 L1229.5,419.4 L1231.3,421.2 L1233.1,423.1 L1234.9,425.0 L1236.7,426.8 L1238.4,428.7 L1240.1,430.5 L1241.8,432.3 L1243.5,434.1 L1245.2,435.9 L1246.8,437.7 L1248.4,439.4 L1250.1,441.1 L1251.7,442.8 L1253.3,444.4 L1254.9,446.0 L1256.5,447.5 L1257.7,448.6 L1258.9,449.8 L1260.1,450.8 L1261.3,451.9 L1262.5,452.9 L1263.7,454.0 L1264.9,454.9 L1266.1,455.9 L1267.2,456.9 L1268.4,457.8 L1269.5,458.8 L1270.6,459.7 L1271.7,460.7 L1272.9,461.6 L1274.0,462.5 L1275.1,463.5 L1276.1,464.5 L1277.2,465.4 L1278.3,466.4 L1279.4,467.5 L1280.4,468.5 L1281.5,469.6 L1282.5,470.6 L1283.5,471.8 L1284.6,473.0 L1285.7,474.2 L1286.8,475.4 L1287.9,476.6 L1288.9,477.9 L1290.0,479.2 L1291.1,480.5 L1292.1,481.8 L1293.2,483.1 L1294.2,484.4 L1295.3,485.7 L1296.3,487.1 L1297.3,488.4 L1298.3,489.8 L1299.2,491.1 L1300.2,492.5 L1301.1,493.9 L1302.0,495.2 L1302.9,496.6 L1303.7,498.0 L1304.5,499.4 L1305.3,500.8 L1306.1,502.1 L1306.8,503.5 L1307.5,504.8 L1308.1,506.1 L1308.8,507.4 L1309.4,508.7 L1310.0,510.1 L1310.6,511.4 L1311.2,512.8 L1311.8,514.1 L1312.3,515.5 L1312.8,516.8 L1313.4,518.2 L1313.8,519.5 L1314.3,520.9 L1314.7,522.3 L1315.2,523.6 L1315.5,524.9 L1315.9,526.3 L1316.2,527.6 L1316.5,528.9 L1316.8,530.2 L1317.0,531.5 L1317.2,532.8 L1317.3,534.1 L1317.4,535.3 L1317.5,536.3 L1317.5,537.4 L1317.6,538.4 L1317.6,539.4 L1317.5,540.4 L1317.5,541.4 L1317.4,542.4 L1317.4,543.4 L1317.3,544.4 L1317.1,545.4 L1317.0,546.4 L1316.8,547.4 L1316.7,548.4 L1316.5,549.3 L1316.2,550.3 L1316.0,551.2 L1315.7,552.2 L1315.4,553.1 L1315.1,554.0 L1314.8,555.0 L1314.4,555.9 L1314.0,556.8 L1313.6,557.7 L1313.2,558.6 L1312.7,559.6 L1312.2,560.5 L1311.6,561.5 L1311.0,562.4 L1310.4,563.4 L1309.8,564.3 L1309.1,565.2 L1308.5,566.1 L1307.8,567.0 L1307.0,567.9 L1306.2,568.8 L1305.5,569.7 L1304.6,570.6 L1303.8,571.4 L1302.9,572.3 L1302.1,573.1 L1301.1,574.0 L1300.2,574.8 L1299.3,575.7 L1298.3,576.5 L1297.3,577.3 L1296.2,578.1 L1295.2,579.0 L1294.1,579.8 L1292.6,580.9 L1291.0,582.0 L1289.3,583.0 L1287.5,584.0 L1285.7,585.1 L1283.8,586.1 L1281.8,587.1 L1279.8,588.0 L1277.8,589.0 L1275.7,590.0 L1273.6,590.9 L1271.4,591.8 L1269.2,592.8 L1267.0,593.7 L1264.8,594.6 L1262.6,595.6 L1260.4,596.5 L1258.2,597.4 L1257.6,597.7"/>
<path d="M1099.8,330.2 L1102.8,331.4 L1105.8,332.7 L1108.8,333.9 L1111.8,335.2 L1114.9,336.4 L1117.9,337.6 L1121.0,338.9 L1124.0,340.1 L1127.1,341.3 L1130.1,342.5 L1133.1,343.8 L1136.2,345.0 L1139.2,346.2 L1142.2,347.5 L1145.2,348.7 L1148.2,350.0 L1151.2,351.3 L1154.2,352.6 L1157.2,353.9 L1160.1,355.2 L1163.1,356.5 L1166.0,357.9 L1168.9,359.3 L1171.8,360.7 L1174.6,362.0 L1177.3,363.4 L1180.1,364.8 L1182.9,366.2 L1185.7,367.5 L1188.5,368.9 L1191.3,370.4 L1194.0,371.8 L1196.8,373.2 L1199.6,374.6 L1202.3,376.1 L1205.0,377.6 L1207.7,379.0 L1210.4,380.5 L1213.0,382.1 L1215.7,383.6 L1218.2,385.1 L1220.8,386.7 L1223.3,388.3 L1225.8,389.9 L1228.2,391.6 L1230.6,393.2 L1233.0,394.9 L1235.3,396.7 L1237.4,398.2 L1239.4,399.9 L1241.3,401.5 L1243.2,403.2 L1245.1,404.8 L1247.0,406.6 L1248.8,408.3 L1250.6,410.0 L1252.4,411.8 L1254.2,413.6 L1255.9,415.3 L1257.6,417.1 L1259.3,418.9 L1261.0,420.8 L1262.7,422.6 L1264.4,424.4 L1266.0,426.2 L1267.7,428.1 L1269.3,429.9 L1271.0,431.7 L1272.7,433.6 L1274.3,435.4 L1276.0,437.2 L1277.7,439.0 L1279.3,440.8 L1280.9,442.6 L1282.6,444.3 L1284.2,446.1 L1285.8,447.9 L1287.4,449.7 L1289.1,451.5 L1290.7,453.3 L1292.3,455.1 L1293.9,456.9 L1295.4,458.7 L1297.0,460.5 L1298.6,462.3 L1300.1,464.1 L1301.7,466.0 L1303.2,467.8 L1304.8,469.6 L1306.3,471.4 L1307.8,473.2 L1309.3,475.1 L1310.9,476.9 L1312.3,478.7 L1313.8,480.5 L1315.3,482.4 L1316.7,484.1 L1318.1,485.9 L1319.5,487.6 L1321.0,489.3 L1322.4,491.1 L1323.8,492.8 L1325.2,494.6 L1326.6,496.3 L1328.0,498.1 L1329.3,499.8 L1330.7,501.6 L1332.1,503.3 L1333.4,505.1 L1334.7,506.8 L1336.1,508.6 L1337.4,510.4 L1338.6,512.2 L1339.9,513.9 L1341.2,515.7 L1342.4,517.5 L1343.6,519.3 L1344.8,521.1 L1345.9,522.9 L1347.1,524.7 L1348.1,526.4 L1349.2,528.2 L1350.2,529.9 L1351.2,531.7 L1352.1,533.4 L1353.1,535.2 L1354.0,537.0 L1355.0,538.8 L1355.9,540.6 L1356.8,542.3 L1357.6,544.1 L1358.5,545.9 L1359.4,547.7 L1360.2,549.5 L1361.1,551.3 L1361.9,553.1 L1362.7,554.8 L1363.5,556.6 L1364.3,558.4 L1365.1,560.1 L1365.9,561.9 L1366.7,563.6 L1367.5,565.4 L1368.3,567.1 L1368.9,568.6 L1369.6,570.1 L1370.3,571.7 L1371.0,573.2 L1371.6,574.7 L1372.2,576.2 L1372.9,577.7 L1373.5,579.2 L1374.1,580.7 L1374.7,582.2 L1375.3,583.7 L1375.9,585.2 L1376.5,586.7 L1377.1,588.2 L1377.7,589.7 L1378.1,590.7"/>
<path d="M1106.1,330.2 L1109.8,331.5 L1113.4,332.9 L1117.1,334.3 L1120.8,335.7 L1124.4,337.1 L1128.1,338.5 L1131.9,339.9 L1135.6,341.2 L1139.3,342.6 L1143.0,344.0 L1146.7,345.4 L1150.4,346.8 L1154.1,348.2 L1157.7,349.6 L1161.4,351.0 L1165.0,352.3 L1168.6,353.7 L1172.2,355.0 L1175.7,356.4 L1179.3,357.7 L1182.7,359.0 L1186.2,360.3 L1189.6,361.5 L1193.0,362.8 L1195.8,363.8 L1198.6,364.9 L1201.5,365.9 L1204.3,366.9 L1207.1,368.0 L1209.8,369.0 L1212.6,370.0 L1215.3,371.0 L1218.1,372.0 L1220.8,372.9 L1223.5,373.9 L1226.2,374.9 L1228.8,375.8 L1231.4,376.8 L1234.1,377.7 L1236.6,378.7 L1239.2,379.6 L1241.8,380.6 L1244.3,381.5 L1246.8,382.4 L1249.2,383.3 L1251.7,384.2 L1254.1,385.2 L1256.5,386.1 L1258.4,386.8 L1260.3,387.5 L1262.1,388.3 L1263.9,389.0 L1265.6,389.7 L1267.3,390.4 L1269.0,391.1 L1270.7,391.8 L1272.3,392.5 L1274.0,393.2 L1275.6,393.8 L1277.3,394.5 L1278.9,395.2 L1280.6,395.9 L1282.2,396.6 L1283.9,397.3 L1285.6,398.0 L1287.4,398.7 L1289.2,399.4 L1291.0,400.1 L1292.9,400.8 L1294.8,401.5 L1296.8,402.3 L1298.8,403.0 L1301.8,404.1 L1304.9,405.2 L1308.0,406.3 L1311.3,407.4 L1314.6,408.5 L1318.0,409.7 L1321.5,410.8 L1325.0,412.0 L1328.6,413.2 L1332.2,414.3 L1335.9,415.5 L1339.6,416.7 L1343.3,417.9 L1347.0,419.1 L1350.7,420.3 L1354.5,421.4 L1358.2,422.6 L1361.9,423.8 L1365.6,424.9 L1369.3,426.1 L1372.9,427.2 L1376.5,428.3 L1380.1,429.5 L1383.5,430.5 L1386.8,431.6 L1390.1,432.6 L1393.4,433.6 L1396.6,434.6 L1399.9,435.6 L1403.1,436.6 L1406.4,437.5 L1409.6,438.5 L1412.8,439.5 L1416.0,440.4 L1419.3,441.4 L1422.5,442.4 L1425.7,443.3 L1428.9,444.3 L1432.1,445.2 L1435.3,446.2 L1438.5,447.1 L1441.7,448.1 L1444.9,449.0 L1448.1,450.0 L1448.2,450.0"/>
<path d="M1116.7,330.2 L1119.4,330.7 L1122.0,331.2 L1124.6,331.7 L1127.3,332.1 L1129.9,332.6 L1132.5,333.1 L1135.2,333.6 L1137.8,334.1 L1140.5,334.6 L1143.1,335.1 L1145.7,335.5 L1148.4,336.0 L1151.0,336.5 L1153.6,337.0 L1156.3,337.5 L1158.9,338.0 L1161.6,338.5 L1164.2,339.0 L1166.8,339.6 L1169.5,340.1 L1172.1,340.6 L1174.7,341.1 L1177.4,341.7 L1180.0,342.2 L1182.6,342.8 L1185.3,343.4 L1187.9,344.0 L1190.6,344.6 L1193.2,345.2 L1195.9,345.8 L1198.5,346.4 L1201.2,347.0 L1203.8,347.6 L1206.5,348.3 L1209.1,348.9 L1211.8,349.5 L1214.4,350.2 L1217.1,350.8 L1219.7,351.5 L1222.4,352.1 L1225.0,352.7 L1227.6,353.4 L1230.3,354.0 L1232.9,354.6 L1235.6,355.2 L1238.2,355.9 L1240.9,356.5 L1243.5,357.1 L1246.2,357.7 L1248.9,358.3 L1251.5,358.9 L1254.2,359.5 L1256.9,360.1 L1259.7,360.7 L1262.4,361.3 L1265.1,361.9 L1267.8,362.5 L1270.6,363.1 L1273.3,363.7 L1276.0,364.3 L1278.7,364.8 L1281.4,365.4 L1284.0,366.0 L1286.7,366.6 L1289.3,367.1 L1292.0,367.7 L1294.5,368.2 L1297.1,368.8 L1299.6,369.3 L1302.2,369.8 L1304.6,370.3 L1307.1,370.8 L1309.1,371.2 L1311.1,371.6 L1313.0,372.0 L1315.0,372.4 L1316.9,372.8 L1318.8,373.1 L1320.7,373.5 L1322.5,373.9 L1324.4,374.2 L1326.2,374.6 L1328.1,374.9 L1329.9,375.2 L1331.7,375.6 L1333.5,375.9 L1335.4,376.2 L1337.2,376.6 L1338.7,376.9"/>
<path d="M1133.2,322.8 L1137.2,323.1 L1141.3,323.3 L1145.3,323.6 L1149.4,323.8 L1153.4,324.1 L1157.4,324.3 L1161.4,324.5 L1165.5,324.8 L1169.5,325.0 L1173.5,325.2 L1177.5,325.5 L1181.5,325.7 L1185.6,326.0 L1189.6,326.2 L1193.7,326.5 L1197.7,326.7 L1201.8,327.0 L1205.9,327.3 L1209.9,327.5 L1214.0,327.8 L1218.2,328.2 L1222.3,328.5 L1226.4,328.8 L1230.6,329.2 L1235.1,329.6 L1239.6,330.0 L1244.2,330.4 L1248.8,330.8 L1253.5,331.2 L1258.2,331.6 L1263.0,332.1 L1267.7,332.5 L1272.5,333.0 L1277.3,333.4 L1282.0,333.9 L1286.8,334.4 L1291.5,334.9 L1296.2,335.4 L1300.9,335.9 L1305.5,336.4 L1310.1,337.0 L1314.6,337.5 L1319.1,338.1 L1323.4,338.6 L1327.7,339.2 L1331.9,339.8 L1336.0,340.4 L1340.0,341.0 L1343.0,341.5 L1345.9,342.0 L1348.8,342.5 L1351.7,343.0 L1354.4,343.6 L1357.2,344.1 L1359.9,344.6 L1362.6,345.2 L1365.2,345.7 L1367.8,346.3 L1370.4,346.8 L1373.0,347.4 L1375.6,348.0 L1378.1,348.5 L1380.7,349.1 L1383.2,349.7 L1385.7,350.3 L1388.3,350.9 L1390.8,351.5 L1393.4,352.1 L1395.9,352.7 L1398.5,353.2 L1401.1,353.8 L1403.8,354.4 L1406.4,355.0 L1409.1,355.7 L1411.8,356.3 L1414.5,356.9 L1417.2,357.6 L1420.0,358.2 L1422.7,358.9 L1425.4,359.5 L1428.1,360.2 L1430.8,360.9 L1433.6,361.5 L1436.3,362.2 L1439.0,362.8 L1441.7,363.5 L1444.3,364.2 L1447.0,364.8 L1449.6,365.5 L1452.3,366.1 L1454.9,366.7 L1457.5,367.4 L1460.0,368.0 L1462.6,368.6 L1465.1,369.2 L1467.6,369.7 L1469.7,370.2 L1471.7,370.7 L1473.8,371.1 L1475.9,371.6 L1477.9,372.0 L1479.9,372.4 L1481.9,372.8 L1483.9,373.3 L1485.9,373.7 L1487.9,374.1 L1489.8,374.5 L1491.8,374.9 L1493.7,375.3 L1495.7,375.7 L1497.6,376.1 L1499.5,376.5 L1501.4,376.9 L1503.3,377.3 L1505.3,377.8 L1507.2,378.2 L1509.1,378.7 L1511.0,379.2 L1512.8,379.7 L1514.7,380.2 L1516.6,380.7 L1518.4,381.2 L1520.1,381.7 L1521.9,382.2 L1523.7,382.7 L1525.4,383.2 L1527.2,383.8 L1528.9,384.3 L1530.6,384.8 L1532.4,385.4 L1534.1,385.9 L1535.8,386.5 L1537.5,387.0 L1539.3,387.6 L1541.0,388.2 L1542.7,388.8 L1544.5,389.4 L1546.2,390.1 L1547.9,390.7 L1549.7,391.4 L1551.5,392.1 L1553.2,392.8 L1555.0,393.5 L1556.8,394.2 L1558.9,395.1 L1560.9,396.0 L1563.0,396.9 L1565.0,397.9 L1567.1,398.9 L1569.1,399.9 L1571.2,400.9 L1573.3,402.0 L1575.3,403.0 L1577.4,404.1 L1579.5,405.2 L1581.6,406.3 L1583.7,407.4 L1585.8,408.6 L1587.9,409.7 L1590.1,410.8 L1592.2,412.0 L1594.4,413.1 L1596.6,414.3 L1598.8,415.4 L1601.0,416.6 L1603.3,417.7 L1605.6,418.9 L1607.9,420.0 L1610.6,421.3 L1613.4,422.7 L1616.2,424.0 L1619.0,425.4 L1621.9,426.7 L1624.8,428.1 L1627.8,429.5 L1630.8,430.9 L1633.7,432.3 L1636.7,433.7 L1639.8,435.1 L1642.8,436.5 L1645.9,437.9 L1648.9,439.3 L1652.0,440.7 L1655.0,442.2 L1658.1,443.6 L1661.2,445.0 L1664.2,446.4 L1667.2,447.8"/>
<path d="M1133.2,321.3 L1138.1,321.8 L1143.1,322.3 L1148.1,322.8 L1153.1,323.3 L1158.2,323.8 L1163.2,324.3 L1168.3,324.8 L1173.4,325.3 L1178.4,325.8 L1183.5,326.3 L1188.5,326.9 L1193.6,327.4 L1198.6,327.9 L1203.6,328.3 L1208.6,328.8 L1213.5,329.3 L1218.5,329.7 L1223.3,330.2 L1228.2,330.6 L1233.0,331.0 L1237.8,331.4 L1242.5,331.7 L1247.2,332.1 L1251.8,332.4 L1255.7,332.6 L1259.6,332.8 L1263.4,333.0 L1267.2,333.2 L1271.0,333.3 L1274.7,333.4 L1278.4,333.6 L1282.1,333.7 L1285.8,333.8 L1289.4,333.8 L1293.0,333.9 L1296.7,334.0 L1300.3,334.1 L1303.9,334.1 L1307.4,334.2 L1311.0,334.3 L1314.6,334.4 L1318.2,334.5 L1321.8,334.6 L1325.4,334.7 L1329.0,334.8 L1332.7,335.0 L1336.3,335.1 L1340.0,335.3 L1343.7,335.5 L1347.4,335.7 L1351.1,335.9 L1354.8,336.2 L1358.5,336.4 L1362.2,336.7 L1365.8,336.9 L1369.5,337.2 L1373.2,337.4 L1376.9,337.7 L1380.6,338.0 L1384.2,338.3 L1387.9,338.6 L1391.6,338.8 L1395.3,339.1 L1399.1,339.4 L1402.8,339.7 L1406.5,340.0 L1410.3,340.3 L1414.1,340.6 L1417.8,340.9 L1421.6,341.1 L1425.5,341.4 L1429.3,341.7 L1433.4,342.0 L1437.5,342.3 L1441.7,342.5 L1445.9,342.8 L1450.0,343.1 L1454.2,343.4 L1458.5,343.7 L1462.7,344.0 L1466.9,344.3 L1471.2,344.6 L1475.4,344.9 L1479.7,345.2 L1484.0,345.4 L1488.2,345.7 L1492.5,346.0 L1496.8,346.3 L1501.1,346.6 L1505.4,346.9 L1509.7,347.2 L1514.1,347.5 L1518.4,347.8 L1522.7,348.1 L1527.0,348.4 L1531.3,348.7 L1535.7,349.0 L1540.1,349.3 L1544.4,349.6 L1548.6,349.9 L1552.8,350.2 L1557.0,350.5 L1561.1,350.8 L1565.3,351.1 L1569.5,351.4 L1573.6,351.7 L1577.8,352.0 L1582.1,352.3 L1586.4,352.6 L1590.7,352.9 L1595.1,353.2 L1599.6,353.6 L1604.2,353.9 L1609.0,354.2 L1613.8,354.6 L1618.7,354.9 L1623.8,355.2 L1629.0,355.6 L1634.4,356.0 L1640.0,356.4 L1649.8,357.0 L1660.5,357.7 L1671.9,358.5 L1683.9,359.3 L1696.6,360.1 L1709.7,361.0 L1723.3,361.9 L1737.2,362.8 L1751.4,363.7 L1765.7,364.6 L1780.1,365.6 L1794.6,366.5 L1809.0,367.4 L1823.2,368.4 L1837.3,369.3 L1851.0,370.1 L1864.3,371.0 L1877.2,371.8 L1889.5,372.6 L1901.2,373.3 L1912.1,374.0 L1922.3,374.6 L1931.6,375.2 L1940.0,375.7 L1943.5,375.9 L1946.8,376.1 L1950.0,376.3 L1953.0,376.4 L1955.9,376.6 L1958.7,376.8 L1961.3,376.9 L1963.9,377.0 L1966.3,377.2 L1968.7,377.3 L1971.1,377.4 L1973.4,377.5 L1975.7,377.6 L1977.9,377.7 L1980.2,377.9 L1982.5,378.0 L1984.8,378.1 L1987.2,378.2 L1989.6,378.4 L1992.1,378.5 L1994.7,378.7 L1997.4,378.8 L2000.2,379.0 L2003.1,379.2 L2007.1,379.4 L2011.3,379.7 L2015.5,380.0 L2019.8,380.3 L2024.2,380.6 L2028.7,380.9 L2033.2,381.2 L2037.8,381.5 L2042.5,381.8 L2047.2,382.2 L2051.9,382.5 L2056.7,382.8 L2061.5,383.2 L2066.3,383.5 L2071.2,383.9 L2076.0,384.2 L2080.8,384.6 L2085.7,384.9 L2090.5,385.3 L2095.3,385.6 L2100.1,386.0 L2100.9,386.0"/>
<path d="M690.2,404.8 L689.8,405.0 L689.4,405.1 L689.0,405.2 L688.7,405.3 L688.3,405.4 L688.0,405.5 L687.6,405.6 L687.3,405.7 L686.9,405.8 L686.6,406.0 L686.2,406.1 L685.9,406.2 L685.5,406.3 L685.1,406.4 L684.7,406.5 L684.3,406.7 L683.8,406.8 L683.4,406.9 L682.9,407.1 L682.4,407.3 L681.8,407.4 L681.3,407.6 L680.7,407.8 L680.0,408.0 L677.2,408.9 L674.0,409.9 L670.2,411.1 L666.0,412.5 L661.3,414.0 L656.3,415.6 L650.9,417.3 L645.2,419.1 L639.3,421.0 L633.1,423.0 L626.6,425.1 L620.1,427.2 L613.3,429.4 L606.5,431.6 L599.6,433.8 L592.6,436.0 L585.7,438.2 L578.8,440.5 L571.9,442.7 L565.2,444.8 L558.6,446.9 L552.7,448.8"/>
<path d="M721.6,404.7 L719.9,407.6 L718.0,410.7 L716.1,413.8 L714.2,416.9 L712.3,420.0 L710.4,423.1 L708.6,426.2 L706.7,429.3 L704.8,432.4 L702.9,435.6 L701.0,438.7 L699.1,441.8 L698.6,442.6"/>
<path d="M752.4,404.7 L757.7,407.6 L763.3,410.7 L769.0,413.8 L774.7,416.9 L780.3,420.0 L786.0,423.1 L791.7,426.2 L797.3,429.3 L803.0,432.4 L808.7,435.6 L814.3,438.7 L820.0,441.8 L825.7,444.9 L830.6,447.6"/>
<path d="M812.0,400.6 L817.4,401.1 L822.8,401.6 L828.2,402.1 L833.6,402.6 L839.0,403.1 L844.4,403.6 L849.9,404.1 L855.3,404.6 L860.7,405.1 L866.1,405.6 L871.5,406.1 L877.0,406.6 L882.4,407.1 L887.8,407.6 L893.2,408.2 L898.6,408.7 L903.9,409.2 L909.3,409.8 L914.7,410.3 L920.0,410.9 L925.3,411.5 L930.6,412.1 L935.9,412.7 L941.2,413.3 L946.2,413.9 L951.3,414.5 L956.3,415.2 L961.3,415.9 L966.4,416.5 L971.4,417.2 L976.3,417.9 L981.3,418.6 L986.3,419.4 L991.3,420.1 L996.2,420.8 L1001.2,421.6 L1006.1,422.3 L1011.0,423.0 L1015.9,423.8 L1020.9,424.5 L1025.8,425.3 L1030.7,426.0 L1035.6,426.7 L1040.5,427.4 L1045.4,428.2 L1050.2,428.9 L1055.1,429.6 L1060.0,430.2 L1064.7,430.9 L1069.4,431.5 L1074.2,432.2 L1078.9,432.8 L1083.6,433.4 L1088.3,434.0 L1092.9,434.6 L1097.6,435.2 L1102.3,435.8 L1107.0,436.4 L1111.6,437.0 L1116.3,437.6 L1121.0,438.2 L1125.6,438.8 L1130.3,439.4 L1134.9,440.0 L1139.5,440.7 L1144.1,441.3 L1148.8,442.0 L1153.4,442.6 L1158.0,443.3 L1162.6,444.0 L1167.2,444.7 L1171.8,445.4 L1176.2,446.1 L1180.7,446.8 L1185.2,447.6 L1189.6,448.3 L1194.0,449.1 L1198.5,449.8 L1202.9,450.6 L1207.3,451.4 L1211.7,452.2 L1216.1,453.0 L1220.5,453.8 L1224.9,454.6 L1229.3,455.5 L1233.7,456.3 L1238.1,457.1 L1242.5,457.9 L1246.9,458.7 L1251.3,459.6 L1255.7,460.4 L1260.1,461.2 L1264.4,462.0 L1268.8,462.8 L1273.3,463.6 L1277.7,464.4 L1282.1,465.2 L1286.5,466.0 L1291.0,466.8 L1295.5,467.6 L1300.0,468.4 L1304.5,469.2 L1309.0,469.9 L1313.5,470.7 L1318.0,471.5 L1322.6,472.3 L1327.1,473.1 L1331.6,473.9 L1336.0,474.6 L1340.5,475.4 L1345.0,476.2 L1349.4,477.0 L1353.8,477.8 L1358.1,478.6 L1362.5,479.4 L1366.8,480.2 L1371.0,481.0 L1375.3,481.8 L1379.4,482.7 L1383.5,483.5 L1387.1,484.2 L1390.6,485.0 L1394.1,485.7 L1397.6,486.5 L1401.0,487.2 L1404.4,488.0 L1407.8,488.7 L1411.1,489.5 L1414.5,490.3 L1417.8,491.1 L1421.1,491.8 L1424.4,492.6 L1427.6,493.4 L1430.9,494.2 L1434.2,494.9 L1437.4,495.7 L1440.7,496.4 L1443.9,497.2 L1447.2,497.9 L1450.4,498.6 L1453.7,499.3 L1457.0,500.1 L1460.3,500.7 L1463.5,501.4 L1466.8,502.1 L1470.0,502.7 L1473.2,503.3 L1476.4,503.9 L1479.7,504.5 L1482.9,505.1 L1486.1,505.7 L1489.3,506.3 L1492.5,506.9 L1495.8,507.4 L1499.0,508.0 L1502.2,508.6 L1505.4,509.1 L1508.6,509.7 L1511.8,510.2 L1514.9,510.8 L1518.1,511.3 L1521.3,511.9 L1524.4,512.4 L1527.6,513.0 L1530.7,513.5 L1533.8,514.1 L1536.9,514.6 L1540.0,515.2 L1542.9,515.7 L1545.7,516.2 L1548.6,516.7 L1551.4,517.3 L1554.3,517.8 L1557.1,518.3 L1559.9,518.8 L1562.7,519.3 L1565.5,519.8 L1568.2,520.3 L1571.0,520.8 L1573.8,521.4 L1576.6,521.9 L1579.3,522.4 L1582.1,522.9 L1584.8,523.4 L1587.6,523.9 L1590.4,524.4 L1593.1,524.9 L1593.9,525.1"/>
<path d="M1075.0,404.7 L1076.6,407.6 L1078.3,410.7 L1080.1,413.8 L1081.8,416.9 L1083.5,420.0 L1085.2,423.1 L1086.9,426.2 L1088.7,429.3 L1090.4,432.4 L1092.1,435.6 L1093.8,438.7 L1095.6,441.8 L1095.9,442.3"/>
<path d="M1430.5,404.7 L1434.4,407.6 L1438.7,410.7 L1442.9,413.8 L1447.1,416.9 L1451.3,420.0 L1455.6,423.1 L1459.8,426.2 L1464.0,429.3 L1468.2,432.4 L1472.4,435.6 L1476.7,438.7 L1480.9,441.8 L1485.1,444.9 L1486.7,446.1"/>
<path d="M99.5,479.6 L97.6,480.5 L95.6,481.4 L93.6,482.3 L91.5,483.1 L89.5,483.9 L87.4,484.8 L85.4,485.6 L83.3,486.5 L81.2,487.3 L79.2,488.1 L77.1,489.0 L75.1,489.8 L73.0,490.7 L71.0,491.5 L69.0,492.4 L67.1,493.3 L65.1,494.2 L63.3,495.1 L61.4,496.0 L59.6,496.9 L57.9,497.9 L56.2,498.8 L54.5,499.8 L52.9,500.8 L51.7,501.6 L50.5,502.4 L49.3,503.3 L48.2,504.1 L47.0,504.9 L45.8,505.8 L44.7,506.6 L43.6,507.5 L42.5,508.3 L41.4,509.2 L40.3,510.1 L39.3,511.0 L38.3,511.8 L37.3,512.7 L36.4,513.6 L35.5,514.5 L34.6,515.5 L33.8,516.4 L33.0,517.3 L32.2,518.2 L31.5,519.2 L30.9,520.1 L30.2,521.1 L29.6,522.0 L29.2,522.8 L28.8,523.5 L28.4,524.3 L28.0,525.1 L27.7,525.9 L27.3,526.6 L27.0,527.4 L26.7,528.2 L26.4,529.0 L26.1,529.8 L25.9,530.7 L25.7,531.5 L25.5,532.3 L25.3,533.1 L25.2,533.9 L25.1,534.7 L25.0,535.5 L25.0,536.3 L25.0,537.1 L25.0,537.9 L25.0,538.7 L25.1,539.5 L25.3,540.3 L25.4,541.1 L25.7,542.0 L25.9,542.9 L26.3,543.8 L26.7,544.7 L27.1,545.6 L27.6,546.5 L28.2,547.4 L28.7,548.3 L29.4,549.2 L30.0,550.1 L30.7,551.0 L31.5,551.9 L32.2,552.8 L33.0,553.6 L33.9,554.5 L34.7,555.4 L35.6,556.3 L36.5,557.1 L37.4,558.0 L38.4,558.8 L39.4,559.7 L40.3,560.6 L41.3,561.4 L42.4,562.2 L43.9,563.5 L45.6,564.7 L47.3,565.9 L49.1,567.2 L51.0,568.4 L52.9,569.6 L54.9,570.8 L57.0,572.0 L59.1,573.1 L61.3,574.3 L63.5,575.5 L65.8,576.6 L68.1,577.8 L70.5,578.9 L72.9,580.0 L75.3,581.2 L77.8,582.3 L80.2,583.4 L82.7,584.5 L85.2,585.5 L87.7,586.6 L90.3,587.7 L92.8,588.7 L95.3,589.8 L98.4,591.0 L101.5,592.2 L104.6,593.4 L107.8,594.6 L111.0,595.8 L114.3,596.9 L117.6,598.0 L120.9,599.1 L124.2,600.2 L127.6,601.3 L131.1,602.4 L134.5,603.4 L138.1,604.5 L141.6,605.5 L145.2,606.6 L148.9,607.6 L152.6,608.6 L156.4,609.7 L160.2,610.7 L164.0,611.8 L167.9,612.8 L171.9,613.9 L175.9,615.0 L180.0,616.0 L185.6,617.5 L191.4,619.0 L197.4,620.5 L203.4,622.0 L209.6,623.5 L216.0,624.9 L222.4,626.4 L228.9,627.9 L235.5,629.4 L242.2,630.9 L248.9,632.4 L255.8,633.9 L262.6,635.4 L269.5,636.9 L276.5,638.3 L283.4,639.8 L290.4,641.2 L297.3,642.7 L304.3,644.1 L311.2,645.5 L318.1,646.9 L325.0,648.3 L331.8,649.7 L338.6,651.0 L345.4,652.4 L352.3,653.8 L359.1,655.2 L365.9,656.5 L372.6,657.9 L379.3,659.2 L386.1,660.6 L392.8,661.9 L399.5,663.2 L406.3,664.5 L413.0,665.8 L419.9,667.1 L426.7,668.4 L433.6,669.6 L440.6,670.9 L447.7,672.1 L454.8,673.3 L462.1,674.5 L469.4,675.7 L476.8,676.9 L484.4,678.1 L492.1,679.2 L499.9,680.4 L507.8,681.5 L518.5,682.9 L529.4,684.3 L540.7,685.7 L552.1,687.0 L563.8,688.3 L575.7,689.6 L587.8,690.9 L600.1,692.1 L612.5,693.3 L625.0,694.5 L637.6,695.6 L650.3,696.8 L663.0,697.9 L675.8,699.0 L688.5,700.1 L701.3,701.3 L714.0,702.4 L726.6,703.5 L739.2,704.6 L751.7,705.7 L764.0,706.8 L776.2,708.0 L788.2,709.1 L800.0,710.3 L810.8,711.4 L821.7,712.5 L832.5,713.5 L843.2,714.6 L854.0,715.7 L864.7,716.8 L875.4,717.9 L886.0,719.0 L896.6,720.1 L907.2,721.2 L917.8,722.3 L928.3,723.4 L938.7,724.4 L949.2,725.5 L959.5,726.6 L969.9,727.6 L980.2,728.7 L990.4,729.7 L1000.6,730.7 L1010.8,731.7 L1020.9,732.7 L1030.9,733.7 L1040.9,734.7 L1050.8,735.7 L1059.8,736.5 L1068.8,737.4 L1077.8,738.3 L1086.8,739.1 L1095.8,740.0 L1104.9,740.8 L1113.9,741.7 L1122.9,742.5 L1131.8,743.3 L1140.8,744.2 L1149.6,745.0 L1158.4,745.8 L1167.1,746.6 L1175.7,747.4 L1184.2,748.1 L1192.6,748.9 L1200.8,749.6 L1208.9,750.3 L1216.9,751.1 L1224.7,751.7 L1232.3,752.4 L1239.7,753.1 L1247.0,753.7 L1254.0,754.3 L1258.7,754.7 L1263.3,755.1 L1267.8,755.5 L1272.2,755.8 L1276.5,756.2 L1280.7,756.5 L1284.8,756.9 L1288.9,757.2 L1292.9,757.5 L1296.8,757.8 L1300.7,758.1 L1304.6,758.4 L1308.4,758.7 L1312.2,759.0 L1316.0,759.3 L1319.8,759.6 L1323.6,759.9 L1327.4,760.2 L1331.2,760.5 L1335.1,760.8 L1337.5,761.0"/>
<path d="M132.1,479.3 L130.9,482.2 L129.7,485.3 L128.4,488.4 L127.1,491.6 L125.8,494.7 L124.6,497.8 L123.3,500.9 L122.0,504.0 L120.7,507.1 L119.4,510.2 L118.2,513.3 L116.9,516.3"/>
<path d="M211.6,478.5 L214.7,478.8 L217.7,479.1 L220.7,479.4 L223.6,479.7 L226.6,480.1 L229.6,480.4 L232.5,480.7 L235.5,481.1 L238.4,481.4 L241.4,481.7 L244.3,482.1 L247.3,482.4 L250.3,482.7 L253.3,483.0 L256.3,483.4 L259.3,483.7 L262.3,484.0 L265.4,484.3 L268.5,484.6 L271.7,484.8 L274.9,485.1 L278.1,485.4 L281.3,485.6 L284.6,485.9 L288.7,486.1 L292.8,486.4 L296.9,486.7 L301.1,486.9 L305.4,487.1 L309.7,487.4 L314.0,487.6 L318.4,487.8 L322.9,488.0 L327.3,488.2 L331.8,488.4 L336.3,488.5 L340.8,488.7 L345.3,488.9 L349.9,489.0 L354.4,489.2 L359.0,489.3 L363.5,489.4 L368.1,489.6 L372.6,489.7 L377.1,489.8 L381.6,489.9 L386.0,490.0 L390.4,490.1 L394.8,490.2 L399.1,490.3 L403.4,490.3 L407.7,490.4 L411.9,490.4 L416.1,490.5 L420.3,490.5 L424.4,490.5 L428.6,490.5 L432.8,490.5 L437.0,490.5 L441.2,490.5 L445.4,490.5 L449.7,490.5 L454.0,490.5 L458.4,490.5 L462.9,490.5 L467.4,490.5 L471.9,490.5 L476.6,490.5 L481.4,490.5 L486.2,490.5 L491.2,490.5 L496.2,490.5 L503.5,490.5 L511.0,490.6 L518.7,490.6 L526.7,490.6 L534.8,490.6 L543.2,490.6 L551.6,490.6 L560.2,490.6 L569.0,490.6 L577.8,490.7 L586.7,490.7 L595.7,490.7 L604.6,490.7 L613.7,490.7 L622.6,490.7 L631.6,490.8 L640.5,490.8 L649.4,490.8 L658.2,490.9 L666.8,490.9 L675.4,491.0 L683.7,491.0 L692.0,491.1 L700.0,491.2 L706.9,491.2 L713.9,491.3 L720.8,491.4 L727.6,491.5 L734.5,491.6 L741.3,491.7 L748.1,491.8 L754.9,491.9 L761.6,492.1 L768.3,492.2 L774.9,492.3 L781.5,492.4 L788.1,492.6 L794.6,492.7 L801.1,492.8 L807.5,492.9 L813.8,493.1 L820.1,493.2 L826.3,493.3 L832.5,493.4 L838.6,493.5 L844.6,493.6 L850.6,493.7 L856.5,493.8 L861.2,493.8 L865.8,493.9 L870.3,493.9 L874.8,494.0 L879.1,494.0 L883.4,494.0 L887.7,494.1 L891.9,494.1 L896.1,494.1 L900.2,494.1 L904.3,494.1 L908.4,494.2 L912.5,494.2 L916.6,494.2 L920.8,494.2 L924.9,494.3 L929.1,494.3 L933.3,494.4 L937.6,494.4 L941.9,494.5 L946.3,494.6 L950.8,494.6 L955.4,494.7 L960.0,494.8 L965.7,495.0 L971.6,495.1 L977.5,495.2 L983.7,495.4 L989.9,495.5 L996.2,495.7 L1002.5,495.8 L1009.0,496.0 L1015.5,496.2 L1022.0,496.4 L1028.5,496.6 L1035.1,496.8 L1041.6,497.0 L1048.1,497.2 L1054.5,497.4 L1060.9,497.7 L1067.2,498.0 L1073.5,498.2 L1079.6,498.5 L1085.6,498.8 L1091.5,499.1 L1097.3,499.4 L1102.8,499.8 L1108.2,500.1 L1112.2,500.4 L1116.1,500.7 L1120.0,501.0 L1123.7,501.2 L1127.4,501.5 L1131.1,501.8 L1134.7,502.2 L1138.3,502.5 L1141.8,502.8 L1145.2,503.1 L1148.7,503.4 L1152.1,503.8 L1155.5,504.1 L1158.9,504.5 L1162.3,504.9 L1165.6,505.2 L1169.0,505.6 L1172.4,506.0 L1175.7,506.4 L1179.1,506.8 L1182.5,507.3 L1186.0,507.7 L1189.4,508.1 L1193.0,508.6 L1196.5,509.1 L1200.0,509.5 L1203.5,510.0 L1207.0,510.4 L1210.5,510.9 L1214.0,511.3 L1217.4,511.8 L1220.9,512.3 L1224.4,512.8 L1227.9,513.3 L1231.3,513.8 L1234.8,514.3 L1238.3,514.9 L1241.8,515.4 L1245.3,516.0 L1248.8,516.6 L1252.4,517.2 L1255.9,517.9 L1259.5,518.5 L1263.1,519.2 L1266.7,520.0 L1270.3,520.7 L1274.0,521.5 L1277.7,522.4 L1281.9,523.3 L1286.2,524.4 L1290.5,525.5 L1294.9,526.6 L1299.4,527.8 L1303.8,529.0 L1308.4,530.2 L1312.9,531.5 L1317.4,532.8 L1322.0,534.1 L1326.6,535.5 L1331.1,536.8 L1335.7,538.2 L1340.2,539.6 L1344.8,541.1 L1349.3,542.5 L1353.7,544.0 L1358.2,545.4 L1362.5,546.9 L1366.9,548.3 L1371.1,549.8 L1375.4,551.2 L1379.5,552.7 L1383.5,554.1 L1387.0,555.4 L1390.5,556.6 L1393.9,557.9 L1397.3,559.1 L1400.8,560.4 L1404.1,561.6 L1407.5,562.9 L1410.9,564.1 L1414.2,565.4 L1417.5,566.7 L1420.7,568.0 L1424.0,569.3 L1427.2,570.6 L1430.3,571.9 L1433.5,573.3 L1436.6,574.6 L1439.7,576.0 L1442.7,577.3 L1445.7,578.7 L1448.6,580.1 L1451.5,581.5 L1454.4,583.0 L1457.2,584.4 L1460.0,585.9 L1462.3,587.1 L1464.5,588.4 L1466.6,589.6 L1468.7,590.9 L1470.8,592.2 L1472.9,593.4 L1474.9,594.7 L1476.8,596.0 L1478.8,597.3 L1480.7,598.6 L1482.6,600.0 L1484.5,601.3 L1486.4,602.6 L1488.3,604.0 L1490.2,605.4 L1492.0,606.7 L1493.9,608.1 L1495.8,609.5 L1497.8,610.9 L1499.7,612.3 L1501.7,613.7 L1503.7,615.1 L1505.7,616.6 L1507.8,618.0 L1510.1,619.6 L1512.5,621.3 L1514.9,623.0 L1517.3,624.7 L1519.7,626.4 L1522.1,628.1 L1524.6,629.8 L1527.0,631.5 L1529.5,633.3 L1532.0,635.1 L1534.4,636.8 L1536.9,638.6 L1539.4,640.4 L1541.9,642.2 L1544.4,644.0 L1547.0,645.8 L1549.5,647.6 L1552.0,649.4 L1554.5,651.3 L1557.0,653.1 L1559.5,654.9 L1562.0,656.7 L1564.6,658.5 L1567.1,660.4 L1569.7,662.2 L1572.3,664.2 L1574.9,666.1 L1577.5,668.0 L1580.1,669.9 L1582.6,671.9 L1585.2,673.8 L1587.8,675.8 L1590.4,677.8 L1593.0,679.7 L1595.6,681.7 L1598.3,683.7 L1600.9,685.7 L1603.5,687.6 L1606.2,689.6 L1608.8,691.6 L1611.5,693.5 L1614.2,695.5 L1616.9,697.4 L1619.6,699.3 L1622.3,701.3 L1625.0,703.2 L1627.8,705.1 L1630.6,706.9 L1633.6,708.9 L1636.6,710.9 L1639.6,712.8 L1642.6,714.8 L1645.7,716.7 L1648.8,718.6 L1651.9,720.5 L1655.0,722.5 L1658.1,724.4 L1661.2,726.3 L1664.4,728.2 L1667.5,730.0 L1670.7,731.9 L1673.9,733.8 L1677.1,735.7 L1680.2,737.6 L1683.4,739.5 L1686.6,741.3 L1689.8,743.2 L1692.9,745.1 L1694.1,745.8"/>
<path d="M288.0,479.6 L286.1,480.9 L284.2,482.1 L282.3,483.3 L280.3,484.5 L278.3,485.7 L276.3,487.0 L274.3,488.2 L272.3,489.4 L270.2,490.6 L268.2,491.8 L266.2,493.0 L264.2,494.2 L262.2,495.4 L260.3,496.6 L258.4,497.8 L256.5,499.1 L254.7,500.3 L252.9,501.6 L251.2,502.8 L249.5,504.1 L247.9,505.4 L246.4,506.7 L244.9,508.0 L243.5,509.3 L242.5,510.3 L241.5,511.3 L240.6,512.4 L239.6,513.4 L238.6,514.4 L237.7,515.5 L236.8,516.5 L235.9,517.6 L235.0,518.7 L234.1,519.7 L233.3,520.8 L232.5,521.9 L231.8,523.0 L231.1,524.0 L230.4,525.1 L229.8,526.2 L229.2,527.3 L228.6,528.3 L228.2,529.4 L227.7,530.5 L227.4,531.5 L227.0,532.6 L226.8,533.7 L226.6,534.7 L226.5,535.6 L226.4,536.5 L226.4,537.4 L226.4,538.3 L226.4,539.2 L226.5,540.2 L226.6,541.1 L226.7,542.0 L226.9,542.9 L227.1,543.8 L227.3,544.8 L227.6,545.7 L227.9,546.6 L228.2,547.5 L228.6,548.4 L229.0,549.3 L229.4,550.1 L229.8,551.0 L230.3,551.8 L230.8,552.7 L231.3,553.5 L231.8,554.3 L232.4,555.1 L233.0,555.9 L233.8,556.9 L234.6,557.8 L235.6,558.8 L236.6,559.7 L237.7,560.6 L238.9,561.4 L240.1,562.3 L241.3,563.1 L242.6,564.0 L244.0,564.8 L245.4,565.6 L246.8,566.3 L248.2,567.1 L249.7,567.9 L251.2,568.6 L252.7,569.3 L254.2,570.1 L255.7,570.8 L257.2,571.5 L258.7,572.2 L260.3,572.9 L261.8,573.6 L263.3,574.3 L264.7,574.9 L266.3,575.7 L268.0,576.4 L269.6,577.1 L271.3,577.8 L272.9,578.5 L274.6,579.2 L276.3,579.8 L278.1,580.5 L279.8,581.1 L281.5,581.7 L283.3,582.3 L285.1,582.9 L286.9,583.5 L288.7,584.1 L290.5,584.7 L292.3,585.3 L294.1,585.8 L295.9,586.4 L297.8,587.0 L299.6,587.5 L301.5,588.1 L303.3,588.7 L305.2,589.2 L307.1,589.8 L309.2,590.4 L311.3,591.0 L313.4,591.6 L315.5,592.2 L317.7,592.7 L319.8,593.3 L322.0,593.9 L324.2,594.4 L326.4,595.0 L328.7,595.5 L330.9,596.1 L333.1,596.6 L335.4,597.1 L337.6,597.7 L339.9,598.2 L342.1,598.7 L344.4,599.2 L346.6,599.8 L347.0,599.9"/>
<path d="M316.0,479.3 L316.0,482.2 L316.0,485.3 L316.0,488.4 L316.0,491.6 L316.0,494.7 L316.0,497.8 L316.0,500.9 L316.0,504.0 L316.0,507.1 L316.0,510.2 L316.0,513.3 L316.0,515.3"/>
<path d="M336.7,479.6 L341.2,482.0 L345.7,484.3 L350.2,486.7 L354.8,489.2 L359.4,491.6 L364.0,494.1 L368.6,496.6 L373.2,499.1 L377.9,501.6 L382.5,504.1 L387.1,506.6 L391.7,509.1 L396.2,511.5 L400.8,513.9 L405.3,516.3 L409.8,518.6 L414.2,520.9 L418.6,523.1 L422.9,525.2 L427.2,527.3 L431.4,529.3 L435.5,531.2 L439.6,533.0 L443.5,534.7 L446.4,535.9 L449.3,537.1 L452.1,538.2 L454.8,539.3 L457.5,540.4 L460.1,541.4 L462.8,542.4 L465.3,543.3 L467.9,544.2 L470.5,545.1 L473.0,546.0 L475.5,546.8 L478.0,547.7 L480.5,548.5 L483.1,549.3 L485.6,550.0 L488.2,550.8 L490.8,551.5 L493.4,552.3 L496.0,553.0 L498.7,553.7 L501.4,554.4 L504.2,555.2 L507.1,555.9 L510.3,556.7 L513.6,557.5 L516.9,558.2 L520.3,559.0 L523.7,559.7 L527.1,560.4 L530.5,561.0 L533.9,561.7 L537.4,562.3 L540.9,562.9 L544.4,563.5 L548.0,564.1 L551.5,564.7 L555.1,565.3 L558.7,565.8 L562.3,566.4 L565.9,566.9 L569.6,567.5 L573.3,568.0 L576.9,568.5 L580.6,569.1 L584.3,569.6 L588.0,570.2 L591.8,570.7 L596.0,571.3 L600.2,571.9 L604.4,572.5 L608.7,573.1 L613.0,573.7 L617.4,574.2 L621.8,574.8 L626.2,575.3 L630.6,575.9 L635.0,576.4 L639.5,576.9 L644.0,577.4 L648.4,578.0 L652.9,578.5 L657.4,579.0 L661.9,579.5 L666.4,580.0 L670.9,580.5 L675.4,581.0 L679.9,581.5 L684.3,582.0 L688.8,582.4 L693.2,582.9 L697.7,583.4 L702.1,583.9 L706.5,584.4 L711.0,584.9 L715.5,585.4 L720.0,585.9 L724.5,586.4 L729.1,586.8 L733.6,587.3 L738.1,587.8 L742.6,588.3 L747.2,588.8 L751.7,589.2 L756.2,589.7 L760.6,590.1 L765.1,590.6 L769.5,591.0 L773.9,591.4 L778.3,591.8 L782.6,592.2 L786.9,592.6 L791.1,593.0 L795.3,593.3 L799.5,593.7 L803.5,594.0 L807.0,594.3 L810.3,594.5 L813.7,594.7 L817.0,595.0 L820.2,595.2 L823.5,595.4 L826.7,595.6 L829.9,595.7 L833.0,595.9 L836.2,596.1 L839.3,596.2 L842.4,596.4 L845.5,596.5 L848.6,596.7 L851.7,596.8 L854.8,597.0 L857.9,597.1 L861.1,597.3 L864.2,597.4 L867.3,597.6 L870.4,597.7 L873.6,597.9 L876.8,598.1 L880.0,598.2 L883.3,598.4 L886.5,598.6 L889.8,598.8 L893.0,599.0 L896.1,599.1 L899.3,599.3 L902.5,599.5 L905.7,599.7 L908.8,599.8 L912.0,600.0 L915.2,600.2 L918.4,600.4 L921.7,600.6 L924.9,600.8 L928.2,600.9 L931.5,601.1 L934.9,601.3 L938.3,601.5 L941.8,601.7 L945.3,601.9 L948.9,602.2 L952.5,602.4 L956.2,602.6 L960.0,602.8 L965.2,603.2 L970.5,603.5 L976.0,603.8 L981.6,604.2 L987.3,604.6 L993.0,604.9 L998.9,605.3 L1004.9,605.7 L1010.9,606.1 L1017.0,606.5 L1023.2,606.9 L1029.4,607.4 L1035.6,607.8 L1041.9,608.2 L1048.2,608.6 L1054.4,609.0 L1060.7,609.5 L1067.0,609.9 L1073.3,610.3 L1079.5,610.7 L1085.7,611.1 L1090.7,611.5"/>
<path d="M364.0,479.3 L374.9,482.2 L386.7,485.3 L398.4,488.4 L410.2,491.6 L422.0,494.7 L433.8,497.8 L445.6,500.9 L457.3,504.0 L469.1,507.1 L480.9,510.2 L492.7,513.3 L504.4,516.4 L516.2,519.6 L528.0,522.7 L537.8,525.3"/>
<path d="M395.7,478.9 L399.9,479.4 L404.1,479.9 L408.3,480.4 L412.4,481.0 L416.6,481.5 L420.8,482.0 L425.0,482.6 L429.1,483.1 L433.3,483.7 L437.5,484.2 L441.6,484.7 L445.8,485.3 L450.0,485.8 L454.2,486.3 L458.3,486.8 L462.5,487.4 L466.7,487.9 L470.9,488.4 L475.1,488.9 L479.3,489.3 L483.5,489.8 L487.8,490.3 L492.0,490.7 L496.2,491.2 L500.6,491.6 L505.0,492.0 L509.3,492.4 L513.7,492.8 L518.2,493.2 L522.6,493.6 L527.0,494.0 L531.4,494.4 L535.9,494.7 L540.3,495.1 L544.8,495.4 L549.2,495.8 L553.6,496.1 L558.1,496.4 L562.5,496.8 L567.0,497.1 L571.4,497.4 L575.8,497.7 L580.2,498.1 L584.6,498.4 L589.0,498.7 L593.3,499.0 L597.7,499.3 L602.0,499.6 L606.2,499.9 L610.5,500.2 L614.8,500.5 L619.2,500.8 L623.7,501.1 L628.1,501.4 L632.6,501.7 L637.1,501.9 L641.6,502.2 L646.0,502.5 L650.4,502.8 L654.8,503.0 L659.2,503.3 L663.4,503.6 L667.6,503.8 L671.7,504.1 L675.7,504.3 L679.6,504.6 L683.4,504.8 L687.0,505.1 L690.5,505.3 L693.9,505.5 L697.0,505.7 L700.0,506.0 L701.5,506.1 L703.0,506.2 L704.3,506.3 L705.6,506.4 L706.9,506.5 L708.0,506.6 L709.2,506.7 L710.2,506.8 L711.3,506.9 L712.3,507.0 L713.4,507.1 L714.4,507.2 L715.4,507.3 L716.4,507.4 L717.5,507.5 L718.6,507.6 L719.7,507.7 L720.9,507.8 L722.1,507.9 L723.4,508.0 L724.8,508.2 L726.2,508.3 L727.8,508.4 L729.4,508.6 L733.5,509.0 L738.0,509.4 L742.9,509.8 L748.2,510.3 L753.8,510.8 L759.8,511.3 L766.0,511.9 L772.5,512.5 L779.1,513.1 L785.9,513.7 L792.9,514.3 L799.9,515.0 L807.0,515.6 L814.0,516.3 L821.1,516.9 L828.1,517.6 L835.0,518.2 L841.8,518.9 L848.4,519.5 L854.8,520.1 L861.0,520.7 L866.9,521.3 L872.4,521.8 L877.7,522.4 L881.1,522.7 L884.4,523.1 L887.6,523.4 L890.8,523.7 L893.9,524.1 L897.0,524.4 L900.0,524.7 L902.9,525.1 L905.8,525.4 L908.6,525.7 L911.4,526.0 L914.2,526.4 L917.0,526.7 L919.7,527.0 L922.5,527.3 L925.2,527.6 L927.9,527.9 L930.7,528.3 L933.4,528.6 L934.3,528.7"/>
<path d="M395.7,478.5 L399.0,478.9 L402.3,479.3 L405.6,479.7 L408.9,480.1 L412.2,480.6 L415.5,481.0 L418.8,481.4 L422.1,481.9 L425.4,482.3 L428.6,482.8 L431.9,483.2 L435.2,483.6 L438.5,484.0 L441.8,484.5 L445.1,484.9 L448.4,485.3 L451.7,485.7 L455.0,486.1 L458.4,486.4 L461.7,486.8 L465.0,487.1 L468.4,487.4 L471.7,487.7 L475.1,488.0 L478.5,488.2 L481.9,488.5 L485.3,488.7 L488.7,488.9 L492.1,489.1 L495.5,489.3 L498.8,489.5 L502.2,489.6 L505.6,489.8 L508.9,489.9 L512.3,490.0 L515.7,490.1 L519.2,490.2 L522.6,490.3 L526.1,490.4 L529.6,490.5 L533.2,490.6 L536.8,490.7 L540.5,490.8 L544.2,490.8 L548.0,490.9 L551.8,491.0 L555.7,491.1 L559.7,491.2 L565.1,491.3 L570.8,491.3 L576.6,491.3 L582.5,491.3 L588.7,491.3 L594.9,491.3 L601.3,491.2 L607.7,491.2 L614.2,491.1 L620.8,491.0 L627.4,491.0 L634.0,490.9 L640.6,490.8 L647.2,490.8 L653.8,490.8 L660.3,490.7 L666.7,490.7 L673.1,490.8 L679.3,490.8 L685.4,490.9 L691.4,491.0 L697.2,491.2 L702.8,491.4 L708.2,491.7 L712.2,491.9 L716.2,492.1 L720.1,492.3 L723.9,492.6 L727.7,492.8 L731.4,493.1 L735.1,493.4 L738.7,493.7 L742.3,494.0 L745.9,494.4 L749.4,494.7 L752.9,495.0 L756.3,495.4 L759.8,495.8 L763.2,496.2 L766.5,496.6 L769.9,497.0 L773.2,497.4 L776.5,497.8 L779.8,498.3 L783.1,498.7 L786.4,499.2 L789.7,499.6 L793.0,500.1 L795.8,500.6 L798.7,501.0 L801.5,501.4 L804.4,501.9 L807.2,502.4 L810.1,502.8 L812.9,503.3 L815.7,503.8 L818.5,504.3 L821.3,504.8 L824.0,505.3 L826.8,505.8 L829.5,506.4 L832.1,506.9 L834.8,507.4 L837.4,508.0 L839.9,508.6 L842.4,509.1 L844.9,509.7 L847.3,510.3 L849.7,510.9 L852.0,511.6 L854.3,512.2 L856.5,512.8 L858.0,513.3 L859.6,513.8 L861.0,514.2 L862.5,514.7 L863.9,515.2 L865.3,515.6 L866.7,516.1 L868.0,516.6 L869.4,517.1 L870.7,517.6 L872.0,518.1 L873.2,518.6 L874.5,519.1 L875.7,519.6 L877.0,520.1 L878.2,520.7 L879.5,521.2 L880.7,521.8 L881.9,522.4 L883.2,523.0 L884.4,523.6 L885.7,524.2 L887.0,524.9 L888.3,525.5 L889.6,526.3 L891.0,527.1 L892.3,527.9 L893.6,528.7 L895.0,529.6 L896.3,530.5 L897.6,531.5 L898.9,532.4 L900.3,533.4 L901.6,534.4 L902.9,535.3 L904.2,536.3 L905.5,537.3 L906.8,538.3 L908.1,539.2 L909.4,540.2 L910.7,541.1 L912.1,542.0 L913.4,542.9 L914.7,543.7 L916.0,544.5 L917.3,545.3 L918.7,546.0 L920.0,546.7 L921.2,547.3 L922.3,547.8 L923.5,548.3 L924.6,548.8 L925.6,549.3 L926.7,549.7 L927.7,550.2 L928.8,550.6 L929.8,551.0 L930.9,551.3 L931.9,551.7 L933.0,552.1 L934.1,552.4 L935.2,552.8 L936.4,553.1 L937.6,553.4 L938.9,553.8 L940.2,554.1 L941.5,554.4 L942.9,554.8 L944.4,555.1 L945.9,555.5 L947.6,555.9 L949.3,556.2 L953.6,557.1 L958.3,558.1 L963.3,559.0 L968.7,559.9 L974.4,560.8 L980.4,561.7 L986.7,562.5 L993.2,563.4 L1000.0,564.3 L1007.1,565.2 L1014.3,566.1 L1021.7,566.9 L1029.3,567.8 L1037.0,568.6 L1044.9,569.5 L1052.9,570.3 L1061.0,571.1 L1069.1,571.9 L1077.3,572.7 L1085.6,573.5 L1093.8,574.3 L1102.1,575.1 L1110.3,575.8 L1118.6,576.6 L1130.1,577.5 L1142.1,578.5 L1154.5,579.5 L1167.4,580.4 L1180.6,581.3 L1194.1,582.2 L1207.9,583.0 L1221.9,583.9 L1236.0,584.7 L1250.4,585.5 L1264.8,586.3 L1279.2,587.1 L1293.7,587.8 L1308.1,588.6 L1322.4,589.3 L1336.6,590.0 L1350.6,590.7 L1364.4,591.4 L1377.9,592.1 L1391.1,592.8 L1404.0,593.4 L1416.5,594.1 L1428.5,594.8 L1440.0,595.4 L1448.1,595.9 L1456.1,596.3 L1463.9,596.8 L1471.6,597.2 L1479.2,597.7 L1486.7,598.1 L1494.1,598.5 L1501.4,599.0 L1508.5,599.4 L1515.6,599.8 L1522.6,600.2 L1529.6,600.6 L1536.5,601.0 L1543.3,601.4 L1550.0,601.7 L1556.7,602.1 L1563.4,602.5 L1570.0,602.8 L1576.6,603.2 L1583.2,603.6 L1589.8,603.9 L1596.3,604.3 L1602.9,604.6 L1609.4,604.9 L1615.1,605.2 L1620.7,605.5 L1626.4,605.8 L1632.0,606.1 L1637.6,606.4 L1643.2,606.7 L1648.8,607.0 L1654.3,607.3 L1659.8,607.5 L1665.3,607.8 L1670.7,608.1 L1676.1,608.4 L1681.4,608.6 L1686.7,608.9 L1692.0,609.1 L1697.2,609.3 L1702.3,609.6 L1707.4,609.8 L1712.4,610.0 L1717.4,610.2 L1722.3,610.4 L1727.1,610.6 L1731.8,610.7 L1736.5,610.9 L1740.0,611.0 L1743.5,611.1 L1747.0,611.2 L1750.3,611.3 L1753.7,611.3 L1756.9,611.4 L1760.2,611.4 L1763.4,611.5 L1766.5,611.6 L1769.7,611.6 L1772.8,611.6 L1775.9,611.7 L1778.9,611.7 L1782.0,611.7 L1785.1,611.8 L1788.1,611.8 L1791.2,611.8 L1794.2,611.9 L1797.3,611.9 L1799.5,611.9"/>
<path d="M493.7,479.3 L490.7,485.3 L487.6,491.6 L484.4,497.8 L481.3,504.0 L478.2,510.2 L475.1,516.4 L472.0,522.7 L468.9,528.9 L465.8,535.1 L462.7,541.3 L459.6,547.6 L456.4,553.8 L453.3,560.0 L450.2,566.2 L447.1,572.4 L444.0,578.7 L440.9,584.9 L437.8,591.1 L437.6,591.4"/>
<path d="M669.5,479.3 L666.2,482.2 L662.7,485.3 L659.1,488.4 L655.6,491.6 L652.0,494.7 L648.4,497.8 L644.9,500.9 L641.3,504.0 L637.8,507.1 L634.2,510.2 L630.7,513.3 L627.1,516.4 L623.6,519.6 L623.2,519.9"/>
<path d="M742.6,479.3 L755.9,482.2 L770.3,485.3 L784.7,488.4 L799.1,491.6 L813.5,494.7 L827.9,497.8 L842.3,500.9 L856.7,504.0 L871.1,507.1 L885.4,510.2 L899.8,513.3 L914.2,516.4 L928.6,519.6 L943.0,522.7 L957.4,525.8 L957.7,525.8"/>
<path d="M925.3,479.3 L938.9,482.2 L953.7,485.3 L968.4,488.4 L983.1,491.6 L997.8,494.7 L1012.6,497.8 L1027.3,500.9 L1042.0,504.0 L1056.7,507.1 L1071.4,510.2 L1086.2,513.3 L1100.9,516.4 L1115.6,519.6 L1130.3,522.7 L1145.1,525.8 L1145.7,525.9"/>
<path d="M1491.1,480.2 L1489.8,480.9 L1488.5,481.6 L1487.3,482.3 L1486.0,483.0 L1484.8,483.7 L1483.5,484.4 L1482.3,485.1 L1481.0,485.7 L1479.8,486.4 L1478.6,487.1 L1477.3,487.8 L1476.1,488.5 L1474.8,489.1 L1473.6,489.8 L1472.3,490.5 L1471.0,491.2 L1469.7,492.0 L1468.4,492.7 L1467.0,493.4 L1465.7,494.2 L1464.3,495.0 L1462.9,495.7 L1461.5,496.5 L1460.0,497.4 L1458.0,498.5 L1455.9,499.7 L1453.8,500.9 L1451.6,502.2 L1449.4,503.5 L1447.1,504.8 L1444.8,506.2 L1442.5,507.6 L1440.1,509.0 L1437.8,510.4 L1435.4,511.8 L1433.0,513.3 L1430.5,514.7 L1428.1,516.1 L1425.7,517.5 L1423.3,518.9 L1420.9,520.3 L1418.5,521.7 L1416.1,523.0 L1413.8,524.3 L1411.5,525.6 L1409.2,526.8 L1406.9,528.0 L1404.7,529.1 L1402.9,530.1 L1401.1,531.0 L1399.3,531.9 L1397.5,532.8 L1395.8,533.7 L1394.1,534.6 L1392.4,535.4 L1390.7,536.3 L1389.0,537.1 L1387.3,537.9 L1385.6,538.7 L1383.9,539.5 L1382.2,540.3 L1380.5,541.1 L1378.8,541.8 L1377.1,542.6 L1375.3,543.3 L1373.6,544.0 L1371.8,544.7 L1370.0,545.4 L1368.1,546.1 L1366.2,546.8 L1364.3,547.5 L1362.4,548.2 L1360.0,549.0 L1357.7,549.7 L1355.3,550.5 L1352.9,551.2 L1350.5,551.9 L1348.0,552.6 L1345.6,553.2 L1343.1,553.9 L1340.6,554.5 L1338.1,555.1 L1335.5,555.8 L1332.9,556.4 L1330.3,556.9 L1327.7,557.5 L1325.0,558.1 L1322.2,558.6 L1319.5,559.2 L1316.7,559.8 L1313.8,560.3 L1310.9,560.8 L1308.0,561.4 L1305.0,561.9 L1301.9,562.5 L1298.8,563.0 L1294.4,563.8 L1289.9,564.5 L1285.3,565.2 L1280.6,565.9 L1275.8,566.6 L1271.0,567.2 L1266.0,567.9 L1261.0,568.5 L1255.9,569.2 L1250.7,569.8 L1245.4,570.4 L1240.1,571.0 L1234.7,571.6 L1229.3,572.1 L1223.8,572.7 L1218.2,573.3 L1212.6,573.9 L1206.9,574.4 L1201.1,575.0 L1195.4,575.6 L1189.5,576.1 L1183.6,576.7 L1177.7,577.3 L1171.8,577.8 L1164.0,578.6 L1156.0,579.3 L1147.8,580.1 L1139.4,580.8 L1130.9,581.6 L1122.2,582.3 L1113.5,583.1 L1104.6,583.8 L1095.6,584.5 L1086.5,585.3 L1077.4,586.0 L1068.2,586.7 L1059.0,587.4 L1049.8,588.1 L1040.5,588.8 L1031.3,589.5 L1022.2,590.1 L1013.0,590.8 L1003.9,591.4 L994.9,592.0 L986.0,592.6 L977.2,593.2 L968.5,593.8 L960.0,594.4 L952.3,594.9 L944.6,595.3 L937.1,595.8 L929.6,596.2 L922.3,596.7 L914.9,597.1 L907.7,597.5 L900.4,597.9 L893.2,598.3 L886.0,598.6 L878.9,599.0 L871.7,599.4 L864.4,599.7 L857.2,600.1 L849.9,600.4 L842.5,600.8 L835.1,601.1 L827.5,601.5 L819.9,601.8 L812.2,602.2 L804.4,602.5 L796.4,602.9 L788.3,603.3 L780.0,603.6 L769.4,604.1 L758.6,604.6 L747.6,605.1 L736.4,605.5 L725.0,606.0 L713.5,606.5 L701.9,606.9 L690.1,607.4 L678.2,607.9 L666.2,608.3 L654.2,608.8 L642.0,609.3 L629.8,609.7 L617.6,610.2 L605.3,610.6 L593.0,611.1 L580.8,611.6 L568.5,612.0 L556.3,612.5 L544.1,613.0 L531.9,613.4 L519.9,613.9 L509.3,614.3"/>
<path d="M1541.5,479.5 L1545.7,481.6 L1549.8,483.6 L1554.0,485.7 L1558.1,487.7 L1562.3,489.8 L1566.4,491.8 L1570.6,493.9 L1574.7,495.9 L1578.9,498.0 L1583.0,500.0 L1587.2,502.1 L1591.3,504.1 L1595.5,506.2 L1599.7,508.2 L1603.8,510.3 L1608.0,512.3 L1612.1,514.4 L1616.3,516.4 L1620.4,518.5 L1624.6,520.5 L1628.7,522.6 L1629.2,522.8"/>
<path d="M1523.5,479.5 L1528.6,485.4 L1533.8,491.4 L1539.1,497.6 L1544.5,503.8 L1550.0,510.2 L1555.5,516.7 L1561.1,523.1 L1566.6,529.7 L1572.2,536.2 L1577.7,542.7 L1583.3,549.1 L1588.7,555.5 L1594.1,561.8 L1599.4,567.9 L1604.7,574.0 L1609.8,579.8 L1614.7,585.5 L1619.5,591.0 L1624.2,596.2 L1628.7,601.2 L1632.9,605.9 L1637.0,610.2 L1640.8,614.3 L1644.4,618.0 L1646.0,619.6 L1647.6,621.2 L1649.0,622.7 L1650.5,624.1 L1651.9,625.4 L1653.2,626.7 L1654.5,627.9 L1655.8,629.1 L1657.0,630.2 L1658.3,631.3 L1659.4,632.4 L1660.6,633.4 L1661.8,634.5 L1663.0,635.5 L1664.1,636.5 L1665.3,637.5 L1666.4,638.5 L1667.6,639.5 L1668.8,640.5 L1670.0,641.5 L1671.2,642.6 L1672.5,643.7 L1673.8,644.8 L1675.1,646.0 L1676.6,647.3 L1678.0,648.6 L1679.5,649.9 L1681.0,651.2 L1682.6,652.6 L1684.1,653.9 L1685.6,655.2 L1687.2,656.6 L1688.7,657.9 L1690.2,659.2 L1691.8,660.6 L1693.4,661.9 L1694.9,663.3 L1696.5,664.6 L1698.1,666.0 L1699.6,667.3 L1701.2,668.7 L1702.0,669.4"/>
<path d="M1695.7,479.3 L1694.4,482.2 L1693.0,485.3 L1691.6,488.4 L1690.2,491.6 L1688.8,494.7 L1687.4,497.8 L1686.1,500.9 L1684.7,504.0 L1683.3,507.1 L1681.9,510.2 L1680.5,513.3 L1679.1,516.4 L1679.1,516.5"/>
<path d="M1718.7,480.1 L1720.2,481.6 L1721.6,483.1 L1723.1,484.6 L1724.7,486.1 L1726.2,487.6 L1727.8,489.1 L1729.3,490.6 L1730.9,492.1 L1732.5,493.6 L1734.0,495.1 L1735.6,496.5 L1737.1,498.0 L1738.7,499.5 L1740.2,501.1 L1741.6,502.6 L1743.1,504.1 L1744.5,505.7 L1745.8,507.3 L1747.1,508.9 L1748.3,510.5 L1749.5,512.2 L1750.6,513.8 L1751.6,515.6 L1752.6,517.3 L1753.4,519.0 L1754.3,520.8 L1755.0,522.5 L1755.7,524.3 L1756.4,526.1 L1757.0,527.9 L1757.6,529.8 L1758.2,531.6 L1758.7,533.5 L1759.2,535.4 L1759.6,537.3 L1760.0,539.2 L1760.4,541.1 L1760.7,543.1 L1761.0,545.0 L1761.3,547.0 L1761.6,549.0 L1761.8,551.0 L1762.0,553.0 L1762.2,555.0 L1762.4,557.0 L1762.5,559.0 L1762.6,561.0 L1762.7,563.0 L1762.8,565.3 L1762.9,567.6 L1762.9,569.9 L1762.9,572.2 L1762.8,574.6 L1762.7,576.9 L1762.6,579.3 L1762.4,581.7 L1762.2,584.2 L1761.9,586.6 L1761.7,589.0 L1761.4,591.5 L1761.0,593.9 L1760.7,596.4 L1760.3,598.8 L1759.9,601.3 L1759.5,603.7 L1759.0,606.1 L1758.6,608.6 L1758.1,611.0 L1757.6,613.4 L1757.1,615.8 L1756.5,618.2 L1756.0,620.6 L1755.4,623.0 L1754.8,625.4 L1754.1,627.8 L1753.4,630.2 L1752.6,632.5 L1751.8,634.9 L1751.0,637.3 L1750.2,639.7 L1749.3,642.0 L1748.5,644.4 L1747.6,646.8 L1746.7,649.1 L1745.7,651.5 L1744.8,653.8 L1743.9,656.2 L1742.9,658.6 L1742.0,660.9 L1741.1,663.3 L1740.4,665.0"/>
<path d="M160.9,554.2 L164.8,555.1 L168.7,556.1 L172.5,557.1 L176.4,558.0 L180.2,559.0 L184.0,559.9 L187.8,560.9 L191.6,561.8 L195.4,562.8 L199.2,563.7 L203.1,564.7 L206.9,565.6 L210.7,566.6 L214.5,567.5 L218.4,568.5 L222.3,569.4 L226.2,570.4 L230.1,571.3 L234.0,572.3 L238.0,573.2 L242.0,574.2 L246.0,575.1 L250.0,576.1 L254.1,577.1 L258.7,578.1 L263.4,579.2 L268.1,580.3 L272.8,581.4 L277.5,582.4 L282.3,583.5 L287.1,584.6 L292.0,585.7 L296.8,586.7 L301.7,587.8 L306.6,588.9 L311.5,590.0 L316.5,591.0 L321.4,592.1 L326.3,593.2 L331.3,594.3 L336.2,595.4 L341.2,596.4 L346.1,597.5 L351.0,598.6 L356.0,599.7 L357.6,600.0"/>
<path d="M334.5,554.0 L338.8,556.9 L343.3,560.0 L347.9,563.1 L352.4,566.2 L357.0,569.3 L361.6,572.4 L366.1,575.6 L370.7,578.7 L375.2,581.8 L379.8,584.9 L384.3,588.0 L388.9,591.1 L393.4,594.2 L395.8,595.8"/>
<path d="M728.7,554.0 L714.6,556.9 L699.3,560.0 L684.1,563.1 L668.9,566.2 L653.7,569.3 L638.4,572.4 L623.2,575.6 L608.0,578.7 L592.8,581.8 L577.6,584.9 L562.3,588.0 L547.1,591.1 L531.9,594.2 L516.7,597.3 L501.4,600.4 L500.4,600.7"/>
<path d="M947.9,551.2 L941.0,552.0 L934.1,552.8 L927.2,553.7 L920.4,554.5 L913.7,555.3 L907.0,556.1 L900.3,556.9 L893.6,557.7 L886.9,558.5 L880.2,559.3 L873.4,560.1 L866.7,560.9 L859.9,561.7 L853.1,562.5 L846.2,563.4 L839.2,564.2 L832.2,565.1 L825.1,565.9 L817.8,566.8 L810.5,567.7 L803.1,568.6 L795.5,569.6 L787.8,570.5 L780.0,571.5 L769.6,572.8 L758.9,574.1 L748.0,575.5 L737.0,576.9 L725.7,578.3 L714.2,579.8 L702.6,581.2 L690.8,582.7 L678.9,584.2 L666.9,585.8 L654.8,587.3 L642.6,588.9 L630.4,590.5 L618.1,592.0 L605.7,593.6 L593.4,595.2 L581.1,596.8 L568.7,598.4 L556.4,600.0 L544.2,601.5 L532.0,603.1 L519.9,604.6 L509.2,606.0"/>
<path d="M1110.4,552.9 L1117.8,553.7 L1125.3,554.6 L1132.7,555.5 L1140.1,556.3 L1147.6,557.2 L1155.1,558.1 L1162.6,559.1 L1170.1,560.0 L1177.5,560.9 L1185.0,561.8 L1192.5,562.7 L1200.0,563.6 L1207.4,564.5 L1214.9,565.4 L1222.3,566.2 L1229.7,567.1 L1237.1,567.9 L1244.4,568.7 L1251.7,569.5 L1259.0,570.3 L1266.3,571.1 L1273.5,571.8 L1280.7,572.5 L1287.8,573.2 L1294.4,573.8 L1300.9,574.3 L1307.3,574.9 L1313.8,575.4 L1320.1,575.9 L1326.5,576.3 L1332.8,576.8 L1339.1,577.2 L1345.4,577.7 L1351.6,578.1 L1357.9,578.5 L1364.1,578.9 L1370.4,579.3 L1376.6,579.7 L1382.8,580.0 L1389.1,580.4 L1395.4,580.8 L1401.7,581.2 L1408.0,581.6 L1414.3,582.0 L1420.7,582.4 L1427.1,582.9 L1433.5,583.3 L1440.0,583.8 L1446.9,584.3 L1453.9,584.8 L1460.9,585.3 L1468.0,585.8 L1475.1,586.3 L1482.3,586.8 L1489.5,587.4 L1496.7,587.9 L1503.9,588.4 L1511.2,589.0 L1518.4,589.5 L1525.7,590.1 L1532.9,590.6 L1540.1,591.1 L1547.3,591.7 L1554.4,592.2 L1561.5,592.8 L1568.6,593.3 L1575.6,593.8 L1582.5,594.4 L1589.3,594.9 L1596.1,595.4 L1602.8,596.0 L1609.4,596.5 L1615.1,596.9 L1620.8,597.4 L1626.4,597.9 L1632.0,598.3 L1637.6,598.8 L1643.2,599.3 L1648.8,599.8 L1654.3,600.3 L1659.8,600.8 L1665.3,601.3 L1670.7,601.8 L1676.1,602.2 L1681.4,602.7 L1686.7,603.2 L1692.0,603.6 L1697.2,604.1 L1702.3,604.5 L1707.4,604.9 L1712.4,605.3 L1717.4,605.7 L1722.3,606.1 L1727.1,606.4 L1731.8,606.8 L1736.5,607.1 L1740.0,607.3 L1743.5,607.5 L1746.9,607.7 L1750.3,607.9 L1753.6,608.0 L1756.9,608.2 L1760.2,608.4 L1763.4,608.5 L1766.5,608.6 L1769.7,608.8 L1772.8,608.9 L1775.9,609.0 L1778.9,609.1 L1782.0,609.2 L1785.1,609.3 L1788.1,609.5 L1791.2,609.6 L1794.2,609.7 L1797.3,609.8 L1799.5,609.9"/>
<path d="M1133.2,554.4 L1129.3,554.7 L1125.6,555.1 L1121.9,555.4 L1118.2,555.7 L1114.6,556.1 L1111.0,556.4 L1107.4,556.7 L1103.9,557.0 L1100.3,557.4 L1096.7,557.7 L1093.1,558.0 L1089.5,558.4 L1085.9,558.7 L1082.1,559.0 L1078.4,559.4 L1074.5,559.7 L1070.6,560.1 L1066.6,560.5 L1062.5,560.8 L1058.2,561.2 L1053.9,561.6 L1049.4,562.0 L1044.8,562.4 L1040.0,562.8 L1031.7,563.6 L1022.9,564.3 L1013.8,565.1 L1004.4,565.9 L994.6,566.7 L984.4,567.6 L974.1,568.5 L963.4,569.4 L952.6,570.3 L941.5,571.2 L930.3,572.2 L918.9,573.1 L907.4,574.1 L895.8,575.1 L884.1,576.1 L872.3,577.1 L860.6,578.0 L848.9,579.0 L837.2,580.0 L825.5,581.0 L813.9,582.0 L802.5,583.0 L791.2,584.0 L780.0,585.0 L768.4,586.0 L756.8,587.1 L745.1,588.1 L733.4,589.2 L721.6,590.3 L709.9,591.3 L698.1,592.4 L686.3,593.5 L674.4,594.6 L662.5,595.7 L650.7,596.8 L638.8,597.9 L626.9,599.0 L615.0,600.1 L603.0,601.2 L591.1,602.3 L579.2,603.4 L567.3,604.5 L555.4,605.6 L543.5,606.7 L531.6,607.8 L519.7,608.9 L509.3,609.9"/>
<path d="M1197.3,628.7 L1197.3,631.6 L1197.3,634.7 L1197.3,637.8 L1197.3,640.9 L1197.3,644.0 L1197.3,647.1 L1197.3,650.2 L1197.3,653.3 L1197.3,656.4 L1197.3,659.6 L1197.3,662.7 L1197.3,664.7"/>
<path d="M1230.4,628.7 L1237.9,631.6 L1246.0,634.7 L1254.1,637.8 L1262.2,640.9 L1270.3,644.0 L1278.4,647.1 L1286.6,650.2 L1294.7,653.3 L1302.8,656.4 L1310.9,659.6 L1319.0,662.7 L1327.1,665.8 L1335.2,668.9 L1343.3,672.0 L1346.5,673.2"/>
<path d="M1290.5,629.0 L1297.5,629.9 L1304.5,630.9 L1311.5,631.8 L1318.6,632.7 L1325.7,633.7 L1332.8,634.6 L1339.9,635.5 L1347.0,636.5 L1354.1,637.4 L1361.2,638.3 L1368.3,639.3 L1375.4,640.2 L1382.5,641.1 L1389.5,642.0 L1396.5,643.0 L1403.5,643.9 L1410.4,644.8 L1417.2,645.7 L1424.1,646.6 L1430.8,647.5 L1437.5,648.4 L1444.1,649.3 L1450.6,650.2 L1457.1,651.0 L1462.6,651.8 L1468.1,652.5 L1473.7,653.2 L1479.2,654.0 L1484.7,654.7 L1490.2,655.4 L1495.6,656.1 L1501.1,656.8 L1506.5,657.5 L1511.8,658.2 L1517.2,658.9 L1522.4,659.6 L1527.7,660.3 L1532.8,661.0 L1537.9,661.7 L1542.9,662.4 L1547.9,663.1 L1552.8,663.8 L1557.6,664.5 L1562.2,665.2 L1566.8,665.9 L1571.3,666.6 L1575.7,667.3 L1580.0,668.0 L1582.9,668.5 L1585.8,669.0 L1588.6,669.4 L1591.3,669.9 L1594.0,670.4 L1596.7,670.9 L1599.2,671.4 L1601.8,671.9 L1604.3,672.4 L1606.8,672.9 L1609.2,673.4 L1611.6,673.9 L1614.0,674.4 L1616.4,674.9 L1618.8,675.4 L1621.2,675.9 L1623.5,676.4 L1625.9,676.9 L1627.5,677.2"/>
<path d="M1448.6,629.0 L1454.1,630.2 L1459.7,631.4 L1465.2,632.7 L1470.8,633.9 L1476.4,635.1 L1482.1,636.4 L1487.7,637.6 L1493.4,638.8 L1499.0,640.1 L1504.6,641.3 L1510.3,642.5 L1515.9,643.8 L1521.5,645.0 L1527.0,646.2 L1532.6,647.4 L1538.1,648.6 L1543.5,649.8 L1548.9,651.0 L1554.3,652.2 L1559.6,653.3 L1564.8,654.5 L1569.9,655.6 L1575.0,656.7 L1580.0,657.8 L1584.1,658.7 L1588.1,659.6 L1592.0,660.4 L1595.9,661.3 L1599.8,662.1 L1603.6,663.0 L1607.4,663.8 L1611.1,664.6 L1614.9,665.4 L1618.6,666.3 L1622.2,667.1 L1625.9,667.9 L1629.5,668.7 L1633.2,669.5 L1636.8,670.2 L1640.4,671.0 L1644.0,671.8 L1647.6,672.6 L1651.3,673.4 L1654.9,674.2 L1656.6,674.6"/>
<path d="M1863.1,628.7 L1856.8,631.6 L1850.0,634.7 L1843.2,637.8 L1836.4,640.9 L1829.7,644.0 L1822.9,647.1 L1816.1,650.2 L1809.3,653.3 L1802.6,656.4 L1795.8,659.6 L1789.0,662.7 L1782.2,665.8 L1775.4,668.9 L1768.7,672.0 L1767.7,672.4"/>
<path d="M2018.1,628.7 L2004.6,631.6 L1990.0,634.7 L1975.4,637.8 L1960.9,640.9 L1946.3,644.0 L1931.8,647.1 L1917.2,650.2 L1902.7,653.3 L1888.1,656.4 L1873.6,659.6 L1859.0,662.7 L1844.4,665.8 L1829.9,668.9 L1815.3,672.0 L1800.8,675.1 L1800.3,675.2"/>
<path d="M1392.0,703.3 L1392.0,706.2 L1392.0,709.3 L1392.0,712.4 L1392.0,715.6 L1392.0,718.7 L1392.0,721.8 L1392.0,724.9 L1392.0,728.0 L1392.0,731.1 L1392.0,734.2 L1392.0,737.3 L1392.0,739.3"/>
<path d="M1449.0,703.3 L1462.0,706.2 L1476.0,709.3 L1490.0,712.4 L1504.0,715.6 L1518.0,718.7 L1532.0,721.8 L1546.0,724.9 L1560.0,728.0 L1574.0,731.1 L1588.0,734.2 L1602.0,737.3 L1616.0,740.4 L1630.0,743.6 L1644.0,746.7 L1658.0,749.8 L1672.0,752.9 L1679.7,754.6"/>
<path d="M1671.0,703.3 L1658.0,706.2 L1644.0,709.3 L1630.0,712.4 L1616.0,715.6 L1602.0,718.7 L1588.0,721.8 L1574.0,724.9 L1560.0,728.0 L1546.0,731.1 L1532.0,734.2 L1518.0,737.3 L1504.0,740.4 L1490.0,743.6 L1476.0,746.7 L1462.0,749.8 L1448.0,752.9 L1446.3,753.3"/>
<path d="M1728.0,703.3 L1728.0,706.2 L1728.0,709.3 L1728.0,712.4 L1728.0,715.6 L1728.0,718.7 L1728.0,721.8 L1728.0,724.9 L1728.0,728.0 L1728.0,731.1 L1728.0,734.2 L1728.0,737.3 L1728.0,739.3"/>
<path d="M421.4,330.7 L419.3,331.6 L417.1,332.5 L415.0,333.4 L412.8,334.3 L410.5,335.2 L408.3,336.0 L406.1,336.9 L403.8,337.7 L401.6,338.6 L399.4,339.4 L397.1,340.3 L394.9,341.2 L392.7,342.0 L390.5,342.9 L388.4,343.8 L386.3,344.7 L384.1,345.7 L382.1,346.6 L380.1,347.6 L378.1,348.6 L376.1,349.6 L374.2,350.7 L372.4,351.8 L370.6,352.9 L369.1,353.9 L367.6,355.0 L366.2,356.0 L364.8,357.0 L363.4,358.1 L362.0,359.2 L360.6,360.3 L359.3,361.4 L358.0,362.6 L356.7,363.7 L355.4,364.9 L354.2,366.1 L352.9,367.2 L351.7,368.4 L350.5,369.6 L349.4,370.8 L348.2,372.0 L347.1,373.2 L346.0,374.4 L345.0,375.7 L343.9,376.9 L342.9,378.1 L341.9,379.3 L340.9,380.5 L340.1,381.5 L339.3,382.5 L338.6,383.6 L337.8,384.6 L337.1,385.6 L336.4,386.7 L335.7,387.7 L335.0,388.8 L334.3,389.8 L333.7,390.9 L333.0,391.9 L332.4,393.0 L331.8,394.0 L331.2,395.1 L330.7,396.2 L330.1,397.2 L329.5,398.3 L329.0,399.4 L328.5,400.5 L328.0,401.5 L327.5,402.6 L327.0,403.7 L326.6,404.8 L326.1,405.9 L325.7,406.9 L325.3,408.0 L325.0,409.0 L324.6,410.1 L324.3,411.1 L323.9,412.2 L323.6,413.3 L323.3,414.3 L323.1,415.4 L322.8,416.5 L322.5,417.5 L322.3,418.6 L322.1,419.7 L321.8,420.8 L321.6,421.8 L321.4,422.9 L321.2,424.0 L321.0,425.0 L320.8,426.1 L320.6,427.2 L320.4,428.2 L320.2,429.2 L320.0,430.3 L319.8,431.3 L319.6,432.2 L319.4,433.2 L319.3,434.1 L319.1,435.0 L318.9,435.9 L318.8,436.8 L318.7,437.7 L318.5,438.6 L318.4,439.5 L318.4,439.7"/>
<path d="M469.4,330.0 L467.9,332.9 L466.3,336.0 L464.7,339.1 L463.1,342.2 L461.5,345.3 L459.9,348.4 L458.3,351.6 L456.7,354.7 L455.1,357.8 L453.4,360.9 L451.8,364.0 L450.2,367.1 L450.0,367.5"/>
<path d="M493.6,330.0 L502.0,336.0 L510.7,342.2 L519.3,348.4 L528.0,354.7 L536.7,360.9 L545.3,367.1 L554.0,373.3 L562.7,379.6 L571.3,385.8 L580.0,392.0 L588.7,398.2 L597.3,404.4 L606.0,410.7 L614.7,416.9 L623.3,423.1 L632.0,429.3 L640.7,435.6 L649.3,441.8 L655.5,446.2"/>
<path d="M416.8,404.7 L412.1,407.6 L407.0,410.7 L401.9,413.8 L396.9,416.9 L391.8,420.0 L386.8,423.1 L381.7,426.2 L376.7,429.3 L371.6,432.4 L366.6,435.6 L361.5,438.7 L356.4,441.8 L351.4,444.9 L347.9,447.0"/>
<path d="M479.2,404.7 L488.7,407.6 L499.0,410.7 L509.3,413.8 L519.6,416.9 L529.8,420.0 L540.1,423.1 L550.4,426.2 L560.7,429.3 L570.9,432.4 L581.2,435.6 L591.5,438.7 L601.8,441.8 L612.1,444.9 L622.3,448.0 L629.4,450.1"/>
<polygon points="361.8,143.3 354.4,155.3 367.7,150.5"/>
<polygon points="476.1,290.7 478.4,304.7 485.3,292.3"/>
<polygon points="730.6,72.3 719.2,80.7 733.3,81.3"/>
<polygon points="756.5,216.7 751.7,230.0 763.7,222.6"/>
<polygon points="919.3,142.0 924.0,155.3 928.7,142.0"/>
<polygon points="1038.9,294.3 1048.5,304.7 1047.5,290.6"/>
<polygon points="1137.6,221.0 1148.6,229.8 1145.5,216.0"/>
<polygon points="1254.4,82.9 1268.3,80.7 1256.0,73.7"/>
<polygon points="2002.9,304.6 1990.1,310.6 2003.8,313.9"/>
<polygon points="726.4,219.6 735.9,230.0 734.9,215.9"/>
<polygon points="762.1,218.9 753.7,230.3 767.3,226.6"/>
<polygon points="978.3,153.5 966.0,160.4 979.9,162.7"/>
<polygon points="1334.0,216.7 1338.7,230.0 1343.3,216.7"/>
<polygon points="1501.9,155.3 1516.0,155.3 1505.0,146.5"/>
<polygon points="2206.7,222.4 2218.8,229.7 2213.8,216.4"/>
<polygon points="1923.4,592.4 1914.9,603.7 1928.6,600.1"/>
<polygon points="334.0,216.7 338.7,230.0 343.3,216.7"/>
<polygon points="140.1,439.4 140.8,453.5 149.0,442.0"/>
<polygon points="776.3,220.8 765.8,230.3 779.9,229.4"/>
<polygon points="1024.0,299.2 1037.0,304.7 1030.3,292.3"/>
<polygon points="2136.8,241.6 2150.4,237.7 2137.3,232.3"/>
<polygon points="1050.3,291.7 1054.2,305.3 1059.6,292.2"/>
<polygon points="1235.7,223.6 1223.4,230.4 1237.3,232.8"/>
<polygon points="160.9,441.4 153.5,453.5 166.8,448.7"/>
<polygon points="1389.0,220.8 1378.0,229.7 1392.1,229.6"/>
<polygon points="1547.3,216.7 1552.0,230.0 1556.7,216.7"/>
<polygon points="1876.7,592.7 1886.0,603.3 1885.3,589.2"/>
<polygon points="1764.0,230.6 1778.1,229.7 1766.5,221.6"/>
<polygon points="2172.0,302.4 2186.0,304.6 2176.5,294.2"/>
<polygon points="1918.0,291.8 1912.6,304.9 1925.0,298.0"/>
<polygon points="2072.6,590.0 2077.3,603.3 2082.0,590.0"/>
<polygon points="342.2,616.8 355.8,613.1 342.8,607.5"/>
<polygon points="961.8,312.2 975.5,308.8 962.7,302.9"/>
<polygon points="889.8,190.4 900.4,181.0 886.3,181.8"/>
<polygon points="307.7,301.5 295.4,308.5 309.4,310.7"/>
<polygon points="736.7,291.3 741.3,304.7 746.0,291.3"/>
<polygon points="686.3,377.0 700.2,379.1 690.6,368.8"/>
<polygon points="986.4,305.4 1000.5,304.0 988.6,296.3"/>
<polygon points="1366.9,381.0 1381.0,379.5 1369.1,371.9"/>
<polygon points="1103.0,520.6 1090.8,527.9 1104.8,529.8"/>
<polygon points="595.2,302.5 582.2,308.2 595.9,311.9"/>
<polygon points="728.3,442.5 719.3,453.4 733.1,450.5"/>
<polygon points="1471.3,303.9 1485.4,304.8 1474.9,295.3"/>
<polygon points="1541.1,441.7 1533.2,453.4 1546.7,449.3"/>
<polygon points="767.1,369.9 756.4,379.1 770.5,378.6"/>
<polygon points="1147.9,297.8 1135.4,304.5 1149.3,307.0"/>
<polygon points="1826.5,306.5 1840.5,304.7 1828.4,297.3"/>
<polygon points="1873.3,298.6 1886.0,304.7 1879.9,292.0"/>
<polygon points="1710.6,440.1 1708.3,454.0 1718.8,444.5"/>
<polygon points="1777.6,758.3 1764.4,763.4 1777.9,767.7"/>
<polygon points="1532.6,440.1 1527.9,453.4 1539.9,445.9"/>
<polygon points="1315.7,531.0 1302.6,536.4 1316.2,540.3"/>
<polygon points="1755.9,521.1 1744.3,529.1 1758.4,530.1"/>
<polygon points="1910.8,590.2 1906.4,603.7 1918.2,595.9"/>
<polygon points="2192.5,365.4 2194.5,379.3 2201.6,367.1"/>
<polygon points="1828.2,680.2 1815.2,685.9 1828.9,689.5"/>
<polygon points="1777.2,754.0 1764.4,760.0 1778.2,763.3"/>
<polygon points="728.9,365.4 731.4,379.3 738.1,366.9"/>
<polygon points="523.0,441.8 514.9,453.4 528.5,449.4"/>
<polygon points="796.9,371.6 785.0,379.1 799.0,380.7"/>
<polygon points="744.4,445.0 733.1,453.4 747.2,453.8"/>
<polygon points="882.2,519.9 871.0,528.5 885.1,528.8"/>
<polygon points="1058.8,367.0 1065.7,379.3 1068.0,365.4"/>
<polygon points="1255.7,593.4 1245.4,603.1 1259.5,601.9"/>
<polygon points="1373.8,592.4 1383.1,603.1 1382.4,589.0"/>
<polygon points="1446.9,454.5 1461.0,453.8 1449.6,445.5"/>
<polygon points="1337.8,381.4 1351.8,379.3 1339.5,372.3"/>
<polygon points="1665.2,452.0 1679.3,453.4 1669.2,443.6"/>
<polygon points="2100.5,390.7 2114.2,387.0 2101.2,381.4"/>
<polygon points="551.3,444.4 540.0,452.9 554.1,453.3"/>
<polygon points="694.6,440.2 691.7,454.0 702.6,445.0"/>
<polygon points="828.3,451.7 842.3,454.0 832.8,443.5"/>
<polygon points="1593.1,529.6 1607.0,527.5 1594.7,520.5"/>
<polygon points="1091.8,444.6 1102.3,454.0 1099.9,440.1"/>
<polygon points="1484.0,449.8 1497.5,454.0 1489.5,442.3"/>
<polygon points="1337.1,765.7 1350.8,762.1 1337.9,756.4"/>
<polygon points="112.6,514.6 111.9,528.7 121.3,518.1"/>
<polygon points="1691.7,749.8 1705.5,752.7 1696.5,741.8"/>
<polygon points="345.9,604.4 360.0,603.0 348.1,595.3"/>
<polygon points="311.3,515.3 316.0,528.7 320.7,515.3"/>
<polygon points="1090.4,616.1 1104.0,612.4 1091.0,606.8"/>
<polygon points="536.6,529.8 550.7,528.7 539.0,520.7"/>
<polygon points="933.8,533.3 947.5,530.2 934.8,524.0"/>
<polygon points="1799.5,616.6 1812.9,612.1 1799.6,607.3"/>
<polygon points="433.5,589.3 431.7,603.3 441.8,593.5"/>
<polygon points="620.1,516.4 613.1,528.7 626.3,523.4"/>
<polygon points="956.7,530.4 970.8,528.7 958.7,521.3"/>
<polygon points="1144.7,530.5 1158.7,528.7 1146.6,521.3"/>
<polygon points="509.1,609.6 496.0,614.8 509.5,619.0"/>
<polygon points="1627.2,527.0 1641.2,528.7 1631.3,518.6"/>
<polygon points="1699.0,672.9 1712.1,678.1 1705.1,665.9"/>
<polygon points="1674.8,514.6 1673.7,528.7 1683.4,518.4"/>
<polygon points="1736.0,663.3 1735.7,677.4 1744.7,666.6"/>
<polygon points="356.6,604.6 370.6,602.9 358.6,595.5"/>
<polygon points="393.1,599.7 406.8,603.3 398.4,592.0"/>
<polygon points="499.4,596.1 487.3,603.3 501.3,605.2"/>
<polygon points="508.6,601.4 496.0,607.7 509.8,610.6"/>
<polygon points="1799.3,614.5 1812.9,610.4 1799.7,605.2"/>
<polygon points="508.8,605.2 496.0,611.1 509.7,614.5"/>
<polygon points="1192.7,664.7 1197.3,678.0 1202.0,664.7"/>
<polygon points="1344.9,677.6 1359.0,678.0 1348.2,668.9"/>
<polygon points="1626.5,681.7 1640.5,679.8 1628.4,672.6"/>
<polygon points="1655.6,679.1 1669.6,677.4 1657.6,670.0"/>
<polygon points="1765.8,668.2 1755.6,678.0 1769.7,676.7"/>
<polygon points="1799.3,670.6 1787.3,678.0 1801.3,679.8"/>
<polygon points="1387.3,739.3 1392.0,752.7 1396.7,739.3"/>
<polygon points="1678.6,759.1 1692.7,757.5 1680.7,750.0"/>
<polygon points="1445.3,748.7 1433.3,756.1 1447.4,757.8"/>
<polygon points="1723.3,739.3 1728.0,752.7 1732.7,739.3"/>
<polygon points="313.7,439.1 316.6,452.9 323.0,440.3"/>
<polygon points="445.9,365.3 443.9,379.3 454.2,369.6"/>
<polygon points="652.8,450.0 666.4,454.0 658.2,442.4"/>
<polygon points="345.5,443.0 336.6,454.0 350.4,451.0"/>
<polygon points="628.0,454.6 642.2,454.0 630.7,445.7"/>
</g>
<g class="t">
<text x="924.00" y="22.67" textLength="74" lengthAdjust="spacing">cancelrun.c</text>
<text x="677.33" y="97.33" textLength="135" lengthAdjust="spacing">rtems/posix/cancel.h</text>
<text x="1338.67" y="97.33" textLength="172" lengthAdjust="spacing">rtems/posix/pthreadimpl.h</text>
<text x="338.67" y="172.00" textLength="150" lengthAdjust="spacing">rtems/score/wkspace.h</text>
<text x="924.00" y="172.00" textLength="62" lengthAdjust="spacing">pthread.h</text>
<text x="1552.00" y="172.00" textLength="164" lengthAdjust="spacing">rtems/score/threadimpl.h</text>
<text x="338.67" y="246.67" textLength="125" lengthAdjust="spacing">rtems/score/heap.h</text>
<text x="741.33" y="246.67" textLength="158" lengthAdjust="spacing">rtems/posix/threadsup.h</text>
<text x="1157.33" y="246.67" textLength="109" lengthAdjust="spacing">rtems/score/isr.h</text>
<text x="1338.67" y="246.67" textLength="162" lengthAdjust="spacing">rtems/score/objectimpl.h</text>
<text x="1552.00" y="246.67" textLength="172" lengthAdjust="spacing">rtems/score/threadqimpl.h</text>
<text x="1824.00" y="246.67" textLength="178" lengthAdjust="spacing">rtems/score/resourceimpl.h</text>
<text x="2228.00" y="246.67" textLength="133" lengthAdjust="spacing">rtems/posix/config.h</text>
<text x="258.67" y="321.33" textLength="51" lengthAdjust="spacing">signal.h</text>
<text x="476.00" y="321.33" textLength="190" lengthAdjust="spacing">rtems/score/threaddispatch.h</text>
<text x="741.33" y="321.33" textLength="149" lengthAdjust="spacing">rtems/score/coresem.h</text>
<text x="1054.67" y="321.33" textLength="135" lengthAdjust="spacing">rtems/score/thread.h</text>
<text x="1514.67" y="321.33" textLength="155" lengthAdjust="spacing">rtems/score/apimutex.h</text>
<text x="1900.00" y="321.33" textLength="157" lengthAdjust="spacing">rtems/score/chainimpl.h</text>
<text x="2206.67" y="321.33" textLength="162" lengthAdjust="spacing">rtems/score/statesimpl.h</text>
<text x="437.33" y="396.00" textLength="147" lengthAdjust="spacing">rtems/score/profiling.h</text>
<text x="729.33" y="396.00" textLength="143" lengthAdjust="spacing">rtems/score/threadq.h</text>
<text x="1068.00" y="396.00" textLength="138" lengthAdjust="spacing">rtems/score/atomic.h</text>
<text x="1413.33" y="396.00" textLength="156" lengthAdjust="spacing">rtems/score/watchdog.h</text>
<text x="2192.00" y="396.00" textLength="133" lengthAdjust="spacing">rtems/score/states.h</text>
<text x="137.33" y="470.67" textLength="128" lengthAdjust="spacing">rtems/score/interr.h</text>
<text x="316.00" y="470.67" textLength="137" lengthAdjust="spacing">rtems/score/percpu.h</text>
<text x="500.00" y="470.67" textLength="140" lengthAdjust="spacing">rtems/score/priority.h</text>
<text x="684.00" y="470.67" textLength="136" lengthAdjust="spacing">rtems/score/isrlock.h</text>
<text x="865.33" y="470.67" textLength="132" lengthAdjust="spacing">rtems/score/rbtree.h</text>
<text x="1109.33" y="470.67" textLength="161" lengthAdjust="spacing">rtems/score/cpuatomic.h</text>
<text x="1514.67" y="470.67" textLength="133" lengthAdjust="spacing">rtems/score/object.h</text>
<text x="1701.33" y="470.67" textLength="149" lengthAdjust="spacing">rtems/score/resource.h</text>
<text x="106.67" y="545.33" textLength="102" lengthAdjust="spacing">rtems/system.h</text>
<text x="316.00" y="545.33" textLength="121" lengthAdjust="spacing">rtems/score/smp.h</text>
<text x="598.67" y="545.33" textLength="148" lengthAdjust="spacing">rtems/score/smplock.h</text>
<text x="790.67" y="545.33" textLength="142" lengthAdjust="spacing">rtems/score/context.h</text>
<text x="1029.33" y="545.33" textLength="141" lengthAdjust="spacing">rtems/score/isrlevel.h</text>
<text x="1218.67" y="545.33" textLength="144" lengthAdjust="spacing">rtems/score/address.h</text>
<text x="1668.00" y="545.33" textLength="128" lengthAdjust="spacing">rtems/score/chain.h</text>
<text x="425.33" y="620.00" textLength="116" lengthAdjust="spacing">rtems/score/cpu.h</text>
<text x="1197.33" y="620.00" textLength="164" lengthAdjust="spacing">rtems/score/timestamp.h</text>
<text x="1390.67" y="620.00" textLength="128" lengthAdjust="spacing">rtems/score/stack.h</text>
<text x="1890.67" y="620.00" textLength="133" lengthAdjust="spacing">rtems/score/assert.h</text>
<text x="2077.33" y="620.00" textLength="148" lengthAdjust="spacing">rtems/score/sysstate.h</text>
<text x="1197.33" y="694.67" textLength="68" lengthAdjust="spacing">sys/time.h</text>
<text x="1392.00" y="694.67" textLength="153" lengthAdjust="spacing">rtems/score/timespec.h</text>
<text x="1728.00" y="694.67" textLength="152" lengthAdjust="spacing">rtems/score/basedefs.h</text>
<text x="1392.00" y="769.33" textLength="60" lengthAdjust="spacing">stdbool.h</text>
<text x="1728.00" y="769.33" textLength="49" lengthAdjust="spacing">stdint.h</text>
</g>
</svg>
</body></html>
